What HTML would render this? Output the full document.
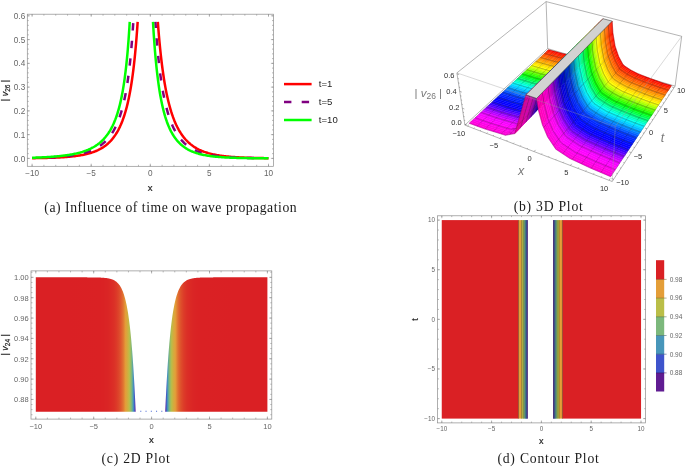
<!DOCTYPE html>
<html lang="en"><head><meta charset="utf-8"><title>Figure</title>
<style>html,body{margin:0;padding:0;background:#fff}svg{display:block}text{white-space:pre}.q{fill:currentColor;stroke:currentColor;stroke-width:.4}.m{stroke:#1a1a1a;stroke-opacity:.55;stroke-width:.4;fill:none}.g{stroke:#333;stroke-opacity:.8;stroke-width:.5;fill:none}</style></head>
<body>
<svg width="685" height="467" viewBox="0 0 685 467">
<rect width="685" height="467" fill="#fff"/>
<g fill="none" stroke-width="2.5" stroke-linecap="butt" stroke-linejoin="round">
<path d="M32.10 158.18L33.10 158.17L34.10 158.15L35.09 158.14L36.09 158.12L37.09 158.11L38.09 158.09L39.08 158.08L40.08 158.06L41.08 158.04L42.07 158.02L43.07 158.00L44.07 157.98L45.06 157.95L46.06 157.93L47.06 157.90L48.05 157.87L49.05 157.84L50.04 157.81L51.04 157.78L52.03 157.75L53.03 157.71L54.02 157.67L55.02 157.63L56.01 157.59L57.00 157.54L58.00 157.50L58.99 157.45L59.98 157.39L60.97 157.34L61.96 157.28L62.95 157.22L63.94 157.15L64.93 157.08L65.92 157.01L66.91 156.93L67.90 156.85L68.89 156.77L69.87 156.67L70.86 156.58L71.85 156.48L72.83 156.37L73.81 156.26L74.80 156.14L75.78 156.02L76.76 155.88L77.74 155.74L78.72 155.60L79.70 155.44L80.67 155.28L81.65 155.10L82.62 154.92L83.59 154.73L84.57 154.52L85.54 154.31L86.50 154.08L87.47 153.84L88.43 153.59L89.40 153.32L90.36 153.04L91.32 152.74L92.27 152.43L93.23 152.10L94.18 151.75L95.13 151.38L96.07 150.99L97.02 150.58L97.96 150.15L98.90 149.69L99.83 149.21L100.76 148.70L101.69 148.16L102.61 147.59L103.53 146.99L104.45 146.36L105.36 145.70L106.27 144.99L107.17 144.25L108.07 143.46L108.96 142.63L109.85 141.76L110.73 140.84L111.61 139.86L112.48 138.84L113.34 137.75L114.20 136.61L115.05 135.40L115.89 134.12L116.73 132.78L117.56 131.36L118.38 129.86L119.19 128.27L120.00 126.60L120.80 124.84L121.58 122.98L122.36 121.02L123.13 118.94L123.89 116.76L124.64 114.45L125.38 112.01L126.11 109.44L126.83 106.72L127.53 103.86L128.23 100.83L128.91 97.64L129.58 94.27L130.24 90.72L130.89 86.97L131.53 83.00L132.15 78.82L132.76 74.41L133.36 69.76L133.94 64.84L134.51 59.65L135.07 54.18L135.61 48.40L136.15 42.30L136.66 35.86L137.17 29.07L137.66 21.90" stroke="#ff0000"/>
<path d="M268.50 158.18L267.47 158.17L266.44 158.16L265.41 158.14L264.38 158.13L263.35 158.12L262.32 158.10L261.29 158.08L260.26 158.07L259.23 158.05L258.21 158.03L257.18 158.01L256.15 157.98L255.12 157.96L254.09 157.94L253.06 157.91L252.04 157.88L251.01 157.86L249.98 157.83L248.95 157.79L247.93 157.76L246.90 157.72L245.87 157.69L244.84 157.65L243.82 157.60L242.79 157.56L241.77 157.51L240.74 157.46L239.72 157.41L238.69 157.36L237.67 157.30L236.64 157.24L235.62 157.17L234.60 157.11L233.58 157.03L232.55 156.96L231.53 156.88L230.51 156.79L229.49 156.70L228.47 156.61L227.45 156.51L226.43 156.40L225.42 156.29L224.40 156.17L223.38 156.05L222.37 155.92L221.35 155.78L220.34 155.64L219.33 155.48L218.31 155.32L217.30 155.15L216.29 154.97L215.29 154.78L214.28 154.57L213.27 154.36L212.27 154.14L211.27 153.90L210.26 153.65L209.26 153.38L208.27 153.11L207.27 152.81L206.28 152.50L205.28 152.17L204.29 151.83L203.31 151.46L202.32 151.07L201.34 150.67L200.36 150.23L199.38 149.78L198.40 149.30L197.43 148.79L196.46 148.26L195.49 147.69L194.53 147.10L193.57 146.47L192.62 145.81L191.67 145.11L190.72 144.37L189.78 143.58L188.84 142.76L187.90 141.89L186.97 140.97L186.05 140.00L185.13 138.98L184.22 137.90L183.31 136.75L182.41 135.55L181.52 134.28L180.63 132.93L179.75 131.52L178.87 130.02L178.00 128.44L177.14 126.77L176.29 125.01L175.45 123.16L174.61 121.20L173.79 119.12L172.97 116.94L172.16 114.63L171.36 112.20L170.58 109.62L169.80 106.91L169.03 104.04L168.27 101.02L167.53 97.82L166.79 94.45L166.07 90.89L165.36 87.14L164.66 83.17L163.97 78.98L163.30 74.56L162.64 69.90L161.99 64.97L161.35 59.77L160.73 54.28L160.12 48.49L159.53 42.37L158.94 35.91L158.38 29.10L157.82 21.90" stroke="#ff0000"/>
<path id="pl" d="M41.23 157.73L42.03 157.71L42.82 157.68L43.61 157.65L44.40 157.62L45.19 157.59L45.98 157.56L46.78 157.53L47.57 157.49L48.36 157.46L49.15 157.42L49.94 157.38L50.73 157.34L51.52 157.30L52.31 157.26L53.10 157.22L53.88 157.17L54.67 157.12L55.46 157.07L56.25 157.02L57.03 156.97L57.82 156.91L58.61 156.85L59.39 156.79L60.17 156.73L60.96 156.66L61.74 156.60L62.52 156.53L63.31 156.45L64.09 156.38L64.87 156.30L65.65 156.22L66.43 156.13L67.21 156.04L67.98 155.95L68.76 155.85L69.54 155.76L70.31 155.65L71.09 155.54L71.86 155.43L72.63 155.32L73.40 155.20L74.18 155.07L74.95 154.94L75.71 154.81L76.48 154.67L77.25 154.52L78.01 154.37L78.78 154.21L79.54 154.05L80.30 153.88L81.06 153.70L81.82 153.52L82.58 153.33L83.33 153.13L84.08 152.93L84.84 152.71L85.59 152.49L86.33 152.26L87.08 152.02L87.83 151.77L88.57 151.51L89.31 151.24L90.05 150.96L90.78 150.67L91.52 150.37L92.25 150.06L92.98 149.73L93.71 149.40L94.43 149.04L95.16 148.68L95.87 148.30L96.59 147.90L97.30 147.50L98.01 147.07L98.72 146.63L99.43 146.17L100.13 145.69L100.83 145.19L101.52 144.68L102.21 144.14L102.90 143.59L103.58 143.01L104.27 142.41L104.94 141.78L105.61 141.13L106.28 140.46L106.94 139.76L107.60 139.03L108.26 138.28L108.91 137.49L109.56 136.68L110.20 135.83L110.83 134.95L111.47 134.03L112.09 133.08L112.71 132.09L113.33 131.07L113.94 130.00L114.55 128.89L115.14 127.74L115.74 126.54L116.33 125.30L116.91 124.01L117.49 122.66L118.06 121.27L118.62 119.82L119.18 118.31L119.73 116.75L120.27 115.12L120.81 113.43L121.35 111.68L121.87 109.85L122.38 107.96L122.90 105.99L123.40 103.94L123.90 101.82L124.39 99.61L124.87 97.32L125.35 94.93L125.81 92.45L126.27 89.88L126.73 87.21L127.17 84.43L127.61 81.54L128.05 78.54L128.47 75.42L128.88 72.18L129.29 68.82L129.69 65.32L130.09 61.69L130.47 57.91L130.85 53.99L131.22 49.92L131.59 45.68L131.94 41.28L132.29 36.71L132.63 31.96L132.97 27.03L133.30 21.90" stroke="#800080" stroke-dasharray="7.3 10.3" stroke-dashoffset="9.66"/>
<path id="pr" d="M155.40 21.90L155.83 28.08L156.26 33.99L156.70 39.63L157.15 45.01L157.61 50.15L158.07 55.05L158.55 59.73L159.04 64.20L159.54 68.47L160.04 72.55L160.56 76.44L161.08 80.15L161.62 83.70L162.16 87.08L162.71 90.31L163.27 93.40L163.84 96.34L164.42 99.15L165.01 101.84L165.60 104.40L166.20 106.85L166.82 109.18L167.43 111.41L168.06 113.54L168.70 115.58L169.34 117.52L169.98 119.37L170.64 121.14L171.30 122.83L171.97 124.44L172.64 125.98L173.32 127.45L174.01 128.85L174.70 130.19L175.40 131.47L176.11 132.69L176.82 133.85L177.53 134.96L178.25 136.03L178.98 137.04L179.71 138.01L180.44 138.93L181.18 139.81L181.92 140.66L182.67 141.46L183.42 142.23L184.17 142.96L184.93 143.66L185.70 144.33L186.46 144.96L187.23 145.57L188.01 146.15L188.78 146.71L189.56 147.24L190.34 147.74L191.12 148.23L191.91 148.69L192.70 149.13L193.49 149.55L194.29 149.95L195.08 150.33L195.88 150.70L196.68 151.05L197.49 151.38L198.29 151.70L199.10 152.00L199.90 152.29L200.71 152.57L201.52 152.83L202.34 153.09L203.15 153.33L203.97 153.56L204.79 153.78L205.60 153.98L206.42 154.18L207.24 154.38L208.07 154.56L208.89 154.73L209.72 154.90L210.54 155.06L211.37 155.21L212.19 155.35L213.02 155.49L213.85 155.62L214.68 155.75L215.51 155.87L216.34 155.98L217.18 156.09L218.01 156.20L218.84 156.30L219.67 156.39L220.51 156.48L221.35 156.57L222.18 156.65L223.02 156.73L223.85 156.81L224.69 156.88L225.52 156.95L226.37 157.01L227.21 157.08L228.04 157.14L228.88 157.19L229.72 157.25L230.56 157.30L231.40 157.35L232.24 157.40L233.09 157.44L233.93 157.49L234.77 157.53L235.61 157.57L236.45 157.61L237.29 157.64L238.13 157.68L238.98 157.71L239.82 157.74L240.66 157.77L241.50 157.80L242.35 157.83L243.19 157.85L244.04 157.88L244.88 157.90L245.72 157.92L246.57 157.94L247.41 157.97L248.25 157.99L249.10 158.00L249.95 158.02L250.79 158.04L251.64 158.06L252.48 158.07L253.33 158.09L254.17 158.10L255.01 158.11L255.86 158.13L256.71 158.14L257.56 158.15L258.40 158.16L259.24 158.17L260.09 158.18" stroke="#800080" stroke-dasharray="7.3 10.3" stroke-dashoffset="1.18"/>
<path d="M32.10 157.73L33.11 157.70L34.12 157.67L35.13 157.64L36.13 157.60L37.14 157.57L38.15 157.53L39.16 157.49L40.16 157.45L41.17 157.40L42.17 157.36L43.18 157.31L44.18 157.26L45.18 157.21L46.19 157.15L47.19 157.10L48.19 157.04L49.19 156.97L50.19 156.91L51.18 156.84L52.18 156.77L53.18 156.70L54.17 156.62L55.17 156.54L56.16 156.45L57.15 156.36L58.14 156.27L59.13 156.17L60.12 156.07L61.11 155.96L62.09 155.85L63.08 155.73L64.06 155.61L65.04 155.48L66.02 155.35L67.00 155.21L67.97 155.07L68.95 154.91L69.92 154.75L70.89 154.59L71.86 154.41L72.82 154.23L73.79 154.04L74.75 153.84L75.71 153.63L76.66 153.41L77.61 153.19L78.56 152.95L79.51 152.70L80.46 152.44L81.40 152.16L82.34 151.88L83.27 151.58L84.20 151.27L85.13 150.94L86.05 150.60L86.97 150.24L87.89 149.87L88.80 149.48L89.71 149.07L90.61 148.65L91.51 148.20L92.40 147.73L93.29 147.25L94.17 146.74L95.05 146.20L95.92 145.65L96.78 145.06L97.64 144.45L98.50 143.81L99.35 143.15L100.19 142.45L101.02 141.72L101.85 140.96L102.67 140.16L103.49 139.32L104.29 138.45L105.09 137.54L105.88 136.58L106.66 135.59L107.44 134.54L108.21 133.45L108.96 132.31L109.71 131.12L110.45 129.87L111.18 128.56L111.90 127.20L112.62 125.77L113.32 124.28L114.01 122.72L114.69 121.09L115.37 119.38L116.03 117.60L116.68 115.73L117.32 113.78L117.95 111.74L118.57 109.60L119.18 107.37L119.78 105.04L120.36 102.60L120.94 100.04L121.50 97.38L122.06 94.58L122.60 91.67L123.13 88.61L123.65 85.42L124.15 82.08L124.65 78.59L125.13 74.94L125.61 71.12L126.07 67.13L126.52 62.96L126.96 58.59L127.39 54.03L127.81 49.25L128.21 44.26L128.61 39.04L128.99 33.58L129.37 27.87L129.73 21.90" stroke="#00ff00"/>
<path d="M268.50 158.32L267.41 158.31L266.32 158.31L265.23 158.30L264.15 158.29L263.06 158.29L261.97 158.28L260.88 158.27L259.79 158.26L258.70 158.26L257.62 158.25L256.53 158.24L255.44 158.23L254.35 158.21L253.27 158.20L252.18 158.19L251.09 158.18L250.00 158.16L248.92 158.15L247.83 158.13L246.74 158.11L245.66 158.09L244.57 158.07L243.48 158.05L242.40 158.03L241.31 158.01L240.23 157.98L239.14 157.96L238.06 157.93L236.97 157.90L235.89 157.86L234.80 157.83L233.72 157.79L232.64 157.75L231.55 157.71L230.47 157.67L229.39 157.62L228.31 157.57L227.23 157.52L226.15 157.46L225.07 157.40L223.99 157.34L222.91 157.27L221.83 157.20L220.75 157.12L219.68 157.04L218.60 156.95L217.52 156.86L216.45 156.76L215.38 156.65L214.31 156.54L213.24 156.42L212.17 156.29L211.10 156.16L210.03 156.01L208.97 155.86L207.90 155.70L206.84 155.52L205.78 155.34L204.72 155.14L203.66 154.93L202.61 154.71L201.55 154.47L200.50 154.22L199.45 153.95L198.41 153.67L197.37 153.36L196.33 153.04L195.29 152.69L194.25 152.33L193.22 151.94L192.20 151.52L191.17 151.08L190.15 150.61L189.14 150.11L188.13 149.58L187.12 149.01L186.12 148.41L185.13 147.77L184.13 147.08L183.15 146.36L182.17 145.58L181.20 144.76L180.23 143.88L179.28 142.95L178.32 141.96L177.38 140.90L176.44 139.78L175.52 138.58L174.60 137.31L173.69 135.96L172.79 134.51L171.90 132.98L171.02 131.35L170.15 129.61L169.30 127.76L168.45 125.79L167.62 123.70L166.79 121.47L165.99 119.10L165.19 116.57L164.41 113.89L163.64 111.03L162.89 107.99L162.15 104.75L161.42 101.30L160.72 97.63L160.02 93.73L159.34 89.58L158.68 85.16L158.04 80.45L157.41 75.44L156.80 70.12L156.20 64.45L155.62 58.41L155.06 51.99L154.52 45.15L153.99 37.88L153.48 30.14L152.99 21.90" stroke="#00ff00"/>
</g>
<path d="M32.10 166.30v-1.50M32.10 14.20v1.50M43.92 166.30v-1.50M43.92 14.20v1.50M55.74 166.30v-1.50M55.74 14.20v1.50M67.56 166.30v-1.50M67.56 14.20v1.50M79.38 166.30v-1.50M79.38 14.20v1.50M91.20 166.30v-1.50M91.20 14.20v1.50M103.02 166.30v-1.50M103.02 14.20v1.50M114.84 166.30v-1.50M114.84 14.20v1.50M126.66 166.30v-1.50M126.66 14.20v1.50M138.48 166.30v-1.50M138.48 14.20v1.50M150.30 166.30v-1.50M150.30 14.20v1.50M162.12 166.30v-1.50M162.12 14.20v1.50M173.94 166.30v-1.50M173.94 14.20v1.50M185.76 166.30v-1.50M185.76 14.20v1.50M197.58 166.30v-1.50M197.58 14.20v1.50M209.40 166.30v-1.50M209.40 14.20v1.50M221.22 166.30v-1.50M221.22 14.20v1.50M233.04 166.30v-1.50M233.04 14.20v1.50M244.86 166.30v-1.50M244.86 14.20v1.50M256.68 166.30v-1.50M256.68 14.20v1.50M268.50 166.30v-1.50M268.50 14.20v1.50M32.10 166.30v-2.60M32.10 14.20v2.60M91.20 166.30v-2.60M91.20 14.20v2.60M150.30 166.30v-2.60M150.30 14.20v2.60M209.40 166.30v-2.60M209.40 14.20v2.60M268.50 166.30v-2.60M268.50 14.20v2.60M27.30 158.40h1.50M273.50 158.40h-1.50M27.30 153.65h1.50M273.50 153.65h-1.50M27.30 148.90h1.50M273.50 148.90h-1.50M27.30 144.14h1.50M273.50 144.14h-1.50M27.30 139.39h1.50M273.50 139.39h-1.50M27.30 134.64h1.50M273.50 134.64h-1.50M27.30 129.89h1.50M273.50 129.89h-1.50M27.30 125.14h1.50M273.50 125.14h-1.50M27.30 120.38h1.50M273.50 120.38h-1.50M27.30 115.63h1.50M273.50 115.63h-1.50M27.30 110.88h1.50M273.50 110.88h-1.50M27.30 106.13h1.50M273.50 106.13h-1.50M27.30 101.38h1.50M273.50 101.38h-1.50M27.30 96.62h1.50M273.50 96.62h-1.50M27.30 91.87h1.50M273.50 91.87h-1.50M27.30 87.12h1.50M273.50 87.12h-1.50M27.30 82.37h1.50M273.50 82.37h-1.50M27.30 77.62h1.50M273.50 77.62h-1.50M27.30 72.86h1.50M273.50 72.86h-1.50M27.30 68.11h1.50M273.50 68.11h-1.50M27.30 63.36h1.50M273.50 63.36h-1.50M27.30 58.61h1.50M273.50 58.61h-1.50M27.30 53.86h1.50M273.50 53.86h-1.50M27.30 49.10h1.50M273.50 49.10h-1.50M27.30 44.35h1.50M273.50 44.35h-1.50M27.30 39.60h1.50M273.50 39.60h-1.50M27.30 34.85h1.50M273.50 34.85h-1.50M27.30 30.10h1.50M273.50 30.10h-1.50M27.30 25.34h1.50M273.50 25.34h-1.50M27.30 20.59h1.50M273.50 20.59h-1.50M27.30 15.84h1.50M273.50 15.84h-1.50M27.30 158.40h2.60M273.50 158.40h-2.60M27.30 134.64h2.60M273.50 134.64h-2.60M27.30 110.88h2.60M273.50 110.88h-2.60M27.30 87.12h2.60M273.50 87.12h-2.60M27.30 63.36h2.60M273.50 63.36h-2.60M27.30 39.60h2.60M273.50 39.60h-2.60M27.30 15.84h2.60M273.50 15.84h-2.60" stroke="#8a8a8a" stroke-width="0.6" fill="none"/>
<rect x="27.30" y="14.20" width="246.20" height="152.10" fill="none" stroke="#8c8c8c" stroke-width="0.70"/>
<g font-family='"Liberation Sans", Arial, sans-serif' font-size="8.20" fill="#666">
<text x="32.10" y="175.70" text-anchor="middle">−10</text>
<text x="91.20" y="175.70" text-anchor="middle">−5</text>
<text x="150.30" y="175.70" text-anchor="middle">0</text>
<text x="209.40" y="175.70" text-anchor="middle">5</text>
<text x="268.50" y="175.70" text-anchor="middle">10</text>
<text x="25.20" y="161.52" text-anchor="end">0.0</text>
<text x="25.20" y="137.76" text-anchor="end">0.1</text>
<text x="25.20" y="114.00" text-anchor="end">0.2</text>
<text x="25.20" y="90.24" text-anchor="end">0.3</text>
<text x="25.20" y="66.48" text-anchor="end">0.4</text>
<text x="25.20" y="42.72" text-anchor="end">0.5</text>
<text x="25.20" y="18.96" text-anchor="end">0.6</text>
</g>
<text x="150.2" y="190.6" text-anchor="middle" font-family='"Liberation Sans", Arial, sans-serif' font-size="9.5" fill="#222" stroke="#222" stroke-width="0.2">x</text>
<text transform="translate(8.3,90.5) rotate(-90)" text-anchor="middle" font-family='"Liberation Sans", Arial, sans-serif' font-size="9" fill="#222" stroke="#222" stroke-width="0.2">| <tspan font-style="italic">v</tspan><tspan font-size="6.5" dy="1.8">26</tspan><tspan dy="-1.8"> |</tspan></text>
<g stroke-width="2.5" fill="none"><path d="M284 84.1H311.6" stroke="#ff0000"/><path d="M284 102H311.6" stroke="#800080" stroke-dasharray="7.4 10.3"/><path d="M284 120H311.6" stroke="#00ff00"/></g>
<g font-family='"Liberation Sans", Arial, sans-serif' font-size="9.6" fill="#222"><text x="318.8" y="87.0">t=1</text><text x="318.8" y="104.9">t=5</text><text x="318.8" y="122.9">t=10</text></g>
<defs>
<linearGradient id="gcl" gradientUnits="userSpaceOnUse" x1="35.80" x2="135.69" y1="0" y2="0">
<stop offset="0.0000" stop-color="#da2024"/>
<stop offset="0.3188" stop-color="#da2024"/>
<stop offset="0.6376" stop-color="#da2124"/>
<stop offset="0.6492" stop-color="#da2124"/>
<stop offset="0.6564" stop-color="#da2224"/>
<stop offset="0.6635" stop-color="#da2224"/>
<stop offset="0.6707" stop-color="#da2224"/>
<stop offset="0.6778" stop-color="#da2224"/>
<stop offset="0.6850" stop-color="#da2324"/>
<stop offset="0.6922" stop-color="#da2325"/>
<stop offset="0.6993" stop-color="#da2425"/>
<stop offset="0.7065" stop-color="#da2425"/>
<stop offset="0.7136" stop-color="#da2525"/>
<stop offset="0.7208" stop-color="#da2525"/>
<stop offset="0.7279" stop-color="#da2625"/>
<stop offset="0.7351" stop-color="#db2725"/>
<stop offset="0.7423" stop-color="#db2825"/>
<stop offset="0.7494" stop-color="#db2925"/>
<stop offset="0.7566" stop-color="#db2a26"/>
<stop offset="0.7637" stop-color="#db2c26"/>
<stop offset="0.7709" stop-color="#db2d26"/>
<stop offset="0.7781" stop-color="#db2f26"/>
<stop offset="0.7852" stop-color="#db3127"/>
<stop offset="0.7924" stop-color="#dc3327"/>
<stop offset="0.7995" stop-color="#dc3628"/>
<stop offset="0.8067" stop-color="#dc3928"/>
<stop offset="0.8139" stop-color="#dc3d29"/>
<stop offset="0.8210" stop-color="#dd4129"/>
<stop offset="0.8282" stop-color="#dd452a"/>
<stop offset="0.8353" stop-color="#dd4a2b"/>
<stop offset="0.8425" stop-color="#de502c"/>
<stop offset="0.8497" stop-color="#de562d"/>
<stop offset="0.8568" stop-color="#df5e2e"/>
<stop offset="0.8640" stop-color="#e0662f"/>
<stop offset="0.8711" stop-color="#e07031"/>
<stop offset="0.8783" stop-color="#e17a32"/>
<stop offset="0.8855" stop-color="#e28734"/>
<stop offset="0.8926" stop-color="#e39537"/>
<stop offset="0.8998" stop-color="#e2a039"/>
<stop offset="0.9069" stop-color="#dca43b"/>
<stop offset="0.9141" stop-color="#d5a93e"/>
<stop offset="0.9212" stop-color="#cdaf41"/>
<stop offset="0.9284" stop-color="#c5b644"/>
<stop offset="0.9356" stop-color="#bbbd48"/>
<stop offset="0.9427" stop-color="#abbd55"/>
<stop offset="0.9499" stop-color="#98bb64"/>
<stop offset="0.9570" stop-color="#84b976"/>
<stop offset="0.9642" stop-color="#6faf8c"/>
<stop offset="0.9714" stop-color="#58a1a7"/>
<stop offset="0.9785" stop-color="#468bbd"/>
<stop offset="0.9857" stop-color="#4167c7"/>
<stop offset="0.9928" stop-color="#4942b9"/>
<stop offset="1.0000" stop-color="#601c92"/>
</linearGradient>
<linearGradient id="gcr" gradientUnits="userSpaceOnUse" x1="165.19" x2="267.40" y1="0" y2="0">
<stop offset="0.0000" stop-color="#601c92"/>
<stop offset="0.0075" stop-color="#4745bc"/>
<stop offset="0.0149" stop-color="#426cc5"/>
<stop offset="0.0224" stop-color="#4791bb"/>
<stop offset="0.0298" stop-color="#5ea59f"/>
<stop offset="0.0373" stop-color="#75b484"/>
<stop offset="0.0448" stop-color="#8cba6e"/>
<stop offset="0.0522" stop-color="#a1bc5d"/>
<stop offset="0.0597" stop-color="#b4bd4d"/>
<stop offset="0.0671" stop-color="#c1b945"/>
<stop offset="0.0746" stop-color="#cbb142"/>
<stop offset="0.0821" stop-color="#d3ab3e"/>
<stop offset="0.0895" stop-color="#dba53c"/>
<stop offset="0.0970" stop-color="#e1a039"/>
<stop offset="0.1044" stop-color="#e39637"/>
<stop offset="0.1119" stop-color="#e28734"/>
<stop offset="0.1194" stop-color="#e17a32"/>
<stop offset="0.1268" stop-color="#e06e30"/>
<stop offset="0.1343" stop-color="#df642f"/>
<stop offset="0.1417" stop-color="#df5c2d"/>
<stop offset="0.1492" stop-color="#de542c"/>
<stop offset="0.1566" stop-color="#de4d2b"/>
<stop offset="0.1641" stop-color="#dd482a"/>
<stop offset="0.1716" stop-color="#dd4329"/>
<stop offset="0.1790" stop-color="#dc3e29"/>
<stop offset="0.1865" stop-color="#dc3a28"/>
<stop offset="0.1939" stop-color="#dc3728"/>
<stop offset="0.2014" stop-color="#dc3427"/>
<stop offset="0.2089" stop-color="#db3127"/>
<stop offset="0.2163" stop-color="#db2f26"/>
<stop offset="0.2238" stop-color="#db2d26"/>
<stop offset="0.2312" stop-color="#db2c26"/>
<stop offset="0.2387" stop-color="#db2a26"/>
<stop offset="0.2462" stop-color="#db2925"/>
<stop offset="0.2536" stop-color="#db2825"/>
<stop offset="0.2611" stop-color="#db2725"/>
<stop offset="0.2685" stop-color="#da2625"/>
<stop offset="0.2760" stop-color="#da2525"/>
<stop offset="0.2835" stop-color="#da2425"/>
<stop offset="0.2909" stop-color="#da2425"/>
<stop offset="0.2984" stop-color="#da2325"/>
<stop offset="0.3058" stop-color="#da2324"/>
<stop offset="0.3133" stop-color="#da2324"/>
<stop offset="0.3208" stop-color="#da2224"/>
<stop offset="0.3282" stop-color="#da2224"/>
<stop offset="0.3357" stop-color="#da2224"/>
<stop offset="0.3431" stop-color="#da2124"/>
<stop offset="0.3506" stop-color="#da2124"/>
<stop offset="0.3581" stop-color="#da2124"/>
<stop offset="0.3655" stop-color="#da2124"/>
<stop offset="0.3768" stop-color="#da2124"/>
<stop offset="0.6884" stop-color="#da2024"/>
<stop offset="1.0000" stop-color="#da2024"/>
</linearGradient>
</defs>
<path d="M35.80 411.66L35.80 277.35L36.30 277.35L36.80 277.35L37.31 277.35L37.81 277.35L38.31 277.35L38.81 277.35L39.31 277.35L39.82 277.35L40.32 277.35L40.82 277.35L41.32 277.35L41.82 277.35L42.33 277.35L42.83 277.35L43.33 277.35L43.83 277.35L44.33 277.35L44.84 277.35L45.34 277.35L45.84 277.35L46.34 277.35L46.84 277.35L47.35 277.35L47.85 277.35L48.35 277.35L48.85 277.35L49.35 277.35L49.85 277.35L50.36 277.35L50.86 277.35L51.36 277.35L51.86 277.35L52.36 277.35L52.87 277.35L53.37 277.35L53.87 277.35L54.37 277.35L54.87 277.35L55.38 277.35L55.88 277.35L56.38 277.35L56.88 277.35L57.38 277.35L57.89 277.35L58.39 277.35L58.89 277.35L59.39 277.35L59.89 277.35L60.40 277.35L60.90 277.35L61.40 277.35L61.90 277.35L62.40 277.35L62.91 277.35L63.41 277.35L63.91 277.35L64.41 277.35L64.91 277.35L65.42 277.35L65.92 277.35L66.42 277.35L66.92 277.35L67.42 277.35L67.93 277.35L68.43 277.35L68.93 277.35L69.43 277.35L69.93 277.35L70.44 277.35L70.94 277.35L71.44 277.35L71.94 277.35L72.44 277.35L72.94 277.35L73.45 277.35L73.95 277.35L74.45 277.35L74.95 277.35L75.45 277.35L75.96 277.35L76.46 277.35L76.96 277.35L77.46 277.35L77.96 277.35L78.47 277.35L78.97 277.36L79.47 277.36L79.97 277.36L80.47 277.36L80.98 277.36L81.48 277.36L81.98 277.36L82.48 277.36L82.98 277.36L83.49 277.36L83.99 277.36L84.49 277.36L84.99 277.37L85.49 277.37L86.00 277.37L86.50 277.37L87.00 277.37L87.50 277.38L88.00 277.38L88.51 277.38L89.01 277.38L89.51 277.39L90.01 277.39L90.51 277.39L91.02 277.40L91.52 277.40L92.02 277.41L92.52 277.41L93.02 277.42L93.53 277.42L94.03 277.43L94.53 277.44L95.03 277.45L95.53 277.46L96.03 277.47L96.54 277.48L97.04 277.49L97.54 277.50L98.04 277.52L98.54 277.53L99.05 277.55L99.55 277.57L100.05 277.59L100.55 277.61L101.05 277.64L101.56 277.66L102.06 277.69L102.56 277.72L103.06 277.76L103.56 277.80L104.07 277.84L104.57 277.89L105.07 277.94L105.57 277.99L106.07 278.05L106.58 278.12L107.08 278.19L107.58 278.27L108.08 278.36L108.58 278.45L109.09 278.56L109.59 278.67L110.09 278.80L110.59 278.93L111.09 279.08L111.60 279.25L112.10 279.42L112.60 279.62L113.10 279.83L113.60 280.07L114.11 280.32L114.61 280.60L115.11 280.91L115.61 281.25L116.11 281.61L116.62 282.01L117.12 282.45L117.62 282.93L118.12 283.46L118.62 284.03L119.13 284.66L119.63 285.35L120.13 286.10L120.63 286.92L121.13 287.82L121.63 288.80L122.14 289.88L122.64 291.05L123.14 292.33L123.64 293.74L124.14 295.27L124.65 296.94L125.15 298.77L125.65 300.77L126.15 302.95L126.65 305.34L127.16 307.94L127.66 310.77L128.16 313.87L128.66 317.25L129.16 320.93L129.67 324.95L130.17 329.33L130.67 334.09L131.17 339.28L131.67 344.93L132.18 351.08L132.68 357.76L133.18 365.02L133.68 372.90L134.18 381.46L134.69 390.73L135.19 400.78L135.69 411.66L135.69 411.66Z" fill="url(#gcl)"/>
<path d="M165.19 411.66L165.19 411.66L165.71 400.54L166.22 390.29L166.74 380.84L167.25 372.15L167.76 364.15L168.28 356.80L168.79 350.05L169.30 343.85L169.82 338.16L170.33 332.95L170.84 328.17L171.36 323.80L171.87 319.79L172.38 316.12L172.90 312.76L173.41 309.69L173.93 306.88L174.44 304.32L174.95 301.97L175.47 299.82L175.98 297.86L176.49 296.07L177.01 294.43L177.52 292.94L178.03 291.58L178.55 290.33L179.06 289.19L179.58 288.16L180.09 287.21L180.60 286.34L181.12 285.55L181.63 284.83L182.14 284.18L182.66 283.58L183.17 283.03L183.68 282.53L184.20 282.07L184.71 281.66L185.22 281.28L185.74 280.93L186.25 280.62L186.77 280.33L187.28 280.07L187.79 279.83L188.31 279.61L188.82 279.41L189.33 279.23L189.85 279.07L190.36 278.91L190.87 278.78L191.39 278.65L191.90 278.54L192.41 278.43L192.93 278.34L193.44 278.25L193.96 278.17L194.47 278.10L194.98 278.03L195.50 277.97L196.01 277.92L196.52 277.87L197.04 277.82L197.55 277.78L198.06 277.74L198.58 277.71L199.09 277.68L199.61 277.65L200.12 277.62L200.63 277.60L201.15 277.58L201.66 277.56L202.17 277.54L202.69 277.52L203.20 277.51L203.71 277.49L204.23 277.48L204.74 277.47L205.25 277.46L205.77 277.45L206.28 277.44L206.80 277.43L207.31 277.42L207.82 277.42L208.34 277.41L208.85 277.41L209.36 277.40L209.88 277.40L210.39 277.39L210.90 277.39L211.42 277.39L211.93 277.38L212.45 277.38L212.96 277.38L213.47 277.37L213.99 277.37L214.50 277.37L215.01 277.37L215.53 277.37L216.04 277.37L216.55 277.36L217.07 277.36L217.58 277.36L218.09 277.36L218.61 277.36L219.12 277.36L219.64 277.36L220.15 277.36L220.66 277.36L221.18 277.36L221.69 277.36L222.20 277.36L222.72 277.35L223.23 277.35L223.74 277.35L224.26 277.35L224.77 277.35L225.29 277.35L225.80 277.35L226.31 277.35L226.83 277.35L227.34 277.35L227.85 277.35L228.37 277.35L228.88 277.35L229.39 277.35L229.91 277.35L230.42 277.35L230.93 277.35L231.45 277.35L231.96 277.35L232.48 277.35L232.99 277.35L233.50 277.35L234.02 277.35L234.53 277.35L235.04 277.35L235.56 277.35L236.07 277.35L236.58 277.35L237.10 277.35L237.61 277.35L238.13 277.35L238.64 277.35L239.15 277.35L239.67 277.35L240.18 277.35L240.69 277.35L241.21 277.35L241.72 277.35L242.23 277.35L242.75 277.35L243.26 277.35L243.77 277.35L244.29 277.35L244.80 277.35L245.32 277.35L245.83 277.35L246.34 277.35L246.86 277.35L247.37 277.35L247.88 277.35L248.40 277.35L248.91 277.35L249.42 277.35L249.94 277.35L250.45 277.35L250.96 277.35L251.48 277.35L251.99 277.35L252.51 277.35L253.02 277.35L253.53 277.35L254.05 277.35L254.56 277.35L255.07 277.35L255.59 277.35L256.10 277.35L256.61 277.35L257.13 277.35L257.64 277.35L258.16 277.35L258.67 277.35L259.18 277.35L259.70 277.35L260.21 277.35L260.72 277.35L261.24 277.35L261.75 277.35L262.26 277.35L262.78 277.35L263.29 277.35L263.80 277.35L264.32 277.35L264.83 277.35L265.35 277.35L265.86 277.35L266.37 277.35L266.89 277.35L267.40 277.35L267.40 411.66Z" fill="url(#gcr)"/>
<path d="M140.30 411.26H165.00" stroke="#3f5fd0" stroke-width="1" stroke-dasharray="1 4.26" fill="none"/>
<path d="M35.80 419.10v-1.50M35.80 270.90v1.50M47.38 419.10v-1.50M47.38 270.90v1.50M58.96 419.10v-1.50M58.96 270.90v1.50M70.54 419.10v-1.50M70.54 270.90v1.50M82.12 419.10v-1.50M82.12 270.90v1.50M93.70 419.10v-1.50M93.70 270.90v1.50M105.28 419.10v-1.50M105.28 270.90v1.50M116.86 419.10v-1.50M116.86 270.90v1.50M128.44 419.10v-1.50M128.44 270.90v1.50M140.02 419.10v-1.50M140.02 270.90v1.50M151.60 419.10v-1.50M151.60 270.90v1.50M163.18 419.10v-1.50M163.18 270.90v1.50M174.76 419.10v-1.50M174.76 270.90v1.50M186.34 419.10v-1.50M186.34 270.90v1.50M197.92 419.10v-1.50M197.92 270.90v1.50M209.50 419.10v-1.50M209.50 270.90v1.50M221.08 419.10v-1.50M221.08 270.90v1.50M232.66 419.10v-1.50M232.66 270.90v1.50M244.24 419.10v-1.50M244.24 270.90v1.50M255.82 419.10v-1.50M255.82 270.90v1.50M267.40 419.10v-1.50M267.40 270.90v1.50M35.80 419.10v-2.60M35.80 270.90v2.60M93.70 419.10v-2.60M93.70 270.90v2.60M151.60 419.10v-2.60M151.60 270.90v2.60M209.50 419.10v-2.60M209.50 270.90v2.60M267.40 419.10v-2.60M267.40 270.90v2.60M31.00 414.71h1.50M271.80 414.71h-1.50M31.00 409.62h1.50M271.80 409.62h-1.50M31.00 404.54h1.50M271.80 404.54h-1.50M31.00 399.45h1.50M271.80 399.45h-1.50M31.00 394.36h1.50M271.80 394.36h-1.50M31.00 389.27h1.50M271.80 389.27h-1.50M31.00 384.19h1.50M271.80 384.19h-1.50M31.00 379.10h1.50M271.80 379.10h-1.50M31.00 374.01h1.50M271.80 374.01h-1.50M31.00 368.93h1.50M271.80 368.93h-1.50M31.00 363.84h1.50M271.80 363.84h-1.50M31.00 358.75h1.50M271.80 358.75h-1.50M31.00 353.66h1.50M271.80 353.66h-1.50M31.00 348.57h1.50M271.80 348.57h-1.50M31.00 343.49h1.50M271.80 343.49h-1.50M31.00 338.40h1.50M271.80 338.40h-1.50M31.00 333.31h1.50M271.80 333.31h-1.50M31.00 328.22h1.50M271.80 328.22h-1.50M31.00 323.14h1.50M271.80 323.14h-1.50M31.00 318.05h1.50M271.80 318.05h-1.50M31.00 312.96h1.50M271.80 312.96h-1.50M31.00 307.87h1.50M271.80 307.87h-1.50M31.00 302.79h1.50M271.80 302.79h-1.50M31.00 297.70h1.50M271.80 297.70h-1.50M31.00 292.61h1.50M271.80 292.61h-1.50M31.00 287.52h1.50M271.80 287.52h-1.50M31.00 282.44h1.50M271.80 282.44h-1.50M31.00 277.35h1.50M271.80 277.35h-1.50M31.00 272.26h1.50M271.80 272.26h-1.50M31.00 277.35h2.60M271.80 277.35h-2.60M31.00 297.70h2.60M271.80 297.70h-2.60M31.00 318.05h2.60M271.80 318.05h-2.60M31.00 338.40h2.60M271.80 338.40h-2.60M31.00 358.75h2.60M271.80 358.75h-2.60M31.00 379.10h2.60M271.80 379.10h-2.60M31.00 399.45h2.60M271.80 399.45h-2.60" stroke="#8a8a8a" stroke-width="0.6" fill="none"/>
<rect x="31.00" y="270.90" width="240.80" height="148.20" fill="none" stroke="#8c8c8c" stroke-width="0.70"/>
<g font-family='"Liberation Sans", Arial, sans-serif' font-size="7.50" fill="#666">
<text x="35.80" y="428.80" text-anchor="middle">−10</text>
<text x="93.70" y="428.80" text-anchor="middle">−5</text>
<text x="151.60" y="428.80" text-anchor="middle">0</text>
<text x="209.50" y="428.80" text-anchor="middle">5</text>
<text x="267.40" y="428.80" text-anchor="middle">10</text>
<text x="28.60" y="280.20" text-anchor="end">1.00</text>
<text x="28.60" y="300.55" text-anchor="end">0.98</text>
<text x="28.60" y="320.90" text-anchor="end">0.96</text>
<text x="28.60" y="341.25" text-anchor="end">0.94</text>
<text x="28.60" y="361.60" text-anchor="end">0.92</text>
<text x="28.60" y="381.95" text-anchor="end">0.90</text>
<text x="28.60" y="402.30" text-anchor="end">0.88</text>
</g>
<text x="151.4" y="443.3" text-anchor="middle" font-family='"Liberation Sans", Arial, sans-serif' font-size="9.5" fill="#222" stroke="#222" stroke-width="0.2">x</text>
<text transform="translate(8.3,344.8) rotate(-90)" text-anchor="middle" font-family='"Liberation Sans", Arial, sans-serif' font-size="9" fill="#222" stroke="#222" stroke-width="0.2">| <tspan font-style="italic">v</tspan><tspan font-size="6.5" dy="1.8">24</tspan><tspan dy="-1.8"> |</tspan></text>
<rect x="527.18" y="220.10" width="0.59" height="198.50" fill="#601c92"/>
<rect x="526.25" y="220.10" width="1.02" height="198.50" fill="#3e54cc"/>
<rect x="525.14" y="220.10" width="1.22" height="198.50" fill="#4896ba"/>
<rect x="523.71" y="220.10" width="1.53" height="198.50" fill="#7cb87c"/>
<rect x="521.72" y="220.10" width="2.09" height="198.50" fill="#babe48"/>
<rect x="518.35" y="220.10" width="3.47" height="198.50" fill="#e49e38"/>
<rect x="441.75" y="220.10" width="76.70" height="198.50" fill="#da2024"/>
<path d="M527.23 220.10V418.60" stroke="#2b0d42" stroke-width="0.6" fill="none"/>
<path d="M526.30 220.10V418.60" stroke="#1c265c" stroke-width="0.6" fill="none"/>
<path d="M525.19 220.10V418.60" stroke="#204454" stroke-width="0.6" fill="none"/>
<path d="M523.76 220.10V418.60" stroke="#385338" stroke-width="0.6" fill="none"/>
<path d="M521.77 220.10V418.60" stroke="#545620" stroke-width="0.6" fill="none"/>
<path d="M518.40 220.10V418.60" stroke="#674719" stroke-width="0.6" fill="none"/>
<rect x="553.04" y="220.10" width="0.59" height="198.50" fill="#601c92"/>
<rect x="553.53" y="220.10" width="1.02" height="198.50" fill="#3e54cc"/>
<rect x="554.45" y="220.10" width="1.22" height="198.50" fill="#4896ba"/>
<rect x="555.57" y="220.10" width="1.53" height="198.50" fill="#7cb87c"/>
<rect x="557.00" y="220.10" width="2.09" height="198.50" fill="#babe48"/>
<rect x="558.99" y="220.10" width="3.47" height="198.50" fill="#e49e38"/>
<rect x="562.36" y="220.10" width="78.69" height="198.50" fill="#da2024"/>
<path d="M553.58 220.10V418.60" stroke="#2b0d42" stroke-width="0.6" fill="none"/>
<path d="M554.50 220.10V418.60" stroke="#1c265c" stroke-width="0.6" fill="none"/>
<path d="M555.62 220.10V418.60" stroke="#204454" stroke-width="0.6" fill="none"/>
<path d="M557.05 220.10V418.60" stroke="#385338" stroke-width="0.6" fill="none"/>
<path d="M559.04 220.10V418.60" stroke="#545620" stroke-width="0.6" fill="none"/>
<path d="M562.41 220.10V418.60" stroke="#674719" stroke-width="0.6" fill="none"/>
<path d="M441.80 422.90v-1.30M441.80 215.80v1.30M451.76 422.90v-1.30M451.76 215.80v1.30M461.72 422.90v-1.30M461.72 215.80v1.30M471.68 422.90v-1.30M471.68 215.80v1.30M481.64 422.90v-1.30M481.64 215.80v1.30M491.60 422.90v-1.30M491.60 215.80v1.30M501.56 422.90v-1.30M501.56 215.80v1.30M511.52 422.90v-1.30M511.52 215.80v1.30M521.48 422.90v-1.30M521.48 215.80v1.30M531.44 422.90v-1.30M531.44 215.80v1.30M541.40 422.90v-1.30M541.40 215.80v1.30M551.36 422.90v-1.30M551.36 215.80v1.30M561.32 422.90v-1.30M561.32 215.80v1.30M571.28 422.90v-1.30M571.28 215.80v1.30M581.24 422.90v-1.30M581.24 215.80v1.30M591.20 422.90v-1.30M591.20 215.80v1.30M601.16 422.90v-1.30M601.16 215.80v1.30M611.12 422.90v-1.30M611.12 215.80v1.30M621.08 422.90v-1.30M621.08 215.80v1.30M631.04 422.90v-1.30M631.04 215.80v1.30M641.00 422.90v-1.30M641.00 215.80v1.30M441.80 422.90v-2.40M441.80 215.80v2.40M491.60 422.90v-2.40M491.60 215.80v2.40M541.40 422.90v-2.40M541.40 215.80v2.40M591.20 422.90v-2.40M591.20 215.80v2.40M641.00 422.90v-2.40M641.00 215.80v2.40M437.60 418.60h1.30M645.50 418.60h-1.30M437.60 408.68h1.30M645.50 408.68h-1.30M437.60 398.75h1.30M645.50 398.75h-1.30M437.60 388.83h1.30M645.50 388.83h-1.30M437.60 378.90h1.30M645.50 378.90h-1.30M437.60 368.98h1.30M645.50 368.98h-1.30M437.60 359.05h1.30M645.50 359.05h-1.30M437.60 349.12h1.30M645.50 349.12h-1.30M437.60 339.20h1.30M645.50 339.20h-1.30M437.60 329.28h1.30M645.50 329.28h-1.30M437.60 319.35h1.30M645.50 319.35h-1.30M437.60 309.43h1.30M645.50 309.43h-1.30M437.60 299.50h1.30M645.50 299.50h-1.30M437.60 289.58h1.30M645.50 289.58h-1.30M437.60 279.65h1.30M645.50 279.65h-1.30M437.60 269.73h1.30M645.50 269.73h-1.30M437.60 259.80h1.30M645.50 259.80h-1.30M437.60 249.88h1.30M645.50 249.88h-1.30M437.60 239.95h1.30M645.50 239.95h-1.30M437.60 230.03h1.30M645.50 230.03h-1.30M437.60 220.10h1.30M645.50 220.10h-1.30M437.60 418.60h2.40M645.50 418.60h-2.40M437.60 368.98h2.40M645.50 368.98h-2.40M437.60 319.35h2.40M645.50 319.35h-2.40M437.60 269.73h2.40M645.50 269.73h-2.40M437.60 220.10h2.40M645.50 220.10h-2.40" stroke="#8a8a8a" stroke-width="0.6" fill="none"/>
<rect x="437.60" y="215.80" width="207.90" height="207.10" fill="none" stroke="#8c8c8c" stroke-width="0.70"/>
<g font-family='"Liberation Sans", Arial, sans-serif' font-size="6.30" fill="#666">
<text x="441.80" y="431.00" text-anchor="middle">−10</text>
<text x="491.60" y="431.00" text-anchor="middle">−5</text>
<text x="541.40" y="431.00" text-anchor="middle">0</text>
<text x="591.20" y="431.00" text-anchor="middle">5</text>
<text x="641.00" y="431.00" text-anchor="middle">10</text>
<text x="434.90" y="420.99" text-anchor="end">−10</text>
<text x="434.90" y="371.37" text-anchor="end">−5</text>
<text x="434.90" y="321.74" text-anchor="end">0</text>
<text x="434.90" y="272.12" text-anchor="end">5</text>
<text x="434.90" y="222.49" text-anchor="end">10</text>
</g>
<text x="541.3" y="443.6" text-anchor="middle" font-family='"Liberation Sans", Arial, sans-serif' font-size="9" fill="#222" stroke="#222" stroke-width="0.2">x</text>
<text transform="translate(418.4,319.4) rotate(-90)" text-anchor="middle" font-family='"Liberation Sans", Arial, sans-serif' font-size="9" fill="#222" stroke="#222" stroke-width="0.2">t</text>
<rect x="656.00" y="372.90" width="8.20" height="18.60" fill="#601c92"/>
<rect x="656.00" y="354.20" width="8.20" height="18.80" fill="#3e54cc"/>
<rect x="656.00" y="335.50" width="8.20" height="18.80" fill="#4896ba"/>
<rect x="656.00" y="316.80" width="8.20" height="18.80" fill="#7cb87c"/>
<rect x="656.00" y="298.10" width="8.20" height="18.80" fill="#babe48"/>
<rect x="656.00" y="279.40" width="8.20" height="18.80" fill="#e49e38"/>
<rect x="656.00" y="260.20" width="8.20" height="19.30" fill="#da2024"/>
<path d="M656.00 372.90H666.60" stroke="#350f50" stroke-width="0.5"/>
<path d="M656.00 354.20H666.60" stroke="#222e70" stroke-width="0.5"/>
<path d="M656.00 335.50H666.60" stroke="#285266" stroke-width="0.5"/>
<path d="M656.00 316.80H666.60" stroke="#446544" stroke-width="0.5"/>
<path d="M656.00 298.10H666.60" stroke="#666928" stroke-width="0.5"/>
<path d="M656.00 279.40H666.60" stroke="#7d571f" stroke-width="0.5"/>
<g font-family='"Liberation Sans", Arial, sans-serif' font-size="6.5" fill="#666">
<text x="669.7" y="375.20">0.88</text>
<text x="669.7" y="356.50">0.90</text>
<text x="669.7" y="337.80">0.92</text>
<text x="669.7" y="319.10">0.94</text>
<text x="669.7" y="300.40">0.96</text>
<text x="669.7" y="281.70">0.98</text>
</g>
<text class="cap" x="44.30" y="211.60" font-family='"Liberation Serif", "DejaVu Serif", serif' font-size="13.70" fill="#1a1a1a" textLength="252.30" lengthAdjust="spacing">(a) Influence of time on wave propagation</text>
<text class="cap" x="513.70" y="210.60" font-family='"Liberation Serif", "DejaVu Serif", serif' font-size="13.70" fill="#1a1a1a" textLength="69.10" lengthAdjust="spacing">(b) 3D Plot</text>
<text class="cap" x="101.50" y="462.80" font-family='"Liberation Serif", "DejaVu Serif", serif' font-size="13.70" fill="#1a1a1a" textLength="68.40" lengthAdjust="spacing">(c) 2D Plot</text>
<text class="cap" x="497.40" y="462.80" font-family='"Liberation Serif", "DejaVu Serif", serif' font-size="13.70" fill="#1a1a1a" textLength="101.50" lengthAdjust="spacing">(d) Contour Plot</text>
<path d="M547.7 48.6L546.1 1.6" stroke="#6a6a6a" stroke-width="0.50" fill="none"/>
<path d="M547.7 48.6L464.9 125.1" stroke="#6a6a6a" stroke-width="0.50" fill="none"/>
<path d="M547.7 48.6L675.1 86.1" stroke="#6a6a6a" stroke-width="0.50" fill="none"/>
<path d="M546.1 1.6L681.7 36.3" stroke="#6a6a6a" stroke-width="0.50" fill="none"/>
<path d="M546.1 1.6L456.9 72.9" stroke="#6a6a6a" stroke-width="0.50" fill="none"/>
<path d="M464.9 125.1L456.9 72.9" stroke="#6a6a6a" stroke-width="0.50" fill="none"/>
<path d="M464.9 125.1L612.2 181.5" stroke="#6a6a6a" stroke-width="0.50" fill="none"/>
<path d="M612.2 181.5L675.1 86.1" stroke="#6a6a6a" stroke-width="0.50" fill="none"/>
<path d="M675.1 86.1L681.7 36.3" stroke="#6a6a6a" stroke-width="0.50" fill="none"/>
<g class="s3">
<path class="q" color="#ff0800" d="M547.5 50.6l7.1 1.9l7.1 2l7.2 1.6l7.3 1.5l3.6 0.8l0.9 -1l-3.6 -0.8l-7.2 -1.5l-7.2 -1.6l-7.1 -1.9l-7 -1.9z"/>
<path class="m" d="M547.5 50.6l1.1 -0.9M554.6 52.5l1 -0.9M561.7 54.5l1 -1M568.9 56.1l1 -1M576.2 57.6l0.9 -1M548.6 49.7l7 1.9l7.1 1.9l7.2 1.6l7.2 1.5l3.6 0.8"/>
<path class="q" color="#ef0700" d="M579.8 58.4l3.8 -1l4.9 -1.4l1 -1l-5 1.3l-3.8 1.1z"/>
<path class="m" d="M583.6 57.4l0.9 -1.1M580.7 57.4l3.8 -1.1l5 -1.3"/>
<path class="q" color="#de0f00" d="M588.5 56l2.8 -7.4l8.4 -22.8l2.3 -6.1l1 -1l-2.3 6.1l-8.4 22.8l-2.8 7.4z"/>
<path class="m" d="M591.3 48.6l1 -1M599.7 25.8l1 -1M589.5 55l2.8 -7.4l8.4 -22.8l2.3 -6.1"/>
<path class="q" color="#ff0800" d="M611.3 22.1l0.6 11.6l2.3 13.2l0.7 2.6l2.9 8l4.3 8.1l2.1 1.6l5.7 3.9l6 3.1l1.9 0.8l8.1 3.2l8 3l0.2 0l8.2 3l8.5 2.5l0.7 -1.1l-8.4 -2.5l-8.2 -3l-0.2 -0.1l-8 -2.9l-8 -3.2l-1.9 -0.8l-6 -3.1l-5.7 -3.8l-2.1 -1.7l-4.3 -8l-2.8 -8.1l-0.8 -2.5l-2.2 -13.2l-0.7 -11.6z"/>
<path class="m" d="M614.9 49.5l1 -1.1M622.1 65.6l0.9 -1.1M629.9 71.1l0.9 -1.1M637.8 75l0.9 -1.1M645.9 78.2l0.8 -1.1M654.1 81.2l0.8 -1.1M662.3 84.2l0.8 -1.1M670.8 86.7l0.7 -1.1M612.2 21.1l0.7 11.6l2.2 13.2l0.8 2.5l2.8 8.1l4.3 8l2.1 1.7l5.7 3.8l6 3.1l1.9 0.8l8 3.2l8 2.9l0.2 0.1l8.2 3l8.4 2.5"/>
<path class="q" color="#ff1700" d="M546.5 51.6l7 1.9l7.2 2l7.2 1.5l7.3 1.6l3.6 0.8l1 -1l-3.6 -0.8l-7.3 -1.5l-7.2 -1.6l-7.1 -2l-7.1 -1.9z"/>
<path class="m" d="M546.5 51.6l1 -1M553.5 53.5l1.1 -1M560.7 55.5l1 -1M567.9 57l1 -0.9M575.2 58.6l1 -1"/>
<path class="q" color="#ef1600" d="M578.8 59.4l3.8 -1l5 -1.4l0.9 -1l-4.9 1.4l-3.8 1z"/>
<path class="m" d="M582.6 58.4l1 -1"/>
<path class="q" color="#de1e00" d="M587.6 57l2.7 -7.4l8.5 -22.8l2.2 -6.1l1 -1l-2.3 6.1l-8.4 22.8l-2.8 7.4z"/>
<path class="m" d="M590.3 49.6l1 -1M598.8 26.8l0.9 -1"/>
<path class="q" color="#ff1700" d="M610.3 23.1l0.7 11.6l2.2 13.2l0.8 2.6l2.9 8.1l4.3 8l2.1 1.7l5.7 3.8l6 3.2l2 0.8l8.1 3.2l7.9 3l0.2 0.1l8.3 3l8.5 2.5l0.8 -1.2l-8.5 -2.5l-8.2 -3l-0.2 0l-8 -3l-8.1 -3.2l-1.9 -0.8l-6 -3.1l-5.7 -3.9l-2.1 -1.6l-4.3 -8.1l-2.9 -8l-0.7 -2.6l-2.3 -13.2l-0.6 -11.6z"/>
<path class="m" d="M614 50.5l0.9 -1M621.2 66.6l0.9 -1M629 72.1l0.9 -1M637 76.1l0.8 -1.1M645.1 79.3l0.8 -1.1M653.2 82.4l0.9 -1.2M661.5 85.4l0.8 -1.2M670 87.9l0.8 -1.2"/>
<path class="q" color="#ff2600" d="M545.5 52.5l7 2l7.1 2l7.3 1.6l7.3 1.5l3.6 0.8l1 -1l-3.6 -0.8l-7.3 -1.6l-7.2 -1.5l-7.2 -2l-7 -1.9z"/>
<path class="m" d="M545.5 52.5l1 -0.9M552.5 54.5l1 -1M559.6 56.5l1.1 -1M566.9 58.1l1 -1.1M574.2 59.6l1 -1"/>
<path class="q" color="#ef2400" d="M577.8 60.4l3.8 -1l5 -1.3l1 -1.1l-5 1.4l-3.8 1z"/>
<path class="m" d="M581.6 59.4l1 -1"/>
<path class="q" color="#de2c00" d="M586.6 58.1l2.7 -7.5l8.5 -22.8l2.2 -6.2l1 -0.9l-2.2 6.1l-8.5 22.8l-2.7 7.4z"/>
<path class="m" d="M589.3 50.6l1 -1M597.8 27.8l1 -1"/>
<path class="q" color="#ff2600" d="M609.3 24.1l0.7 11.6l2.3 13.3l0.8 2.5l2.9 8.1l4.3 8.1l2.1 1.7l5.7 3.8l6.1 3.2l1.9 0.8l8.1 3.2l8 3l0.2 0.1l8.3 3l8.5 2.6l0.8 -1.2l-8.5 -2.5l-8.3 -3l-0.2 -0.1l-7.9 -3l-8.1 -3.2l-2 -0.8l-6 -3.2l-5.7 -3.8l-2.1 -1.7l-4.3 -8l-2.9 -8.1l-0.8 -2.6l-2.2 -13.2l-0.7 -11.6z"/>
<path class="m" d="M613.1 51.5l0.9 -1M620.3 67.7l0.9 -1.1M628.1 73.2l0.9 -1.1M636.1 77.2l0.9 -1.1M644.2 80.4l0.9 -1.1M652.4 83.5l0.8 -1.1M660.7 86.5l0.8 -1.1M669.2 89.1l0.8 -1.2"/>
<path class="q" color="#ff3600" d="M544.4 53.5l7.1 2l7.1 2l7.3 1.6l7.3 1.6l3.6 0.7l1 -1l-3.6 -0.8l-7.3 -1.5l-7.3 -1.6l-7.1 -2l-7 -2z"/>
<path class="m" d="M544.4 53.5l1.1 -1M551.5 55.5l1 -1M558.6 57.5l1 -1M565.9 59.1l1 -1M573.2 60.7l1 -1.1M544.4 53.5l7.1 2l7.1 2l7.3 1.6l7.3 1.6l3.6 0.7"/>
<path class="q" color="#ef3200" d="M576.8 61.4l3.8 -1l5 -1.3l1 -1l-5 1.3l-3.8 1z"/>
<path class="m" d="M580.6 60.4l1 -1M576.8 61.4l3.8 -1l5 -1.3"/>
<path class="q" color="#de3a00" d="M585.6 59.1l2.8 -7.5l8.4 -22.8l2.2 -6.2l1 -1l-2.2 6.2l-8.5 22.8l-2.7 7.5z"/>
<path class="m" d="M588.4 51.6l0.9 -1M596.8 28.8l1 -1M585.6 59.1l2.8 -7.5l8.4 -22.8l2.2 -6.2"/>
<path class="q" color="#ff3600" d="M608.3 25.1l0.7 11.6l2.3 13.3l0.8 2.5l3 8.2l4.3 8l2.1 1.8l5.8 3.8l6 3.2l1.9 0.8l8.2 3.3l8 3l0.2 0.1l8.3 3l8.5 2.6l0.8 -1.2l-8.5 -2.6l-8.3 -3l-0.2 -0.1l-8 -3l-8.1 -3.2l-1.9 -0.8l-6.1 -3.2l-5.7 -3.8l-2.1 -1.7l-4.3 -8.1l-2.9 -8.1l-0.8 -2.5l-2.3 -13.3l-0.7 -11.6z"/>
<path class="m" d="M612.1 52.5l1 -1M619.4 68.7l0.9 -1M627.3 74.3l0.8 -1.1M635.2 78.3l0.9 -1.1M643.4 81.6l0.8 -1.2M651.6 84.7l0.8 -1.2M659.9 87.7l0.8 -1.2M668.4 90.3l0.8 -1.2M608.3 25.1l0.7 11.6l2.3 13.3l0.8 2.5l3 8.2l4.3 8l2.1 1.8l5.8 3.8l6 3.2l1.9 0.8l8.2 3.3l8 3l0.2 0.1l8.3 3l8.5 2.6"/>
<path class="q" color="#ff4500" d="M543.4 54.5l7 2l7.2 2l7.2 1.6l7.4 1.6l3.6 0.8l1 -1.1l-3.6 -0.7l-7.3 -1.6l-7.3 -1.6l-7.1 -2l-7.1 -2z"/>
<path class="m" d="M543.4 54.5l1 -1M550.4 56.5l1.1 -1M557.6 58.5l1 -1M564.8 60.1l1.1 -1M572.2 61.7l1 -1M544.4 53.5l7.1 2l7.1 2l7.3 1.6l7.3 1.6l3.6 0.7"/>
<path class="q" color="#ef4100" d="M575.8 62.5l3.8 -1.1l5 -1.3l1 -1l-5 1.3l-3.8 1z"/>
<path class="m" d="M579.6 61.4l1 -1M576.8 61.4l3.8 -1l5 -1.3"/>
<path class="q" color="#de4900" d="M584.6 60.1l2.8 -7.5l8.4 -22.8l2.2 -6.2l1 -1l-2.2 6.2l-8.4 22.8l-2.8 7.5z"/>
<path class="m" d="M587.4 52.6l1 -1M595.8 29.8l1 -1M585.6 59.1l2.8 -7.5l8.4 -22.8l2.2 -6.2"/>
<path class="q" color="#ff4500" d="M607.4 26.1l0.7 11.6l2.3 13.3l0.8 2.6l2.9 8.1l4.4 8.1l2.1 1.8l5.8 3.8l6 3.2l2 0.8l8.1 3.3l8.1 3l0.2 0.1l8.3 3l8.5 2.6l0.8 -1.1l-8.5 -2.6l-8.3 -3l-0.2 -0.1l-8 -3l-8.2 -3.3l-1.9 -0.8l-6 -3.2l-5.8 -3.8l-2.1 -1.8l-4.3 -8l-3 -8.2l-0.8 -2.5l-2.3 -13.3l-0.7 -11.6z"/>
<path class="m" d="M611.2 53.6l0.9 -1.1M618.5 69.8l0.9 -1.1M626.4 75.4l0.9 -1.1M634.4 79.4l0.8 -1.1M642.5 82.7l0.9 -1.1M650.8 85.8l0.8 -1.1M659.1 88.8l0.8 -1.1M667.6 91.4l0.8 -1.1M608.3 25.1l0.7 11.6l2.3 13.3l0.8 2.5l3 8.2l4.3 8l2.1 1.8l5.8 3.8l6 3.2l1.9 0.8l8.2 3.3l8 3l0.2 0.1l8.3 3l8.5 2.6"/>
<path class="q" color="#ff5400" d="M542.3 55.5l7.1 2l7.2 2l7.2 1.6l7.4 1.6l3.6 0.8l1 -1l-3.6 -0.8l-7.4 -1.6l-7.2 -1.6l-7.2 -2l-7 -2z"/>
<path class="m" d="M542.3 55.5l1.1 -1M549.4 57.5l1 -1M556.6 59.5l1 -1M563.8 61.1l1 -1M571.2 62.7l1 -1"/>
<path class="q" color="#ef4f00" d="M574.8 63.5l3.8 -1l5 -1.3l1 -1.1l-5 1.3l-3.8 1.1z"/>
<path class="m" d="M578.6 62.5l1 -1.1"/>
<path class="q" color="#de5700" d="M583.6 61.2l2.8 -7.5l8.4 -22.9l2.2 -6.2l1 -1l-2.2 6.2l-8.4 22.8l-2.8 7.5z"/>
<path class="m" d="M586.4 53.7l1 -1.1M594.8 30.8l1 -1"/>
<path class="q" color="#ff5400" d="M606.4 27.1l0.7 11.6l2.3 13.4l0.8 2.5l3 8.2l4.4 8l2.1 1.9l5.8 3.8l6.1 3.3l1.9 0.7l8.2 3.3l8 3.1l0.2 0.1l8.4 3l8.5 2.6l0.8 -1.2l-8.5 -2.6l-8.3 -3l-0.2 -0.1l-8.1 -3l-8.1 -3.3l-2 -0.8l-6 -3.2l-5.8 -3.8l-2.1 -1.8l-4.4 -8.1l-2.9 -8.1l-0.8 -2.6l-2.3 -13.3l-0.7 -11.6z"/>
<path class="m" d="M610.2 54.6l1 -1M617.6 70.8l0.9 -1M625.5 76.5l0.9 -1.1M633.5 80.5l0.9 -1.1M641.7 83.8l0.8 -1.1M649.9 87l0.9 -1.2M658.3 90l0.8 -1.2M666.8 92.6l0.8 -1.2"/>
<path class="q" color="#ff6300" d="M541.2 56.5l7.1 2l7.2 2l7.3 1.6l7.4 1.6l3.6 0.8l1 -1l-3.6 -0.8l-7.4 -1.6l-7.2 -1.6l-7.2 -2l-7.1 -2z"/>
<path class="m" d="M541.2 56.5l1.1 -1M548.3 58.5l1.1 -1M555.5 60.5l1.1 -1M562.8 62.1l1 -1M570.2 63.7l1 -1"/>
<path class="q" color="#ef5d00" d="M573.8 64.5l3.8 -1l5 -1.3l1 -1l-5 1.3l-3.8 1z"/>
<path class="m" d="M577.6 63.5l1 -1"/>
<path class="q" color="#de6500" d="M582.6 62.2l2.8 -7.5l8.3 -22.9l2.3 -6.2l1 -1l-2.2 6.2l-8.4 22.9l-2.8 7.5z"/>
<path class="m" d="M585.4 54.7l1 -1M593.7 31.8l1.1 -1"/>
<path class="q" color="#ff6300" d="M605.4 28.1l0.7 11.7l2.4 13.3l0.8 2.5l3 8.2l4.4 8.1l2 1.9l5.9 3.8l6.1 3.3l1.9 0.8l8.2 3.3l8.1 3.1l0.2 0l8.4 3.1l8.5 2.6l0.8 -1.2l-8.5 -2.6l-8.4 -3l-0.2 -0.1l-8 -3.1l-8.2 -3.3l-1.9 -0.7l-6.1 -3.3l-5.8 -3.8l-2.1 -1.9l-4.4 -8l-3 -8.2l-0.8 -2.5l-2.3 -13.4l-0.7 -11.6z"/>
<path class="m" d="M609.3 55.6l0.9 -1M616.7 71.9l0.9 -1.1M624.6 77.6l0.9 -1.1M632.6 81.7l0.9 -1.2M640.8 85l0.9 -1.2M649.1 88.1l0.8 -1.1M657.5 91.2l0.8 -1.2M666 93.8l0.8 -1.2"/>
<path class="q" color="#ff7300" d="M540.2 57.5l7.1 2l7.2 2l7.3 1.6l7.3 1.7l3.7 0.8l1 -1.1l-3.6 -0.8l-7.4 -1.6l-7.3 -1.6l-7.2 -2l-7.1 -2z"/>
<path class="m" d="M540.2 57.5l1 -1M547.3 59.5l1 -1M554.5 61.5l1 -1M561.8 63.1l1 -1M569.1 64.8l1.1 -1.1M540.2 57.5l7.1 2l7.2 2l7.3 1.6l7.3 1.7l3.7 0.8"/>
<path class="q" color="#ef6c00" d="M572.8 65.6l3.8 -1l5 -1.3l1 -1.1l-5 1.3l-3.8 1z"/>
<path class="m" d="M576.6 64.6l1 -1.1M572.8 65.6l3.8 -1l5 -1.3"/>
<path class="q" color="#de7400" d="M581.6 63.3l2.8 -7.5l8.3 -23l2.3 -6.2l1 -1l-2.3 6.2l-8.3 22.9l-2.8 7.5z"/>
<path class="m" d="M584.4 55.8l1 -1.1M592.7 32.8l1 -1M581.6 63.3l2.8 -7.5l8.3 -23l2.3 -6.2"/>
<path class="q" color="#ff7300" d="M604.4 29.1l0.7 11.7l2.4 13.3l0.8 2.6l3 8.2l4.5 8.1l2 1.9l5.9 3.8l6.1 3.3l1.9 0.8l8.2 3.4l8.1 3l0.2 0.1l8.4 3.1l8.6 2.7l0.8 -1.3l-8.5 -2.6l-8.4 -3.1l-0.2 0l-8.1 -3.1l-8.2 -3.3l-1.9 -0.8l-6.1 -3.3l-5.9 -3.8l-2 -1.9l-4.4 -8.1l-3 -8.2l-0.8 -2.5l-2.4 -13.3l-0.7 -11.7z"/>
<path class="m" d="M608.3 56.7l1 -1.1M615.8 73l0.9 -1.1M623.7 78.7l0.9 -1.1M631.7 82.8l0.9 -1.1M639.9 86.2l0.9 -1.2M648.2 89.3l0.9 -1.2M656.6 92.4l0.9 -1.2M665.2 95.1l0.8 -1.3M604.4 29.1l0.7 11.7l2.4 13.3l0.8 2.6l3 8.2l4.5 8.1l2 1.9l5.9 3.8l6.1 3.3l1.9 0.8l8.2 3.4l8.1 3l0.2 0.1l8.4 3.1l8.6 2.7"/>
<path class="q" color="#ff8300" d="M539.1 58.5l7.1 2l7.2 2l7.3 1.7l7.4 1.6l3.7 0.8l1 -1l-3.7 -0.8l-7.3 -1.7l-7.3 -1.6l-7.2 -2l-7.1 -2z"/>
<path class="m" d="M539.1 58.5l1.1 -1M546.2 60.5l1.1 -1M553.4 62.5l1.1 -1M560.7 64.2l1.1 -1.1M568.1 65.8l1 -1M540.2 57.5l7.1 2l7.2 2l7.3 1.6l7.3 1.7l3.7 0.8"/>
<path class="q" color="#ef7b00" d="M571.8 66.6l3.8 -1l5 -1.3l1 -1l-5 1.3l-3.8 1z"/>
<path class="m" d="M575.6 65.6l1 -1M572.8 65.6l3.8 -1l5 -1.3"/>
<path class="q" color="#de8300" d="M580.6 64.3l2.8 -7.5l8.3 -23l2.2 -6.2l1.1 -1l-2.3 6.2l-8.3 23l-2.8 7.5z"/>
<path class="m" d="M583.4 56.8l1 -1M591.7 33.8l1 -1M581.6 63.3l2.8 -7.5l8.3 -23l2.3 -6.2"/>
<path class="q" color="#ff8300" d="M603.4 30.2l0.7 11.6l2.4 13.4l0.9 2.6l3 8.2l4.4 8.1l2.1 1.9l5.9 3.9l6.1 3.3l1.9 0.8l8.3 3.3l8.1 3.1l0.2 0.1l8.4 3.1l8.6 2.7l0.8 -1.2l-8.6 -2.7l-8.4 -3.1l-0.2 -0.1l-8.1 -3l-8.2 -3.4l-1.9 -0.8l-6.1 -3.3l-5.9 -3.8l-2 -1.9l-4.5 -8.1l-3 -8.2l-0.8 -2.6l-2.4 -13.3l-0.7 -11.7z"/>
<path class="m" d="M607.4 57.8l0.9 -1.1M614.8 74.1l1 -1.1M622.8 79.9l0.9 -1.2M630.8 84l0.9 -1.2M639.1 87.3l0.8 -1.1M647.4 90.5l0.8 -1.2M655.8 93.6l0.8 -1.2M664.4 96.3l0.8 -1.2M604.4 29.1l0.7 11.7l2.4 13.3l0.8 2.6l3 8.2l4.5 8.1l2 1.9l5.9 3.8l6.1 3.3l1.9 0.8l8.2 3.4l8.1 3l0.2 0.1l8.4 3.1l8.6 2.7"/>
<path class="q" color="#ff9400" d="M538 59.5l7.1 2l7.3 2.1l7.3 1.6l7.4 1.7l3.6 0.8l1.1 -1.1l-3.7 -0.8l-7.4 -1.6l-7.3 -1.7l-7.2 -2l-7.1 -2z"/>
<path class="m" d="M538 59.5l1.1 -1M545.1 61.5l1.1 -1M552.4 63.6l1 -1.1M559.7 65.2l1 -1M567.1 66.9l1 -1.1"/>
<path class="q" color="#ef8b00" d="M570.7 67.7l3.9 -1l5 -1.3l1 -1.1l-5 1.3l-3.8 1z"/>
<path class="m" d="M574.6 66.7l1 -1.1"/>
<path class="q" color="#de9300" d="M579.6 65.4l2.7 -7.5l8.4 -23l2.2 -6.2l1 -1.1l-2.2 6.2l-8.3 23l-2.8 7.5z"/>
<path class="m" d="M582.3 57.9l1.1 -1.1M590.7 34.9l1 -1.1"/>
<path class="q" color="#ff9400" d="M602.3 31.2l0.8 11.7l2.5 13.4l0.8 2.5l3 8.3l4.5 8l2.1 2l5.8 3.9l6.2 3.3l1.9 0.8l8.3 3.4l8.1 3.1l0.2 0.1l8.5 3.1l8.6 2.7l0.8 -1.2l-8.6 -2.7l-8.4 -3.1l-0.2 -0.1l-8.1 -3.1l-8.3 -3.3l-1.9 -0.8l-6.1 -3.3l-5.9 -3.9l-2.1 -1.9l-4.4 -8.1l-3 -8.2l-0.9 -2.6l-2.4 -13.4l-0.7 -11.6z"/>
<path class="m" d="M606.4 58.8l1 -1M613.9 75.1l0.9 -1M621.8 81l1 -1.1M629.9 85.1l0.9 -1.1M638.2 88.5l0.9 -1.2M646.5 91.7l0.9 -1.2M655 94.8l0.8 -1.2M663.6 97.5l0.8 -1.2"/>
<path class="q" color="#ffa500" d="M536.9 60.5l7.2 2l7.2 2.1l7.3 1.7l7.5 1.6l3.6 0.9l1 -1.1l-3.6 -0.8l-7.4 -1.7l-7.3 -1.6l-7.3 -2.1l-7.1 -2z"/>
<path class="m" d="M536.9 60.5l1.1 -1M544.1 62.5l1 -1M551.3 64.6l1.1 -1M558.6 66.3l1.1 -1.1M566.1 67.9l1 -1"/>
<path class="q" color="#ef9b00" d="M569.7 68.8l3.9 -1l5 -1.3l1 -1.1l-5 1.3l-3.9 1z"/>
<path class="m" d="M573.6 67.8l1 -1.1"/>
<path class="q" color="#dea300" d="M578.6 66.5l2.7 -7.6l8.3 -23l2.3 -6.2l1 -1l-2.2 6.2l-8.4 23l-2.7 7.5z"/>
<path class="m" d="M581.3 58.9l1 -1M589.6 35.9l1.1 -1"/>
<path class="q" color="#ffa500" d="M601.3 32.2l0.8 11.7l2.5 13.4l0.8 2.6l3 8.3l4.5 8l2.1 2l5.9 3.9l6.2 3.4l1.9 0.8l8.3 3.4l8.2 3.1l0.2 0.1l8.4 3.1l8.6 2.7l0.9 -1.2l-8.6 -2.7l-8.5 -3.1l-0.2 -0.1l-8.1 -3.1l-8.3 -3.4l-1.9 -0.8l-6.2 -3.3l-5.8 -3.9l-2.1 -2l-4.5 -8l-3 -8.3l-0.8 -2.5l-2.5 -13.4l-0.8 -11.7z"/>
<path class="m" d="M605.4 59.9l1 -1.1M612.9 76.2l1 -1.1M620.9 82.1l0.9 -1.1M629 86.3l0.9 -1.2M637.3 89.7l0.9 -1.2M645.7 92.9l0.8 -1.2M654.1 96l0.9 -1.2M662.7 98.7l0.9 -1.2"/>
<path class="q" color="#ffb700" d="M535.8 61.5l7.2 2.1l7.2 2l7.4 1.7l7.4 1.7l3.7 0.8l1 -1l-3.6 -0.9l-7.5 -1.6l-7.3 -1.7l-7.2 -2.1l-7.2 -2z"/>
<path class="m" d="M535.8 61.5l1.1 -1M543 63.6l1.1 -1.1M550.2 65.6l1.1 -1M557.6 67.3l1 -1M565 69l1.1 -1.1M535.8 61.5l7.2 2.1l7.2 2l7.4 1.7l7.4 1.7l3.7 0.8"/>
<path class="q" color="#efab00" d="M568.7 69.8l3.9 -1l5 -1.3l1 -1l-5 1.3l-3.9 1z"/>
<path class="m" d="M572.6 68.8l1 -1M568.7 69.8l3.9 -1l5 -1.3"/>
<path class="q" color="#deb300" d="M577.6 67.5l2.7 -7.5l8.3 -23.1l2.2 -6.2l1.1 -1l-2.3 6.2l-8.3 23l-2.7 7.6z"/>
<path class="m" d="M580.3 60l1 -1.1M588.6 36.9l1 -1M577.6 67.5l2.7 -7.5l8.3 -23.1l2.2 -6.2"/>
<path class="q" color="#ffb700" d="M600.3 33.3l0.8 11.7l2.5 13.4l0.8 2.6l3.1 8.3l4.5 8l2.1 2.1l5.9 3.9l6.2 3.3l1.9 0.9l8.3 3.3l8.2 3.2l0.2 0.1l8.5 3.1l8.6 2.8l0.8 -1.3l-8.6 -2.7l-8.4 -3.1l-0.2 -0.1l-8.2 -3.1l-8.3 -3.4l-1.9 -0.8l-6.2 -3.4l-5.9 -3.9l-2.1 -2l-4.5 -8l-3 -8.3l-0.8 -2.6l-2.5 -13.4l-0.8 -11.7z"/>
<path class="m" d="M604.4 61l1 -1.1M612 77.3l0.9 -1.1M620 83.3l0.9 -1.2M628.1 87.5l0.9 -1.2M636.4 90.8l0.9 -1.1M644.8 94.1l0.9 -1.2M653.3 97.2l0.8 -1.2M661.9 100l0.8 -1.3M600.3 33.3l0.8 11.7l2.5 13.4l0.8 2.6l3.1 8.3l4.5 8l2.1 2.1l5.9 3.9l6.2 3.3l1.9 0.9l8.3 3.3l8.2 3.2l0.2 0.1l8.5 3.1l8.6 2.8"/>
<path class="q" color="#ffc800" d="M534.7 62.5l7.2 2.1l7.3 2.1l7.3 1.7l7.5 1.7l3.6 0.8l1.1 -1.1l-3.7 -0.8l-7.4 -1.7l-7.4 -1.7l-7.2 -2l-7.2 -2.1z"/>
<path class="m" d="M534.7 62.5l1.1 -1M541.9 64.6l1.1 -1M549.2 66.7l1 -1.1M556.5 68.4l1.1 -1.1M564 70.1l1 -1.1M535.8 61.5l7.2 2.1l7.2 2l7.4 1.7l7.4 1.7l3.7 0.8"/>
<path class="q" color="#efbb00" d="M567.6 70.9l3.9 -1l5 -1.3l1.1 -1.1l-5 1.3l-3.9 1z"/>
<path class="m" d="M571.5 69.9l1.1 -1.1M568.7 69.8l3.9 -1l5 -1.3"/>
<path class="q" color="#dec300" d="M576.5 68.6l2.8 -7.5l8.2 -23.1l2.3 -6.2l1 -1.1l-2.2 6.2l-8.3 23.1l-2.7 7.5z"/>
<path class="m" d="M579.3 61.1l1 -1.1M587.5 38l1.1 -1.1M577.6 67.5l2.7 -7.5l8.3 -23.1l2.2 -6.2"/>
<path class="q" color="#ffc800" d="M599.3 34.3l0.8 11.8l2.5 13.4l0.8 2.5l3.1 8.4l4.5 8.1l2.1 2l5.9 3.9l6.2 3.4l2 0.8l8.3 3.4l8.2 3.2l0.2 0.1l8.5 3.1l8.7 2.8l0.8 -1.2l-8.6 -2.8l-8.5 -3.1l-0.2 -0.1l-8.2 -3.2l-8.3 -3.3l-1.9 -0.9l-6.2 -3.3l-5.9 -3.9l-2.1 -2.1l-4.5 -8l-3.1 -8.3l-0.8 -2.6l-2.5 -13.4l-0.8 -11.7z"/>
<path class="m" d="M603.4 62l1 -1M611 78.5l1 -1.2M619 84.4l1 -1.1M627.2 88.6l0.9 -1.1M635.5 92l0.9 -1.2M643.9 95.3l0.9 -1.2M652.4 98.4l0.9 -1.2M661.1 101.2l0.8 -1.2M600.3 33.3l0.8 11.7l2.5 13.4l0.8 2.6l3.1 8.3l4.5 8l2.1 2.1l5.9 3.9l6.2 3.3l1.9 0.9l8.3 3.3l8.2 3.2l0.2 0.1l8.5 3.1l8.6 2.8"/>
<path class="q" color="#ffd900" d="M533.6 63.5l7.2 2.1l7.3 2.1l7.3 1.7l7.5 1.7l3.7 0.9l1 -1.1l-3.6 -0.8l-7.5 -1.7l-7.3 -1.7l-7.3 -2.1l-7.2 -2.1z"/>
<path class="m" d="M533.6 63.5l1.1 -1M540.8 65.6l1.1 -1M548.1 67.7l1.1 -1M555.4 69.4l1.1 -1M562.9 71.1l1.1 -1"/>
<path class="q" color="#efcc00" d="M566.6 72l3.9 -1l5 -1.3l1 -1.1l-5 1.3l-3.9 1z"/>
<path class="m" d="M570.5 71l1 -1.1"/>
<path class="q" color="#ded400" d="M575.5 69.7l2.7 -7.5l8.3 -23.2l2.2 -6.2l1.1 -1l-2.3 6.2l-8.2 23.1l-2.8 7.5z"/>
<path class="m" d="M578.2 62.2l1.1 -1.1M586.5 39l1 -1"/>
<path class="q" color="#ffd900" d="M598.2 35.4l0.9 11.7l2.5 13.5l0.8 2.5l3.1 8.4l4.6 8.1l2.1 2l5.9 4l6.2 3.4l2 0.8l8.3 3.4l8.2 3.2l0.2 0.1l8.6 3.2l8.6 2.8l0.9 -1.3l-8.7 -2.8l-8.5 -3.1l-0.2 -0.1l-8.2 -3.2l-8.3 -3.4l-2 -0.8l-6.2 -3.4l-5.9 -3.9l-2.1 -2l-4.5 -8.1l-3.1 -8.4l-0.8 -2.5l-2.5 -13.4l-0.8 -11.8z"/>
<path class="m" d="M602.4 63.1l1 -1.1M610.1 79.6l0.9 -1.1M618.1 85.6l0.9 -1.2M626.3 89.8l0.9 -1.2M634.6 93.2l0.9 -1.2M643 96.5l0.9 -1.2M651.6 99.7l0.8 -1.3M660.2 102.5l0.9 -1.3"/>
<path class="q" color="#ffea00" d="M532.5 64.6l7.2 2.1l7.3 2.1l7.4 1.7l7.5 1.7l3.6 0.9l1.1 -1.1l-3.7 -0.9l-7.5 -1.7l-7.3 -1.7l-7.3 -2.1l-7.2 -2.1z"/>
<path class="m" d="M532.5 64.6l1.1 -1.1M539.7 66.7l1.1 -1.1M547 68.8l1.1 -1.1M554.4 70.5l1 -1.1M561.9 72.2l1 -1.1"/>
<path class="q" color="#efdc00" d="M565.5 73.1l3.9 -1l5.1 -1.3l1 -1.1l-5 1.3l-3.9 1z"/>
<path class="m" d="M569.4 72.1l1.1 -1.1"/>
<path class="q" color="#dee400" d="M574.5 70.8l2.7 -7.6l8.2 -23.1l2.2 -6.2l1.1 -1.1l-2.2 6.2l-8.3 23.2l-2.7 7.5z"/>
<path class="m" d="M577.2 63.2l1 -1M585.4 40.1l1.1 -1.1"/>
<path class="q" color="#ffea00" d="M597.2 36.5l0.9 11.7l2.5 13.5l0.8 2.5l3.1 8.4l4.6 8.1l2.1 2.1l6 3.9l6.2 3.5l2 0.8l8.3 3.4l8.2 3.2l0.2 0.1l8.6 3.2l8.7 2.8l0.8 -1.2l-8.6 -2.8l-8.6 -3.2l-0.2 -0.1l-8.2 -3.2l-8.3 -3.4l-2 -0.8l-6.2 -3.4l-5.9 -4l-2.1 -2l-4.6 -8.1l-3.1 -8.4l-0.8 -2.5l-2.5 -13.5l-0.9 -11.7z"/>
<path class="m" d="M601.4 64.2l1 -1.1M609.1 80.7l1 -1.1M617.2 86.7l0.9 -1.1M625.4 91l0.9 -1.2M633.7 94.4l0.9 -1.2M642.1 97.7l0.9 -1.2M650.7 100.9l0.9 -1.2M659.4 103.7l0.8 -1.2"/>
<path class="q" color="#fffb00" d="M531.4 65.6l7.2 2.1l7.3 2.2l7.4 1.7l7.5 1.7l3.7 0.9l1 -1.1l-3.6 -0.9l-7.5 -1.7l-7.4 -1.7l-7.3 -2.1l-7.2 -2.1z"/>
<path class="m" d="M531.4 65.6l1.1 -1M538.6 67.7l1.1 -1M545.9 69.9l1.1 -1.1M553.3 71.6l1.1 -1.1M560.8 73.3l1.1 -1.1M531.4 65.6l7.2 2.1l7.3 2.2l7.4 1.7l7.5 1.7l3.7 0.9"/>
<path class="q" color="#efec00" d="M564.5 74.2l3.9 -1l5 -1.3l1.1 -1.1l-5.1 1.3l-3.9 1z"/>
<path class="m" d="M568.4 73.2l1 -1.1M564.5 74.2l3.9 -1l5 -1.3"/>
<path class="q" color="#def400" d="M573.4 71.9l2.7 -7.6l8.3 -23.1l2.2 -6.3l1 -1l-2.2 6.2l-8.2 23.1l-2.7 7.6z"/>
<path class="m" d="M576.1 64.3l1.1 -1.1M584.4 41.2l1 -1.1M573.4 71.9l2.7 -7.6l8.3 -23.1l2.2 -6.3"/>
<path class="q" color="#fffb00" d="M596.1 37.5l0.9 11.8l2.6 13.5l0.8 2.5l3.1 8.4l4.6 8.1l2.1 2.2l6 3.9l6.2 3.5l2 0.8l8.4 3.4l8.3 3.3l0.2 0l8.5 3.2l8.8 2.9l0.8 -1.3l-8.7 -2.8l-8.6 -3.2l-0.2 -0.1l-8.2 -3.2l-8.3 -3.4l-2 -0.8l-6.2 -3.5l-6 -3.9l-2.1 -2.1l-4.6 -8.1l-3.1 -8.4l-0.8 -2.5l-2.5 -13.5l-0.9 -11.7z"/>
<path class="m" d="M600.4 65.3l1 -1.1M608.1 81.8l1 -1.1M616.2 87.9l1 -1.2M624.4 92.2l1 -1.2M632.8 95.6l0.9 -1.2M641.3 98.9l0.8 -1.2M649.8 102.1l0.9 -1.2M658.6 105l0.8 -1.3M596.1 37.5l0.9 11.8l2.6 13.5l0.8 2.5l3.1 8.4l4.6 8.1l2.1 2.2l6 3.9l6.2 3.5l2 0.8l8.4 3.4l8.3 3.3l0.2 0l8.5 3.2l8.8 2.9"/>
<path class="q" color="#ebff00" d="M530.2 66.7l7.3 2.1l7.3 2.1l7.4 1.8l7.5 1.7l3.7 0.9l1.1 -1.1l-3.7 -0.9l-7.5 -1.7l-7.4 -1.7l-7.3 -2.2l-7.2 -2.1z"/>
<path class="m" d="M530.2 66.7l1.2 -1.1M537.5 68.8l1.1 -1.1M544.8 70.9l1.1 -1M552.2 72.7l1.1 -1.1M559.7 74.4l1.1 -1.1M531.4 65.6l7.2 2.1l7.3 2.2l7.4 1.7l7.5 1.7l3.7 0.9"/>
<path class="q" color="#dcef00" d="M563.4 75.3l3.9 -1l5.1 -1.3l1 -1.1l-5 1.3l-3.9 1z"/>
<path class="m" d="M567.3 74.3l1.1 -1.1M564.5 74.2l3.9 -1l5 -1.3"/>
<path class="q" color="#cdf700" d="M572.4 73l2.7 -7.6l8.2 -23.2l2.2 -6.2l1.1 -1.1l-2.2 6.3l-8.3 23.1l-2.7 7.6z"/>
<path class="m" d="M575.1 65.4l1 -1.1M583.3 42.2l1.1 -1M573.4 71.9l2.7 -7.6l8.3 -23.1l2.2 -6.3"/>
<path class="q" color="#ebff00" d="M595.1 38.6l0.9 11.8l2.6 13.5l0.8 2.6l3.1 8.3l4.7 8.2l2.1 2.1l6 4l6.2 3.5l2 0.8l8.4 3.5l8.3 3.2l0.2 0.1l8.6 3.2l8.7 2.9l0.9 -1.3l-8.8 -2.9l-8.5 -3.2l-0.2 0l-8.3 -3.3l-8.4 -3.4l-2 -0.8l-6.2 -3.5l-6 -3.9l-2.1 -2.2l-4.6 -8.1l-3.1 -8.4l-0.8 -2.5l-2.6 -13.5l-0.9 -11.8z"/>
<path class="m" d="M599.4 66.5l1 -1.2M607.2 83l0.9 -1.2M615.3 89.1l0.9 -1.2M623.5 93.4l0.9 -1.2M631.9 96.9l0.9 -1.3M640.4 100.2l0.9 -1.3M649 103.4l0.8 -1.3M657.7 106.3l0.9 -1.3M596.1 37.5l0.9 11.8l2.6 13.5l0.8 2.5l3.1 8.4l4.6 8.1l2.1 2.2l6 3.9l6.2 3.5l2 0.8l8.4 3.4l8.3 3.3l0.2 0l8.5 3.2l8.8 2.9"/>
<path class="q" color="#ccff00" d="M529.1 67.7l7.3 2.1l7.3 2.2l7.4 1.8l7.5 1.7l3.7 0.9l1.1 -1.1l-3.7 -0.9l-7.5 -1.7l-7.4 -1.8l-7.3 -2.1l-7.3 -2.1z"/>
<path class="m" d="M529.1 67.7l1.1 -1M536.4 69.8l1.1 -1M543.7 72l1.1 -1.1M551.1 73.8l1.1 -1.1M558.6 75.5l1.1 -1.1"/>
<path class="q" color="#bfef00" d="M562.3 76.4l3.9 -1l5.1 -1.3l1.1 -1.1l-5.1 1.3l-3.9 1z"/>
<path class="m" d="M566.2 75.4l1.1 -1.1"/>
<path class="q" color="#b2f700" d="M571.3 74.1l2.7 -7.5l8.2 -23.3l2.2 -6.2l1.1 -1.1l-2.2 6.2l-8.2 23.2l-2.7 7.6z"/>
<path class="m" d="M574 66.6l1.1 -1.2M582.2 43.3l1.1 -1.1"/>
<path class="q" color="#ccff00" d="M594 39.7l0.9 11.8l2.6 13.5l0.9 2.6l3.1 8.4l4.7 8.1l2.1 2.2l6 4l6.3 3.5l2 0.8l8.4 3.5l8.3 3.3l0.2 0l8.6 3.3l8.7 2.9l0.9 -1.3l-8.7 -2.9l-8.6 -3.2l-0.2 -0.1l-8.3 -3.2l-8.4 -3.5l-2 -0.8l-6.2 -3.5l-6 -4l-2.1 -2.1l-4.7 -8.2l-3.1 -8.3l-0.8 -2.6l-2.6 -13.5l-0.9 -11.8z"/>
<path class="m" d="M598.4 67.6l1 -1.1M606.2 84.1l1 -1.1M614.3 90.3l1 -1.2M622.6 94.6l0.9 -1.2M631 98.1l0.9 -1.2M639.5 101.4l0.9 -1.2M648.1 104.7l0.9 -1.3M656.8 107.6l0.9 -1.3"/>
<path class="q" color="#adff00" d="M528 68.8l7.2 2.1l7.4 2.2l7.4 1.7l7.6 1.8l3.7 0.9l1 -1.1l-3.7 -0.9l-7.5 -1.7l-7.4 -1.8l-7.3 -2.2l-7.3 -2.1z"/>
<path class="m" d="M528 68.8l1.1 -1.1M535.2 70.9l1.2 -1.1M542.6 73.1l1.1 -1.1M550 74.8l1.1 -1M557.6 76.6l1 -1.1"/>
<path class="q" color="#a3ef00" d="M561.3 77.5l3.9 -1l5 -1.2l1.1 -1.2l-5.1 1.3l-3.9 1z"/>
<path class="m" d="M565.2 76.5l1 -1.1"/>
<path class="q" color="#97f700" d="M570.2 75.3l2.7 -7.6l8.2 -23.3l2.2 -6.3l1.1 -1l-2.2 6.2l-8.2 23.3l-2.7 7.5z"/>
<path class="m" d="M572.9 67.7l1.1 -1.1M581.1 44.4l1.1 -1.1"/>
<path class="q" color="#adff00" d="M592.9 40.8l1 11.8l2.6 13.5l0.9 2.6l3.1 8.4l4.7 8.2l2.1 2.2l6 4l6.3 3.5l2 0.8l8.4 3.5l8.3 3.3l0.3 0.1l8.6 3.2l8.8 3l0.8 -1.3l-8.7 -2.9l-8.6 -3.3l-0.2 0l-8.3 -3.3l-8.4 -3.5l-2 -0.8l-6.3 -3.5l-6 -4l-2.1 -2.2l-4.7 -8.1l-3.1 -8.4l-0.9 -2.6l-2.6 -13.5l-0.9 -11.8z"/>
<path class="m" d="M597.4 68.7l1 -1.1M605.2 85.3l1 -1.2M613.3 91.5l1 -1.2M621.6 95.8l1 -1.2M630 99.3l1 -1.2M638.6 102.7l0.9 -1.3M647.2 105.9l0.9 -1.2M656 108.9l0.8 -1.3"/>
<path class="q" color="#8fff00" d="M526.8 69.8l7.3 2.2l7.4 2.2l7.4 1.7l7.6 1.8l3.7 0.9l1.1 -1.1l-3.7 -0.9l-7.6 -1.8l-7.4 -1.7l-7.4 -2.2l-7.2 -2.1z"/>
<path class="m" d="M526.8 69.8l1.2 -1M534.1 72l1.1 -1.1M541.5 74.2l1.1 -1.1M548.9 75.9l1.1 -1.1M556.5 77.7l1.1 -1.1M526.8 69.8l7.3 2.2l7.4 2.2l7.4 1.7l7.6 1.8l3.7 0.9"/>
<path class="q" color="#86ef00" d="M560.2 78.6l3.9 -0.9l5.1 -1.3l1 -1.1l-5 1.2l-3.9 1z"/>
<path class="m" d="M564.1 77.7l1.1 -1.2M560.2 78.6l3.9 -0.9l5.1 -1.3"/>
<path class="q" color="#7df700" d="M569.2 76.4l2.6 -7.6l8.2 -23.3l2.2 -6.3l1.1 -1.1l-2.2 6.3l-8.2 23.3l-2.7 7.6z"/>
<path class="m" d="M571.8 68.8l1.1 -1.1M580 45.5l1.1 -1.1M569.2 76.4l2.6 -7.6l8.2 -23.3l2.2 -6.3"/>
<path class="q" color="#8fff00" d="M591.8 41.9l1 11.8l2.7 13.6l0.8 2.5l3.2 8.5l4.7 8.1l2.1 2.3l6 4l6.3 3.5l2.1 0.9l8.4 3.5l8.3 3.3l0.2 0l8.7 3.3l8.8 3l0.9 -1.3l-8.8 -3l-8.6 -3.2l-0.3 -0.1l-8.3 -3.3l-8.4 -3.5l-2 -0.8l-6.3 -3.5l-6 -4l-2.1 -2.2l-4.7 -8.2l-3.1 -8.4l-0.9 -2.6l-2.6 -13.5l-1 -11.8z"/>
<path class="m" d="M596.3 69.8l1.1 -1.1M604.2 86.4l1 -1.1M612.3 92.7l1 -1.2M620.7 97.1l0.9 -1.3M629.1 100.6l0.9 -1.3M637.6 103.9l1 -1.2M646.3 107.2l0.9 -1.3M655.1 110.2l0.9 -1.3M591.8 41.9l1 11.8l2.7 13.6l0.8 2.5l3.2 8.5l4.7 8.1l2.1 2.3l6 4l6.3 3.5l2.1 0.9l8.4 3.5l8.3 3.3l0.2 0l8.7 3.3l8.8 3"/>
<path class="q" color="#70ff00" d="M525.7 70.9l7.3 2.2l7.3 2.2l7.5 1.8l7.6 1.8l3.7 0.8l1.1 -1.1l-3.7 -0.9l-7.6 -1.8l-7.4 -1.7l-7.4 -2.2l-7.3 -2.2z"/>
<path class="m" d="M525.7 70.9l1.1 -1.1M533 73.1l1.1 -1.1M540.3 75.3l1.2 -1.1M547.8 77.1l1.1 -1.2M555.4 78.9l1.1 -1.2M526.8 69.8l7.3 2.2l7.4 2.2l7.4 1.7l7.6 1.8l3.7 0.9"/>
<path class="q" color="#69ef00" d="M559.1 79.7l3.9 -0.9l5.1 -1.3l1.1 -1.1l-5.1 1.3l-3.9 0.9z"/>
<path class="m" d="M563 78.8l1.1 -1.1M560.2 78.6l3.9 -0.9l5.1 -1.3"/>
<path class="q" color="#62f700" d="M568.1 77.5l2.7 -7.6l8.1 -23.3l2.2 -6.3l1.1 -1.1l-2.2 6.3l-8.2 23.3l-2.6 7.6z"/>
<path class="m" d="M570.8 69.9l1 -1.1M578.9 46.6l1.1 -1.1M569.2 76.4l2.6 -7.6l8.2 -23.3l2.2 -6.3"/>
<path class="q" color="#70ff00" d="M590.8 43l1 11.8l2.6 13.6l0.9 2.6l3.2 8.4l4.7 8.2l2.1 2.3l6.1 4l6.3 3.5l2 0.9l8.5 3.5l8.3 3.3l0.2 0.1l8.7 3.3l8.8 3l0.9 -1.3l-8.8 -3l-8.7 -3.3l-0.2 0l-8.3 -3.3l-8.4 -3.5l-2.1 -0.9l-6.3 -3.5l-6 -4l-2.1 -2.3l-4.7 -8.1l-3.2 -8.5l-0.8 -2.5l-2.7 -13.6l-1 -11.8z"/>
<path class="m" d="M595.3 71l1 -1.2M603.2 87.6l1 -1.2M611.4 93.9l0.9 -1.2M619.7 98.3l1 -1.2M628.2 101.8l0.9 -1.2M636.7 105.2l0.9 -1.3M645.4 108.5l0.9 -1.3M654.2 111.5l0.9 -1.3M591.8 41.9l1 11.8l2.7 13.6l0.8 2.5l3.2 8.5l4.7 8.1l2.1 2.3l6 4l6.3 3.5l2.1 0.9l8.4 3.5l8.3 3.3l0.2 0l8.7 3.3l8.8 3"/>
<path class="q" color="#52ff00" d="M524.5 72l7.3 2.2l7.4 2.2l7.5 1.8l7.6 1.8l3.7 0.9l1.1 -1.2l-3.7 -0.8l-7.6 -1.8l-7.5 -1.8l-7.3 -2.2l-7.3 -2.2z"/>
<path class="m" d="M524.5 72l1.2 -1.1M531.8 74.2l1.2 -1.1M539.2 76.4l1.1 -1.1M546.7 78.2l1.1 -1.1M554.3 80l1.1 -1.1"/>
<path class="q" color="#4cef00" d="M558 80.9l3.9 -1l5.1 -1.2l1.1 -1.2l-5.1 1.3l-3.9 0.9z"/>
<path class="m" d="M561.9 79.9l1.1 -1.1"/>
<path class="q" color="#47f700" d="M567 78.7l2.7 -7.6l8.1 -23.4l2.2 -6.3l1.1 -1.1l-2.2 6.3l-8.1 23.3l-2.7 7.6z"/>
<path class="m" d="M569.7 71.1l1.1 -1.2M577.8 47.7l1.1 -1.1"/>
<path class="q" color="#52ff00" d="M589.7 44.1l1 11.9l2.7 13.6l0.9 2.5l3.2 8.5l4.7 8.1l2.1 2.4l6.1 4l6.3 3.6l2 0.8l8.5 3.6l8.4 3.3l0.2 0.1l8.7 3.3l8.9 3l0.8 -1.3l-8.8 -3l-8.7 -3.3l-0.2 -0.1l-8.3 -3.3l-8.5 -3.5l-2 -0.9l-6.3 -3.5l-6.1 -4l-2.1 -2.3l-4.7 -8.2l-3.2 -8.4l-0.9 -2.6l-2.6 -13.6l-1 -11.8z"/>
<path class="m" d="M594.3 72.1l1 -1.1M602.2 88.7l1 -1.1M610.4 95.1l1 -1.2M618.7 99.5l1 -1.2M627.2 103.1l1 -1.3M635.8 106.5l0.9 -1.3M644.5 109.8l0.9 -1.3M653.4 112.8l0.8 -1.3"/>
<path class="q" color="#33ff00" d="M523.3 73.1l7.4 2.2l7.4 2.2l7.5 1.8l7.6 1.8l3.7 0.9l1.1 -1.1l-3.7 -0.9l-7.6 -1.8l-7.5 -1.8l-7.4 -2.2l-7.3 -2.2z"/>
<path class="m" d="M523.3 73.1l1.2 -1.1M530.7 75.3l1.1 -1.1M538.1 77.5l1.1 -1.1M545.6 79.3l1.1 -1.1M553.2 81.1l1.1 -1.1"/>
<path class="q" color="#30ef00" d="M556.9 82l3.9 -0.9l5.1 -1.3l1.1 -1.1l-5.1 1.2l-3.9 1z"/>
<path class="m" d="M560.8 81.1l1.1 -1.2"/>
<path class="q" color="#2cf700" d="M565.9 79.8l2.7 -7.6l8.1 -23.4l2.2 -6.3l1.1 -1.1l-2.2 6.3l-8.1 23.4l-2.7 7.6z"/>
<path class="m" d="M568.6 72.2l1.1 -1.1M576.7 48.8l1.1 -1.1"/>
<path class="q" color="#33ff00" d="M588.6 45.3l1 11.8l2.7 13.6l0.9 2.6l3.2 8.5l4.8 8.1l2.1 2.4l6.1 4l6.3 3.6l2.1 0.9l8.5 3.5l8.4 3.4l0.2 0.1l8.7 3.3l8.9 3l0.9 -1.3l-8.9 -3l-8.7 -3.3l-0.2 -0.1l-8.4 -3.3l-8.5 -3.6l-2 -0.8l-6.3 -3.6l-6.1 -4l-2.1 -2.4l-4.7 -8.1l-3.2 -8.5l-0.9 -2.5l-2.7 -13.6l-1 -11.9z"/>
<path class="m" d="M593.2 73.3l1.1 -1.2M601.2 89.9l1 -1.2M609.4 96.3l1 -1.2M617.8 100.8l0.9 -1.3M626.3 104.3l0.9 -1.2M634.9 107.8l0.9 -1.3M643.6 111.1l0.9 -1.3M652.5 114.1l0.9 -1.3"/>
<path class="q" color="#14ff00" d="M522.2 74.1l7.3 2.3l7.4 2.2l7.5 1.8l7.6 1.9l3.8 0.9l1.1 -1.2l-3.7 -0.9l-7.6 -1.8l-7.5 -1.8l-7.4 -2.2l-7.4 -2.2z"/>
<path class="m" d="M522.2 74.1l1.1 -1M529.5 76.4l1.2 -1.1M536.9 78.6l1.2 -1.1M544.4 80.4l1.2 -1.1M552 82.3l1.2 -1.2M522.2 74.1l7.3 2.3l7.4 2.2l7.5 1.8l7.6 1.9l3.8 0.9"/>
<path class="q" color="#13ef00" d="M555.8 83.2l3.9 -1l5.1 -1.2l1.1 -1.2l-5.1 1.3l-3.9 0.9z"/>
<path class="m" d="M559.7 82.2l1.1 -1.1M555.8 83.2l3.9 -1l5.1 -1.2"/>
<path class="q" color="#12f700" d="M564.8 81l2.7 -7.7l8.1 -23.4l2.1 -6.3l1.2 -1.1l-2.2 6.3l-8.1 23.4l-2.7 7.6z"/>
<path class="m" d="M567.5 73.3l1.1 -1.1M575.6 49.9l1.1 -1.1M564.8 81l2.7 -7.7l8.1 -23.4l2.1 -6.3"/>
<path class="q" color="#14ff00" d="M587.5 46.4l1 11.8l2.7 13.7l0.9 2.5l3.3 8.5l4.7 8.2l2.2 2.4l6.1 4l6.3 3.7l2.1 0.8l8.5 3.6l8.4 3.4l0.2 0.1l8.8 3.3l8.9 3.1l0.9 -1.4l-8.9 -3l-8.7 -3.3l-0.2 -0.1l-8.4 -3.4l-8.5 -3.5l-2.1 -0.9l-6.3 -3.6l-6.1 -4l-2.1 -2.4l-4.8 -8.1l-3.2 -8.5l-0.9 -2.6l-2.7 -13.6l-1 -11.8z"/>
<path class="m" d="M592.1 74.4l1.1 -1.1M600.1 91.1l1.1 -1.2M608.4 97.5l1 -1.2M616.8 102l1 -1.2M625.3 105.6l1 -1.3M633.9 109.1l1 -1.3M642.7 112.4l0.9 -1.3M651.6 115.5l0.9 -1.4M587.5 46.4l1 11.8l2.7 13.7l0.9 2.5l3.3 8.5l4.7 8.2l2.2 2.4l6.1 4l6.3 3.7l2.1 0.8l8.5 3.6l8.4 3.4l0.2 0.1l8.8 3.3l8.9 3.1"/>
<path class="q" color="#00ff0b" d="M521 75.2l7.3 2.3l7.5 2.2l7.5 1.8l7.6 1.9l3.8 0.9l1.1 -1.1l-3.8 -0.9l-7.6 -1.9l-7.5 -1.8l-7.4 -2.2l-7.3 -2.3z"/>
<path class="m" d="M521 75.2l1.2 -1.1M528.3 77.5l1.2 -1.1M535.8 79.7l1.1 -1.1M543.3 81.5l1.1 -1.1M550.9 83.4l1.1 -1.1M522.2 74.1l7.3 2.3l7.4 2.2l7.5 1.8l7.6 1.9l3.8 0.9"/>
<path class="q" color="#00ef0a" d="M554.7 84.3l3.9 -0.9l5.1 -1.3l1.1 -1.1l-5.1 1.2l-3.9 1z"/>
<path class="m" d="M558.6 83.4l1.1 -1.2M555.8 83.2l3.9 -1l5.1 -1.2"/>
<path class="q" color="#00f707" d="M563.7 82.1l2.6 -7.6l8.1 -23.4l2.2 -6.3l1.1 -1.2l-2.1 6.3l-8.1 23.4l-2.7 7.7z"/>
<path class="m" d="M566.3 74.5l1.2 -1.2M574.4 51.1l1.2 -1.2M564.8 81l2.7 -7.7l8.1 -23.4l2.1 -6.3"/>
<path class="q" color="#00ff09" d="M586.3 47.5l1.1 11.9l2.8 13.6l1 -1.1l-2.7 -13.7l-1 -11.8z"/>
<path class="m" d="M587.5 46.4l1 11.8l2.7 13.7"/>
<path class="q" color="#00ff0a" d="M590.2 73l0.9 2.6l3.2 8.5l1.1 -1.2l-3.3 -8.5l-0.9 -2.5z"/>
<path class="m" d="M591.1 75.6l1 -1.2M591.2 71.9l0.9 2.5l3.3 8.5"/>
<path class="q" color="#00ff0b" d="M594.3 84.1l4.8 8.2l2.2 2.4l6.1 4.1l6.4 3.6l2 0.9l8.5 3.6l8.5 3.4l0.2 0.1l8.8 3.3l8.9 3.1l0.9 -1.3l-8.9 -3.1l-8.8 -3.3l-0.2 -0.1l-8.4 -3.4l-8.5 -3.6l-2.1 -0.8l-6.3 -3.7l-6.1 -4l-2.2 -2.4l-4.7 -8.2z"/>
<path class="m" d="M599.1 92.3l1 -1.2M607.4 98.8l1 -1.3M615.8 103.3l1 -1.3M624.3 106.9l1 -1.3M633 110.4l0.9 -1.3M641.8 113.7l0.9 -1.3M650.7 116.8l0.9 -1.3M595.4 82.9l4.7 8.2l2.2 2.4l6.1 4l6.3 3.7l2.1 0.8l8.5 3.6l8.4 3.4l0.2 0.1l8.8 3.3l8.9 3.1"/>
<path class="q" color="#00ff2c" d="M519.8 76.3l7.4 2.3l7.4 2.2l7.6 1.9l7.6 1.9l3.8 0.9l1.1 -1.2l-3.8 -0.9l-7.6 -1.9l-7.5 -1.8l-7.5 -2.2l-7.3 -2.3z"/>
<path class="m" d="M519.8 76.3l1.2 -1.1M527.2 78.6l1.1 -1.1M534.6 80.8l1.2 -1.1M542.2 82.7l1.1 -1.2M549.8 84.6l1.1 -1.2"/>
<path class="q" color="#00ef29" d="M553.6 85.5l3.9 -1l5.1 -1.2l1.1 -1.2l-5.1 1.3l-3.9 0.9z"/>
<path class="m" d="M557.5 84.5l1.1 -1.1"/>
<path class="q" color="#00f71d" d="M562.6 83.3l2.6 -7.6l8.1 -23.5l2.1 -6.3l1.2 -1.1l-2.2 6.3l-8.1 23.4l-2.6 7.6z"/>
<path class="m" d="M565.2 75.7l1.1 -1.2M573.3 52.2l1.1 -1.1"/>
<path class="q" color="#00ff22" d="M585.2 48.7l1.1 11.9l1.1 -1.2l-1.1 -11.9z"/>
<path class="q" color="#00ff25" d="M586.3 60.6l2.8 13.6l1.1 -1.2l-2.8 -13.6z"/>
<path class="q" color="#00ff28" d="M589.1 74.2l0.9 2.6l1.1 -1.2l-0.9 -2.6z"/>
<path class="m" d="M590 76.8l1.1 -1.2"/>
<path class="q" color="#00ff29" d="M590 76.8l3.3 8.5l1 -1.2l-3.2 -8.5z"/>
<path class="m" d="M590 76.8l1.1 -1.2"/>
<path class="q" color="#00ff2b" d="M593.3 85.3l4.8 8.2l1 -1.2l-4.8 -8.2z"/>
<path class="m" d="M598.1 93.5l1 -1.2"/>
<path class="q" color="#00ff2c" d="M598.1 93.5l2.1 2.4l6.2 4.1l6.4 3.7l2 0.9l8.6 3.6l8.4 3.4l0.2 0.1l8.8 3.3l9 3.1l0.9 -1.3l-8.9 -3.1l-8.8 -3.3l-0.2 -0.1l-8.5 -3.4l-8.5 -3.6l-2 -0.9l-6.4 -3.6l-6.1 -4.1l-2.2 -2.4z"/>
<path class="m" d="M598.1 93.5l1 -1.2M606.4 100l1 -1.2M614.8 104.6l1 -1.3M623.4 108.2l0.9 -1.3M632 111.7l1 -1.3M640.8 115l1 -1.3M649.8 118.1l0.9 -1.3"/>
<path class="q" color="#00ff4c" d="M518.6 77.4l7.4 2.3l7.5 2.3l7.5 1.8l7.7 1.9l3.7 0.9l1.2 -1.1l-3.8 -0.9l-7.6 -1.9l-7.6 -1.9l-7.4 -2.2l-7.4 -2.3z"/>
<path class="m" d="M518.6 77.4l1.2 -1.1M526 79.7l1.2 -1.1M533.5 82l1.1 -1.2M541 83.8l1.2 -1.1M548.7 85.7l1.1 -1.1"/>
<path class="q" color="#00ef47" d="M552.4 86.6l4 -0.9l5.1 -1.2l1.1 -1.2l-5.1 1.2l-3.9 1z"/>
<path class="m" d="M556.4 85.7l1.1 -1.2"/>
<path class="q" color="#00f732" d="M561.5 84.5l2.6 -7.7l8 -23.4l2.2 -6.4l1.1 -1.1l-2.1 6.3l-8.1 23.5l-2.6 7.6z"/>
<path class="m" d="M564.1 76.8l1.1 -1.1M572.1 53.4l1.2 -1.2"/>
<path class="q" color="#00ff3b" d="M584.1 49.8l1.1 11.9l1.1 -1.1l-1.1 -11.9z"/>
<path class="q" color="#00ff40" d="M585.2 61.7l2.8 13.7l1.1 -1.2l-2.8 -13.6z"/>
<path class="q" color="#00ff47" d="M588 75.4l0.9 2.5l3.3 8.6l1.1 -1.2l-3.3 -8.5l-0.9 -2.6z"/>
<path class="m" d="M588.9 77.9l1.1 -1.1"/>
<path class="q" color="#00ff4a" d="M592.2 86.5l4.8 8.2l1.1 -1.2l-4.8 -8.2z"/>
<path class="m" d="M597 94.7l1.1 -1.2"/>
<path class="q" color="#00ff4c" d="M597 94.7l2.2 2.5l6.2 4.1l6.4 3.7l2 0.8l8.6 3.7l8.5 3.4l0.2 0.1l8.8 3.4l9 3.1l0.9 -1.4l-9 -3.1l-8.8 -3.3l-0.2 -0.1l-8.4 -3.4l-8.6 -3.6l-2 -0.9l-6.4 -3.7l-6.2 -4.1l-2.1 -2.4z"/>
<path class="m" d="M597 94.7l1.1 -1.2M605.4 101.3l1 -1.3M613.8 105.8l1 -1.2M622.4 109.5l1 -1.3M631.1 113l0.9 -1.3M639.9 116.4l0.9 -1.4M648.9 119.5l0.9 -1.4"/>
<path class="q" color="#00ff6d" d="M517.4 78.6l7.4 2.2l7.5 2.3l7.5 1.9l7.7 1.9l3.8 0.9l1.1 -1.2l-3.7 -0.9l-7.7 -1.9l-7.5 -1.8l-7.5 -2.3l-7.4 -2.3z"/>
<path class="m" d="M517.4 78.6l1.2 -1.2M524.8 80.8l1.2 -1.1M532.3 83.1l1.2 -1.1M539.8 85l1.2 -1.2M547.5 86.9l1.2 -1.2M517.4 78.6l7.4 2.2l7.5 2.3l7.5 1.9l7.7 1.9l3.8 0.9"/>
<path class="q" color="#00ef66" d="M551.3 87.8l3.9 -0.9l5.2 -1.2l1.1 -1.2l-5.1 1.2l-4 0.9z"/>
<path class="m" d="M555.2 86.9l1.2 -1.2M551.3 87.8l3.9 -0.9l5.2 -1.2"/>
<path class="q" color="#00f747" d="M560.4 85.7l2.6 -7.7l8 -23.5l2.1 -6.3l1.2 -1.2l-2.2 6.4l-8 23.4l-2.6 7.7z"/>
<path class="m" d="M563 78l1.1 -1.2M571 54.5l1.1 -1.1M560.4 85.7l2.6 -7.7l8 -23.5l2.1 -6.3"/>
<path class="q" color="#00ff55" d="M583 51l1.1 11.9l1.1 -1.2l-1.1 -11.9z"/>
<path class="m" d="M583 51l1.1 11.9"/>
<path class="q" color="#00ff5b" d="M584.1 62.9l2.8 13.7l1.1 -1.2l-2.8 -13.7z"/>
<path class="m" d="M584.1 62.9l2.8 13.7"/>
<path class="q" color="#00ff65" d="M586.9 76.6l0.9 2.5l1.1 -1.2l-0.9 -2.5z"/>
<path class="m" d="M587.8 79.1l1.1 -1.2M586.9 76.6l0.9 2.5"/>
<path class="q" color="#00ff66" d="M587.8 79.1l3.3 8.6l1.1 -1.2l-3.3 -8.6z"/>
<path class="m" d="M587.8 79.1l1.1 -1.2M587.8 79.1l3.3 8.6"/>
<path class="q" color="#00ff6a" d="M591.1 87.7l4.9 8.2l1 -1.2l-4.8 -8.2z"/>
<path class="m" d="M596 95.9l1 -1.2M591.1 87.7l4.9 8.2"/>
<path class="q" color="#00ff6d" d="M596 95.9l2.2 2.5l6.1 4.1l6.5 3.8l2 0.8l8.6 3.7l8.5 3.4l0.2 0.1l8.9 3.4l9 3.2l0.9 -1.4l-9 -3.1l-8.8 -3.4l-0.2 -0.1l-8.5 -3.4l-8.6 -3.7l-2 -0.8l-6.4 -3.7l-6.2 -4.1l-2.2 -2.5z"/>
<path class="m" d="M596 95.9l1 -1.2M604.3 102.5l1.1 -1.2M612.8 107.1l1 -1.3M621.4 110.8l1 -1.3M630.1 114.3l1 -1.3M639 117.7l0.9 -1.3M648 120.9l0.9 -1.4M596 95.9l2.2 2.5l6.1 4.1l6.5 3.8l2 0.8l8.6 3.7l8.5 3.4l0.2 0.1l8.9 3.4l9 3.2"/>
<path class="q" color="#00ff8d" d="M516.2 79.7l7.4 2.3l7.5 2.3l7.6 1.8l7.7 2l3.7 0.9l1.2 -1.2l-3.8 -0.9l-7.7 -1.9l-7.5 -1.9l-7.5 -2.3l-7.4 -2.2z"/>
<path class="m" d="M516.2 79.7l1.2 -1.1M523.6 82l1.2 -1.2M531.1 84.3l1.2 -1.2M538.7 86.1l1.1 -1.1M546.4 88.1l1.1 -1.2M517.4 78.6l7.4 2.2l7.5 2.3l7.5 1.9l7.7 1.9l3.8 0.9"/>
<path class="q" color="#00ef84" d="M550.1 89l4 -0.9l5.1 -1.2l1.2 -1.2l-5.2 1.2l-3.9 0.9z"/>
<path class="m" d="M554.1 88.1l1.1 -1.2M551.3 87.8l3.9 -0.9l5.2 -1.2"/>
<path class="q" color="#00f75d" d="M559.2 86.9l2.6 -7.7l8 -23.5l2.2 -6.4l1.1 -1.1l-2.1 6.3l-8 23.5l-2.6 7.7z"/>
<path class="m" d="M561.8 79.2l1.2 -1.2M569.8 55.7l1.2 -1.2M560.4 85.7l2.6 -7.7l8 -23.5l2.1 -6.3"/>
<path class="q" color="#00ff6e" d="M581.8 52.2l1.2 11.9l1.1 -1.2l-1.1 -11.9z"/>
<path class="m" d="M583 51l1.1 11.9"/>
<path class="q" color="#00ff76" d="M583 64.1l2.8 13.7l1.1 -1.2l-2.8 -13.7z"/>
<path class="m" d="M584.1 62.9l2.8 13.7"/>
<path class="q" color="#00ff83" d="M585.8 77.8l0.9 2.5l1.1 -1.2l-0.9 -2.5z"/>
<path class="m" d="M586.7 80.3l1.1 -1.2M586.9 76.6l0.9 2.5"/>
<path class="q" color="#00ff84" d="M586.7 80.3l3.4 8.7l1 -1.3l-3.3 -8.6z"/>
<path class="m" d="M586.7 80.3l1.1 -1.2M587.8 79.1l3.3 8.6"/>
<path class="q" color="#00ff8a" d="M590.1 89l4.8 8.2l1.1 -1.3l-4.9 -8.2z"/>
<path class="m" d="M594.9 97.2l1.1 -1.3M591.1 87.7l4.9 8.2"/>
<path class="q" color="#00ff8d" d="M594.9 97.2l2.2 2.5l6.2 4.1l6.4 3.8l2.1 0.8l8.6 3.7l8.6 3.5l0.2 0.1l8.8 3.4l9 3.2l1 -1.4l-9 -3.2l-8.9 -3.4l-0.2 -0.1l-8.5 -3.4l-8.6 -3.7l-2 -0.8l-6.5 -3.8l-6.1 -4.1l-2.2 -2.5z"/>
<path class="m" d="M594.9 97.2l1.1 -1.3M603.3 103.8l1 -1.3M611.8 108.4l1 -1.3M620.4 112.1l1 -1.3M629.2 115.7l0.9 -1.4M638 119.1l1 -1.4M647 122.3l1 -1.4M596 95.9l2.2 2.5l6.1 4.1l6.5 3.8l2 0.8l8.6 3.7l8.5 3.4l0.2 0.1l8.9 3.4l9 3.2"/>
<path class="q" color="#00ffae" d="M515 80.8l7.4 2.3l7.5 2.3l7.6 1.9l7.7 1.9l3.8 1l1.1 -1.2l-3.7 -0.9l-7.7 -2l-7.6 -1.8l-7.5 -2.3l-7.4 -2.3z"/>
<path class="m" d="M515 80.8l1.2 -1.1M522.4 83.1l1.2 -1.1M529.9 85.4l1.2 -1.1M537.5 87.3l1.2 -1.2M545.2 89.2l1.2 -1.1"/>
<path class="q" color="#00efa3" d="M549 90.2l4 -0.9l5.1 -1.2l1.1 -1.2l-5.1 1.2l-4 0.9z"/>
<path class="m" d="M553 89.3l1.1 -1.2"/>
<path class="q" color="#00f772" d="M558.1 88.1l2.6 -7.7l8 -23.6l2.1 -6.3l1.2 -1.2l-2.2 6.4l-8 23.5l-2.6 7.7z"/>
<path class="m" d="M560.7 80.4l1.1 -1.2M568.7 56.8l1.1 -1.1"/>
<path class="q" color="#00ff88" d="M580.7 53.3l1.1 12l1.2 -1.2l-1.2 -11.9z"/>
<path class="q" color="#00ff92" d="M581.8 65.3l2.9 13.7l1.1 -1.2l-2.8 -13.7z"/>
<path class="q" color="#00ffa1" d="M584.7 79l0.9 2.5l1.1 -1.2l-0.9 -2.5z"/>
<path class="m" d="M585.6 81.5l1.1 -1.2"/>
<path class="q" color="#00ffa3" d="M585.6 81.5l3.4 8.7l1.1 -1.2l-3.4 -8.7z"/>
<path class="m" d="M585.6 81.5l1.1 -1.2"/>
<path class="q" color="#00ffaa" d="M589 90.2l4.9 8.2l1 -1.2l-4.8 -8.2z"/>
<path class="m" d="M593.9 98.4l1 -1.2"/>
<path class="q" color="#00ffae" d="M593.9 98.4l2.2 2.6l6.2 4.1l6.4 3.8l2.1 0.8l8.6 3.7l8.6 3.5l0.2 0.1l8.9 3.4l9 3.2l0.9 -1.3l-9 -3.2l-8.8 -3.4l-0.2 -0.1l-8.6 -3.5l-8.6 -3.7l-2.1 -0.8l-6.4 -3.8l-6.2 -4.1l-2.2 -2.5z"/>
<path class="m" d="M593.9 98.4l1 -1.2M602.3 105.1l1 -1.3M610.8 109.7l1 -1.3M619.4 113.4l1 -1.3M628.2 117l1 -1.3M637.1 120.4l0.9 -1.3M646.1 123.6l0.9 -1.3"/>
<path class="q" color="#00ffce" d="M513.8 81.9l7.4 2.3l7.5 2.4l7.6 1.9l7.7 1.9l3.8 1l1.2 -1.2l-3.8 -1l-7.7 -1.9l-7.6 -1.9l-7.5 -2.3l-7.4 -2.3z"/>
<path class="m" d="M513.8 81.9l1.2 -1.1M521.2 84.2l1.2 -1.1M528.7 86.6l1.2 -1.2M536.3 88.5l1.2 -1.2M544 90.4l1.2 -1.2"/>
<path class="q" color="#00efc1" d="M547.8 91.4l4 -0.9l5.1 -1.2l1.2 -1.2l-5.1 1.2l-4 0.9z"/>
<path class="m" d="M551.8 90.5l1.2 -1.2"/>
<path class="q" color="#00f787" d="M556.9 89.3l2.6 -7.7l8 -23.6l2.1 -6.4l1.2 -1.1l-2.1 6.3l-8 23.6l-2.6 7.7z"/>
<path class="m" d="M559.5 81.6l1.2 -1.2M567.5 58l1.2 -1.2"/>
<path class="q" color="#00ffa1" d="M579.5 54.5l1.2 11.9l1.1 -1.1l-1.1 -12z"/>
<path class="q" color="#00ffad" d="M580.7 66.4l2.9 13.8l1.1 -1.2l-2.9 -13.7z"/>
<path class="q" color="#00ffbf" d="M583.6 80.2l0.9 2.6l1.1 -1.3l-0.9 -2.5z"/>
<path class="m" d="M584.5 82.8l1.1 -1.3"/>
<path class="q" color="#00ffc1" d="M584.5 82.8l3.4 8.6l1.1 -1.2l-3.4 -8.7z"/>
<path class="m" d="M584.5 82.8l1.1 -1.3"/>
<path class="q" color="#00ffca" d="M587.9 91.4l4.9 8.2l1.1 -1.2l-4.9 -8.2z"/>
<path class="m" d="M592.8 99.6l1.1 -1.2"/>
<path class="q" color="#00ffce" d="M592.8 99.6l2.2 2.6l6.2 4.1l6.5 3.9l2.1 0.8l8.6 3.7l8.6 3.6l0.2 0.1l8.9 3.4l9.1 3.2l0.9 -1.4l-9 -3.2l-8.9 -3.4l-0.2 -0.1l-8.6 -3.5l-8.6 -3.7l-2.1 -0.8l-6.4 -3.8l-6.2 -4.1l-2.2 -2.6z"/>
<path class="m" d="M592.8 99.6l1.1 -1.2M601.2 106.3l1.1 -1.2M609.8 111l1 -1.3M618.4 114.7l1 -1.3M627.2 118.4l1 -1.4M636.1 121.8l1 -1.4M645.2 125l0.9 -1.4"/>
<path class="q" color="#00ffef" d="M512.6 83.1l7.4 2.3l7.5 2.3l7.6 2l7.8 1.9l3.8 1l1.1 -1.2l-3.8 -1l-7.7 -1.9l-7.6 -1.9l-7.5 -2.4l-7.4 -2.3z"/>
<path class="m" d="M512.6 83.1l1.2 -1.2M520 85.4l1.2 -1.2M527.5 87.7l1.2 -1.1M535.1 89.7l1.2 -1.2M542.9 91.6l1.1 -1.2M512.6 83.1l7.4 2.3l7.5 2.3l7.6 2l7.8 1.9l3.8 1"/>
<path class="q" color="#00efe0" d="M546.7 92.6l3.9 -0.9l5.2 -1.2l1.1 -1.2l-5.1 1.2l-4 0.9z"/>
<path class="m" d="M550.6 91.7l1.2 -1.2M546.7 92.6l3.9 -0.9l5.2 -1.2"/>
<path class="q" color="#00f79d" d="M555.8 90.5l2.6 -7.7l7.9 -23.6l2.1 -6.4l1.2 -1.2l-2.1 6.4l-8 23.6l-2.6 7.7z"/>
<path class="m" d="M558.4 82.8l1.1 -1.2M566.3 59.2l1.2 -1.2M555.8 90.5l2.6 -7.7l7.9 -23.6l2.1 -6.4"/>
<path class="q" color="#00ffba" d="M578.3 55.7l1.2 11.9l1.2 -1.2l-1.2 -11.9z"/>
<path class="m" d="M578.3 55.7l1.2 11.9"/>
<path class="q" color="#00ffc8" d="M579.5 67.6l3 13.8l1.1 -1.2l-2.9 -13.8z"/>
<path class="m" d="M579.5 67.6l3 13.8"/>
<path class="q" color="#00ffde" d="M582.5 81.4l0.9 2.6l1.1 -1.2l-0.9 -2.6z"/>
<path class="m" d="M583.4 84l1.1 -1.2M582.5 81.4l0.9 2.6"/>
<path class="q" color="#00ffe0" d="M583.4 84l3.4 8.7l1.1 -1.3l-3.4 -8.6z"/>
<path class="m" d="M583.4 84l1.1 -1.2M583.4 84l3.4 8.7"/>
<path class="q" color="#00ffea" d="M586.8 92.7l4.9 8.2l1.1 -1.3l-4.9 -8.2z"/>
<path class="m" d="M591.7 100.9l1.1 -1.3M586.8 92.7l4.9 8.2"/>
<path class="q" color="#00ffef" d="M591.7 100.9l2.2 2.6l6.3 4.1l6.5 3.9l2 0.9l8.7 3.7l8.6 3.5l0.2 0.1l9 3.5l9 3.2l1 -1.4l-9.1 -3.2l-8.9 -3.4l-0.2 -0.1l-8.6 -3.6l-8.6 -3.7l-2.1 -0.8l-6.5 -3.9l-6.2 -4.1l-2.2 -2.6z"/>
<path class="m" d="M591.7 100.9l1.1 -1.3M600.2 107.6l1 -1.3M608.7 112.4l1.1 -1.4M617.4 116.1l1 -1.4M626.2 119.7l1 -1.3M635.2 123.2l0.9 -1.4M644.2 126.4l1 -1.4M591.7 100.9l2.2 2.6l6.3 4.1l6.5 3.9l2 0.9l8.7 3.7l8.6 3.5l0.2 0.1l9 3.5l9 3.2"/>
<path class="q" color="#00f3ff" d="M511.3 84.2l7.5 2.3l7.5 2.4l7.7 2l7.7 1.9l3.8 1l1.2 -1.2l-3.8 -1l-7.8 -1.9l-7.6 -2l-7.5 -2.3l-7.4 -2.3z"/>
<path class="m" d="M511.3 84.2l1.3 -1.1M518.8 86.5l1.2 -1.1M526.3 88.9l1.2 -1.2M534 90.9l1.1 -1.2M541.7 92.8l1.2 -1.2M512.6 83.1l7.4 2.3l7.5 2.3l7.6 2l7.8 1.9l3.8 1"/>
<path class="q" color="#00e3ef" d="M545.5 93.8l4 -0.9l5.1 -1.2l1.2 -1.2l-5.2 1.2l-3.9 0.9z"/>
<path class="m" d="M549.5 92.9l1.1 -1.2M546.7 92.6l3.9 -0.9l5.2 -1.2"/>
<path class="q" color="#00eba7" d="M554.6 91.7l2.6 -7.7l7.9 -23.6l2.1 -6.4l1.2 -1.2l-2.1 6.4l-7.9 23.6l-2.6 7.7z"/>
<path class="m" d="M557.2 84l1.2 -1.2M565.1 60.4l1.2 -1.2M555.8 90.5l2.6 -7.7l7.9 -23.6l2.1 -6.4"/>
<path class="q" color="#00f3c7" d="M577.2 56.9l1.2 12l1.1 -1.3l-1.2 -11.9z"/>
<path class="m" d="M578.3 55.7l1.2 11.9"/>
<path class="q" color="#00f3d6" d="M578.4 68.9l3 13.7l1.1 -1.2l-3 -13.8z"/>
<path class="m" d="M579.5 67.6l3 13.8"/>
<path class="q" color="#00f3ed" d="M581.4 82.6l0.9 2.6l1.1 -1.2l-0.9 -2.6z"/>
<path class="m" d="M582.3 85.2l1.1 -1.2M582.5 81.4l0.9 2.6"/>
<path class="q" color="#00f3ef" d="M582.3 85.2l3.4 8.7l1.1 -1.2l-3.4 -8.7z"/>
<path class="m" d="M582.3 85.2l1.1 -1.2M583.4 84l3.4 8.7"/>
<path class="q" color="#00f3f9" d="M585.7 93.9l4.9 8.2l1.1 -1.2l-4.9 -8.2z"/>
<path class="m" d="M590.6 102.1l1.1 -1.2M586.8 92.7l4.9 8.2"/>
<path class="q" color="#00f3ff" d="M590.6 102.1l2.3 2.7l6.2 4.1l6.5 3.9l2.1 0.9l8.7 3.7l8.6 3.6l0.3 0.1l8.9 3.5l9.1 3.3l0.9 -1.5l-9 -3.2l-9 -3.5l-0.2 -0.1l-8.6 -3.5l-8.7 -3.7l-2 -0.9l-6.5 -3.9l-6.3 -4.1l-2.2 -2.6z"/>
<path class="m" d="M590.6 102.1l1.1 -1.2M599.1 108.9l1.1 -1.3M607.7 113.7l1 -1.3M616.4 117.4l1 -1.3M625.3 121.1l0.9 -1.4M634.2 124.6l1 -1.4M643.3 127.9l0.9 -1.5M591.7 100.9l2.2 2.6l6.3 4.1l6.5 3.9l2 0.9l8.7 3.7l8.6 3.5l0.2 0.1l9 3.5l9 3.2"/>
<path class="q" color="#00daff" d="M510.1 85.4l7.5 2.3l7.5 2.4l7.7 1.9l7.7 2l3.8 1l1.2 -1.2l-3.8 -1l-7.7 -1.9l-7.7 -2l-7.5 -2.4l-7.5 -2.3z"/>
<path class="m" d="M510.1 85.4l1.2 -1.2M517.6 87.7l1.2 -1.2M525.1 90.1l1.2 -1.2M532.8 92l1.2 -1.1M540.5 94l1.2 -1.2"/>
<path class="q" color="#00ccef" d="M544.3 95l4 -0.9l5.2 -1.2l1.1 -1.2l-5.1 1.2l-4 0.9z"/>
<path class="m" d="M548.3 94.1l1.2 -1.2"/>
<path class="q" color="#00d4a7" d="M553.5 92.9l2.5 -7.7l7.9 -23.6l2.1 -6.4l1.2 -1.2l-2.1 6.4l-7.9 23.6l-2.6 7.7z"/>
<path class="m" d="M556 85.2l1.2 -1.2M563.9 61.6l1.2 -1.2"/>
<path class="q" color="#00dac7" d="M576 58.1l1.2 12l1.2 -1.2l-1.2 -12z"/>
<path class="q" color="#00dad6" d="M577.2 70.1l3 13.8l1.2 -1.3l-3 -13.7z"/>
<path class="q" color="#00daed" d="M580.2 83.9l1 2.5l1.1 -1.2l-0.9 -2.6z"/>
<path class="m" d="M581.2 86.4l1.1 -1.2"/>
<path class="q" color="#00daef" d="M581.2 86.4l3.4 8.8l1.1 -1.3l-3.4 -8.7z"/>
<path class="m" d="M581.2 86.4l1.1 -1.2"/>
<path class="q" color="#00dafa" d="M584.6 95.2l5 8.2l1 -1.3l-4.9 -8.2z"/>
<path class="m" d="M589.6 103.4l1 -1.3"/>
<path class="q" color="#00daff" d="M589.6 103.4l2.2 2.7l6.3 4.1l6.5 3.9l2.1 0.9l8.7 3.8l8.6 3.6l0.3 0.1l8.9 3.5l9.1 3.3l1 -1.4l-9.1 -3.3l-8.9 -3.5l-0.3 -0.1l-8.6 -3.6l-8.7 -3.7l-2.1 -0.9l-6.5 -3.9l-6.2 -4.1l-2.3 -2.7z"/>
<path class="m" d="M589.6 103.4l1 -1.3M598.1 110.2l1 -1.3M606.7 115l1 -1.3M615.4 118.8l1 -1.4M624.3 122.5l1 -1.4M633.2 126l1 -1.4M642.3 129.3l1 -1.4"/>
<path class="q" color="#00c1ff" d="M508.8 86.5l7.5 2.4l7.6 2.4l7.7 2l7.7 2l3.8 0.9l1.2 -1.2l-3.8 -1l-7.7 -2l-7.7 -1.9l-7.5 -2.4l-7.5 -2.3z"/>
<path class="m" d="M508.8 86.5l1.3 -1.1M516.3 88.9l1.3 -1.2M523.9 91.3l1.2 -1.2M531.6 93.3l1.2 -1.3M539.3 95.3l1.2 -1.3"/>
<path class="q" color="#00b5ef" d="M543.1 96.2l4 -0.9l5.2 -1.1l1.2 -1.3l-5.2 1.2l-4 0.9z"/>
<path class="m" d="M547.1 95.3l1.2 -1.2"/>
<path class="q" color="#00bda7" d="M552.3 94.2l2.6 -7.7l7.8 -23.7l2.1 -6.4l1.2 -1.2l-2.1 6.4l-7.9 23.6l-2.5 7.7z"/>
<path class="m" d="M554.9 86.5l1.1 -1.3M562.7 62.8l1.2 -1.2"/>
<path class="q" color="#00c1c7" d="M574.8 59.3l1.3 12l1.1 -1.2l-1.2 -12z"/>
<path class="q" color="#00c1d6" d="M576.1 71.3l3 13.8l1.1 -1.2l-3 -13.8z"/>
<path class="q" color="#00c1ed" d="M579.1 85.1l0.9 2.6l1.2 -1.3l-1 -2.5z"/>
<path class="m" d="M580 87.7l1.2 -1.3"/>
<path class="q" color="#00c1ef" d="M580 87.7l3.5 8.7l1.1 -1.2l-3.4 -8.8z"/>
<path class="m" d="M580 87.7l1.2 -1.3"/>
<path class="q" color="#00c1fa" d="M583.5 96.4l5 8.3l1.1 -1.3l-5 -8.2z"/>
<path class="m" d="M588.5 104.7l1.1 -1.3"/>
<path class="q" color="#00c1ff" d="M588.5 104.7l2.2 2.7l6.3 4.2l6.5 3.9l2.1 0.9l8.8 3.8l8.6 3.6l0.3 0l8.9 3.6l9.2 3.3l0.9 -1.4l-9.1 -3.3l-8.9 -3.5l-0.3 -0.1l-8.6 -3.6l-8.7 -3.8l-2.1 -0.9l-6.5 -3.9l-6.3 -4.1l-2.2 -2.7z"/>
<path class="m" d="M588.5 104.7l1.1 -1.3M597 111.6l1.1 -1.4M605.6 116.4l1.1 -1.4M614.4 120.2l1 -1.4M623.3 123.8l1 -1.3M632.2 127.4l1 -1.4M641.4 130.7l0.9 -1.4"/>
<path class="q" color="#00a8ff" d="M507.6 87.7l7.5 2.4l7.6 2.4l7.6 2l7.8 2l3.9 1l1.1 -1.3l-3.8 -0.9l-7.7 -2l-7.7 -2l-7.6 -2.4l-7.5 -2.4z"/>
<path class="m" d="M507.6 87.7l1.2 -1.2M515.1 90.1l1.2 -1.2M522.7 92.5l1.2 -1.2M530.3 94.5l1.3 -1.2M538.1 96.5l1.2 -1.2M507.6 87.7l7.5 2.4l7.6 2.4l7.6 2l7.8 2l3.9 1"/>
<path class="q" color="#009def" d="M542 97.5l3.9 -0.9l5.2 -1.2l1.2 -1.2l-5.2 1.1l-4 0.9z"/>
<path class="m" d="M545.9 96.6l1.2 -1.3M542 97.5l3.9 -0.9l5.2 -1.2"/>
<path class="q" color="#00a5a7" d="M551.1 95.4l2.6 -7.7l7.8 -23.7l2.1 -6.4l1.2 -1.2l-2.1 6.4l-7.8 23.7l-2.6 7.7z"/>
<path class="m" d="M553.7 87.7l1.2 -1.2M561.5 64l1.2 -1.2M551.1 95.4l2.6 -7.7l7.8 -23.7l2.1 -6.4"/>
<path class="q" color="#00a8c7" d="M573.6 60.6l1.3 11.9l1.2 -1.2l-1.3 -12z"/>
<path class="m" d="M573.6 60.6l1.3 11.9"/>
<path class="q" color="#00a8d6" d="M574.9 72.5l3 13.9l1.2 -1.3l-3 -13.8z"/>
<path class="m" d="M574.9 72.5l3 13.9"/>
<path class="q" color="#00a8ed" d="M577.9 86.4l1 2.5l1.1 -1.2l-0.9 -2.6z"/>
<path class="m" d="M578.9 88.9l1.1 -1.2M577.9 86.4l1 2.5"/>
<path class="q" color="#00a8ef" d="M578.9 88.9l3.5 8.8l1.1 -1.3l-3.5 -8.7z"/>
<path class="m" d="M578.9 88.9l1.1 -1.2M578.9 88.9l3.5 8.8"/>
<path class="q" color="#00a8fa" d="M582.4 97.7l5 8.2l1.1 -1.2l-5 -8.3z"/>
<path class="m" d="M587.4 105.9l1.1 -1.2M582.4 97.7l5 8.2"/>
<path class="q" color="#00a8ff" d="M587.4 105.9l2.2 2.8l6.3 4.2l6.6 3.9l2.1 0.9l8.7 3.8l8.7 3.7l0.2 0l9.1 3.6l9.1 3.4l1 -1.5l-9.2 -3.3l-8.9 -3.6l-0.3 0l-8.6 -3.6l-8.8 -3.8l-2.1 -0.9l-6.5 -3.9l-6.3 -4.2l-2.2 -2.7z"/>
<path class="m" d="M587.4 105.9l1.1 -1.2M595.9 112.9l1.1 -1.3M604.6 117.7l1 -1.3M613.3 121.5l1.1 -1.3M622.2 125.2l1.1 -1.4M631.3 128.8l0.9 -1.4M640.4 132.2l1 -1.5M587.4 105.9l2.2 2.8l6.3 4.2l6.6 3.9l2.1 0.9l8.7 3.8l8.7 3.7l0.2 0l9.1 3.6l9.1 3.4"/>
<path class="q" color="#008fff" d="M506.3 88.9l7.5 2.4l7.6 2.4l7.7 2l7.8 2l3.9 1l1.2 -1.2l-3.9 -1l-7.8 -2l-7.6 -2l-7.6 -2.4l-7.5 -2.4z"/>
<path class="m" d="M506.3 88.9l1.3 -1.2M513.8 91.3l1.3 -1.2M521.4 93.7l1.3 -1.2M529.1 95.7l1.2 -1.2M536.9 97.7l1.2 -1.2M507.6 87.7l7.5 2.4l7.6 2.4l7.6 2l7.8 2l3.9 1"/>
<path class="q" color="#0086ef" d="M540.8 98.7l3.9 -0.9l5.2 -1.1l1.2 -1.3l-5.2 1.2l-3.9 0.9z"/>
<path class="m" d="M544.7 97.8l1.2 -1.2M542 97.5l3.9 -0.9l5.2 -1.2"/>
<path class="q" color="#008ea7" d="M549.9 96.7l2.6 -7.8l7.8 -23.7l2.1 -6.4l1.2 -1.2l-2.1 6.4l-7.8 23.7l-2.6 7.7z"/>
<path class="m" d="M552.5 88.9l1.2 -1.2M560.3 65.2l1.2 -1.2M551.1 95.4l2.6 -7.7l7.8 -23.7l2.1 -6.4"/>
<path class="q" color="#008fc7" d="M572.4 61.8l1.3 12l1.2 -1.3l-1.3 -11.9z"/>
<path class="m" d="M573.6 60.6l1.3 11.9"/>
<path class="q" color="#008fd6" d="M573.7 73.8l3.1 13.8l1.1 -1.2l-3 -13.9z"/>
<path class="m" d="M574.9 72.5l3 13.9"/>
<path class="q" color="#008fed" d="M576.8 87.6l0.9 2.6l1.2 -1.3l-1 -2.5z"/>
<path class="m" d="M577.7 90.2l1.2 -1.3M577.9 86.4l1 2.5"/>
<path class="q" color="#008fef" d="M577.7 90.2l3.5 8.8l1.2 -1.3l-3.5 -8.8z"/>
<path class="m" d="M577.7 90.2l1.2 -1.3M578.9 88.9l3.5 8.8"/>
<path class="q" color="#008ffa" d="M581.2 99l5.1 8.2l1.1 -1.3l-5 -8.2z"/>
<path class="m" d="M586.3 107.2l1.1 -1.3M582.4 97.7l5 8.2"/>
<path class="q" color="#008fff" d="M586.3 107.2l2.2 2.8l6.3 4.2l6.6 4l2.1 0.9l8.8 3.8l8.7 3.7l0.2 0l9.1 3.6l9.1 3.4l1 -1.4l-9.1 -3.4l-9.1 -3.6l-0.2 0l-8.7 -3.7l-8.7 -3.8l-2.1 -0.9l-6.6 -3.9l-6.3 -4.2l-2.2 -2.8z"/>
<path class="m" d="M586.3 107.2l1.1 -1.3M594.8 114.2l1.1 -1.3M603.5 119.1l1.1 -1.4M612.3 122.9l1 -1.4M621.2 126.6l1 -1.4M630.3 130.2l1 -1.4M639.4 133.6l1 -1.4M587.4 105.9l2.2 2.8l6.3 4.2l6.6 3.9l2.1 0.9l8.7 3.8l8.7 3.7l0.2 0l9.1 3.6l9.1 3.4"/>
<path class="q" color="#0076ff" d="M505.1 90l7.5 2.4l7.6 2.5l7.7 2l7.8 2l3.9 1.1l1.2 -1.3l-3.9 -1l-7.8 -2l-7.7 -2l-7.6 -2.4l-7.5 -2.4z"/>
<path class="m" d="M505.1 90l1.2 -1.1M512.6 92.4l1.2 -1.1M520.2 94.9l1.2 -1.2M527.9 96.9l1.2 -1.2M535.7 98.9l1.2 -1.2"/>
<path class="q" color="#006fef" d="M539.6 100l3.9 -0.9l5.2 -1.2l1.2 -1.2l-5.2 1.1l-3.9 0.9z"/>
<path class="m" d="M543.5 99.1l1.2 -1.3"/>
<path class="q" color="#0077a7" d="M548.7 97.9l2.6 -7.7l7.7 -23.8l2.1 -6.4l1.3 -1.2l-2.1 6.4l-7.8 23.7l-2.6 7.8z"/>
<path class="m" d="M551.3 90.2l1.2 -1.3M559 66.4l1.3 -1.2"/>
<path class="q" color="#0076c7" d="M571.2 63l1.3 12l1.2 -1.2l-1.3 -12z"/>
<path class="q" color="#0076d6" d="M572.5 75l3.1 13.9l1.2 -1.3l-3.1 -13.8z"/>
<path class="q" color="#0076ed" d="M575.6 88.9l1 2.6l1.1 -1.3l-0.9 -2.6z"/>
<path class="m" d="M576.6 91.5l1.1 -1.3"/>
<path class="q" color="#0076ef" d="M576.6 91.5l3.5 8.8l1.1 -1.3l-3.5 -8.8z"/>
<path class="m" d="M576.6 91.5l1.1 -1.3"/>
<path class="q" color="#0076fa" d="M580.1 100.3l5 8.2l1.2 -1.3l-5.1 -8.2z"/>
<path class="m" d="M585.1 108.5l1.2 -1.3"/>
<path class="q" color="#0076fe" d="M585.1 108.5l2.3 2.9l1.1 -1.4l-2.2 -2.8z"/>
<path class="m" d="M585.1 108.5l1.2 -1.3"/>
<path class="q" color="#0076ff" d="M587.4 111.4l6.3 4.2l6.6 4l2.1 0.9l8.9 3.8l8.7 3.7l0.2 0.1l9.1 3.5l9.2 3.5l0.9 -1.5l-9.1 -3.4l-9.1 -3.6l-0.2 0l-8.7 -3.7l-8.8 -3.8l-2.1 -0.9l-6.6 -4l-6.3 -4.2z"/>
<path class="m" d="M593.7 115.6l1.1 -1.4M602.4 120.5l1.1 -1.4M611.3 124.3l1 -1.4M620.2 128.1l1 -1.5M629.3 131.6l1 -1.4M638.5 135.1l0.9 -1.5"/>
<path class="q" color="#005dff" d="M503.8 91.2l7.5 2.4l7.6 2.5l7.8 2l7.8 2.1l3.8 1l1.3 -1.2l-3.9 -1.1l-7.8 -2l-7.7 -2l-7.6 -2.5l-7.5 -2.4z"/>
<path class="m" d="M503.8 91.2l1.3 -1.2M511.3 93.6l1.3 -1.2M518.9 96.1l1.3 -1.2M526.7 98.1l1.2 -1.2M534.5 100.2l1.2 -1.3"/>
<path class="q" color="#0058ef" d="M538.3 101.2l4 -0.9l5.2 -1.1l1.2 -1.3l-5.2 1.2l-3.9 0.9z"/>
<path class="m" d="M542.3 100.3l1.2 -1.2"/>
<path class="q" color="#0060a7" d="M547.5 99.2l2.6 -7.8l7.7 -23.7l2.1 -6.5l1.2 -1.2l-2.1 6.4l-7.7 23.8l-2.6 7.7z"/>
<path class="m" d="M550.1 91.4l1.2 -1.2M557.8 67.7l1.2 -1.3"/>
<path class="q" color="#005dc7" d="M570 64.3l1.3 12l1.2 -1.3l-1.3 -12z"/>
<path class="q" color="#005dd6" d="M571.3 76.3l3.1 13.9l1.2 -1.3l-3.1 -13.9z"/>
<path class="q" color="#005ded" d="M574.4 90.2l1 2.5l1.2 -1.2l-1 -2.6z"/>
<path class="m" d="M575.4 92.7l1.2 -1.2"/>
<path class="q" color="#005def" d="M575.4 92.7l3.5 8.9l1.2 -1.3l-3.5 -8.8z"/>
<path class="m" d="M575.4 92.7l1.2 -1.2"/>
<path class="q" color="#005dfa" d="M578.9 101.6l5.1 8.2l1.1 -1.3l-5 -8.2z"/>
<path class="m" d="M584 109.8l1.1 -1.3"/>
<path class="q" color="#005dfe" d="M584 109.8l2.3 2.9l1.1 -1.3l-2.3 -2.9z"/>
<path class="m" d="M584 109.8l1.1 -1.3"/>
<path class="q" color="#005dff" d="M586.3 112.7l6.3 4.2l6.6 4l2.2 1l8.8 3.8l8.8 3.7l0.2 0.1l9.1 3.6l9.2 3.4l1 -1.4l-9.2 -3.5l-9.1 -3.5l-0.2 -0.1l-8.7 -3.7l-8.9 -3.8l-2.1 -0.9l-6.6 -4l-6.3 -4.2z"/>
<path class="m" d="M592.6 116.9l1.1 -1.3M601.4 121.9l1 -1.4M610.2 125.7l1.1 -1.4M619.2 129.5l1 -1.4M628.3 133.1l1 -1.5M637.5 136.5l1 -1.4"/>
<path class="q" color="#0045ff" d="M502.5 92.4l7.5 2.5l7.7 2.4l7.7 2.1l7.9 2l3.8 1.1l1.2 -1.3l-3.8 -1l-7.8 -2.1l-7.8 -2l-7.6 -2.5l-7.5 -2.4z"/>
<path class="m" d="M502.5 92.4l1.3 -1.2M510 94.9l1.3 -1.3M517.7 97.3l1.2 -1.2M525.4 99.4l1.3 -1.3M533.3 101.4l1.2 -1.2M502.5 92.4l7.5 2.5l7.7 2.4l7.7 2.1l7.9 2l3.8 1.1"/>
<path class="q" color="#0040ef" d="M537.1 102.5l4 -0.9l5.2 -1.1l1.2 -1.3l-5.2 1.1l-4 0.9z"/>
<path class="m" d="M541.1 101.6l1.2 -1.3M537.1 102.5l4 -0.9l5.2 -1.1"/>
<path class="q" color="#0048a7" d="M546.3 100.5l2.5 -7.8l7.8 -23.8l2 -6.4l1.3 -1.3l-2.1 6.5l-7.7 23.7l-2.6 7.8z"/>
<path class="m" d="M548.8 92.7l1.3 -1.3M556.6 68.9l1.2 -1.2M546.3 100.5l2.5 -7.8l7.8 -23.8l2 -6.4"/>
<path class="q" color="#0045c7" d="M568.7 65.5l1.4 12.1l1.2 -1.3l-1.3 -12z"/>
<path class="m" d="M568.7 65.5l1.4 12.1"/>
<path class="q" color="#0045d6" d="M570.1 77.6l3.2 13.9l1.1 -1.3l-3.1 -13.9z"/>
<path class="m" d="M570.1 77.6l3.2 13.9"/>
<path class="q" color="#0045ed" d="M573.3 91.5l0.9 2.5l1.2 -1.3l-1 -2.5z"/>
<path class="m" d="M574.2 94l1.2 -1.3M573.3 91.5l0.9 2.5"/>
<path class="q" color="#0045ef" d="M574.2 94l3.6 8.9l1.1 -1.3l-3.5 -8.9z"/>
<path class="m" d="M574.2 94l1.2 -1.3M574.2 94l3.6 8.9"/>
<path class="q" color="#0045fa" d="M577.8 102.9l5.1 8.2l1.1 -1.3l-5.1 -8.2z"/>
<path class="m" d="M582.9 111.1l1.1 -1.3M577.8 102.9l5.1 8.2"/>
<path class="q" color="#0045fe" d="M582.9 111.1l2.2 2.9l1.2 -1.3l-2.3 -2.9z"/>
<path class="m" d="M582.9 111.1l1.1 -1.3M582.9 111.1l2.2 2.9"/>
<path class="q" color="#0045ff" d="M585.1 114l6.4 4.3l6.7 4l2.1 0.9l8.9 3.9l8.7 3.7l0.2 0.1l9.2 3.6l9.2 3.5l1 -1.5l-9.2 -3.4l-9.1 -3.6l-0.2 -0.1l-8.8 -3.7l-8.8 -3.8l-2.2 -1l-6.6 -4l-6.3 -4.2z"/>
<path class="m" d="M591.5 118.3l1.1 -1.4M600.3 123.2l1.1 -1.3M609.2 127.1l1 -1.4M618.1 130.9l1.1 -1.4M627.3 134.5l1 -1.4M636.5 138l1 -1.5M585.1 114l6.4 4.3l6.7 4l2.1 0.9l8.9 3.9l8.7 3.7l0.2 0.1l9.2 3.6l9.2 3.5"/>
<path class="q" color="#0033ff" d="M501.2 93.6l7.6 2.5l7.6 2.5l7.8 2l7.8 2.1l3.9 1l1.2 -1.2l-3.8 -1.1l-7.9 -2l-7.7 -2.1l-7.7 -2.4l-7.5 -2.5z"/>
<path class="m" d="M501.2 93.6l1.3 -1.2M508.8 96.1l1.2 -1.2M516.4 98.6l1.3 -1.3M524.2 100.6l1.2 -1.2M532 102.7l1.3 -1.3M502.5 92.4l7.5 2.5l7.7 2.4l7.7 2.1l7.9 2l3.8 1.1"/>
<path class="q" color="#0030ef" d="M535.9 103.7l4 -0.8l5.2 -1.2l1.2 -1.2l-5.2 1.1l-4 0.9z"/>
<path class="m" d="M539.9 102.9l1.2 -1.3M537.1 102.5l4 -0.9l5.2 -1.1"/>
<path class="q" color="#0038a7" d="M545.1 101.7l2.5 -7.7l7.7 -23.8l2.1 -6.5l1.2 -1.2l-2 6.4l-7.8 23.8l-2.5 7.8z"/>
<path class="m" d="M547.6 94l1.2 -1.3M555.3 70.2l1.3 -1.3M546.3 100.5l2.5 -7.8l7.8 -23.8l2 -6.4"/>
<path class="q" color="#0033c7" d="M567.5 66.8l1.4 12l1.2 -1.2l-1.4 -12.1z"/>
<path class="m" d="M568.7 65.5l1.4 12.1"/>
<path class="q" color="#0033d6" d="M568.9 78.8l3.2 13.9l1.2 -1.2l-3.2 -13.9z"/>
<path class="m" d="M570.1 77.6l3.2 13.9"/>
<path class="q" color="#0033ed" d="M572.1 92.7l1 2.6l1.1 -1.3l-0.9 -2.5z"/>
<path class="m" d="M573.1 95.3l1.1 -1.3M573.3 91.5l0.9 2.5"/>
<path class="q" color="#0033ef" d="M573.1 95.3l3.5 8.9l1.2 -1.3l-3.6 -8.9z"/>
<path class="m" d="M573.1 95.3l1.1 -1.3M574.2 94l3.6 8.9"/>
<path class="q" color="#0033fa" d="M576.6 104.2l5.1 8.3l1.2 -1.4l-5.1 -8.2z"/>
<path class="m" d="M581.7 112.5l1.2 -1.4M577.8 102.9l5.1 8.2"/>
<path class="q" color="#0033fe" d="M581.7 112.5l2.3 2.9l1.1 -1.4l-2.2 -2.9z"/>
<path class="m" d="M581.7 112.5l1.2 -1.4M582.9 111.1l2.2 2.9"/>
<path class="q" color="#0033ff" d="M584 115.4l6.4 4.2l6.7 4.1l2.1 0.9l8.9 3.9l8.8 3.8l0.2 0.1l9.1 3.6l9.3 3.5l1 -1.5l-9.2 -3.5l-9.2 -3.6l-0.2 -0.1l-8.7 -3.7l-8.9 -3.9l-2.1 -0.9l-6.7 -4l-6.4 -4.3z"/>
<path class="m" d="M590.4 119.6l1.1 -1.3M599.2 124.6l1.1 -1.4M608.1 128.5l1.1 -1.4M617.1 132.4l1 -1.5M626.2 136l1.1 -1.5M635.5 139.5l1 -1.5M585.1 114l6.4 4.3l6.7 4l2.1 0.9l8.9 3.9l8.7 3.7l0.2 0.1l9.2 3.6l9.2 3.5"/>
<path class="q" color="#002aff" d="M499.9 94.8l7.6 2.5l7.7 2.5l7.7 2.1l7.9 2.1l3.9 1l1.2 -1.3l-3.9 -1l-7.8 -2.1l-7.8 -2l-7.6 -2.5l-7.6 -2.5z"/>
<path class="m" d="M499.9 94.8l1.3 -1.2M507.5 97.3l1.3 -1.2M515.2 99.8l1.2 -1.2M522.9 101.9l1.3 -1.3M530.8 104l1.2 -1.3"/>
<path class="q" color="#0027ef" d="M534.7 105l4 -0.8l5.2 -1.2l1.2 -1.3l-5.2 1.2l-4 0.8z"/>
<path class="m" d="M538.7 104.2l1.2 -1.3"/>
<path class="q" color="#002fa7" d="M543.9 103l2.5 -7.7l7.6 -23.9l2.1 -6.4l1.3 -1.3l-2.1 6.5l-7.7 23.8l-2.5 7.7z"/>
<path class="m" d="M546.4 95.3l1.2 -1.3M554 71.4l1.3 -1.2"/>
<path class="q" color="#002ac7" d="M566.3 68.1l1.4 12l1.2 -1.3l-1.4 -12z"/>
<path class="q" color="#002ad6" d="M567.7 80.1l3.2 13.9l1.2 -1.3l-3.2 -13.9z"/>
<path class="q" color="#002aed" d="M570.9 94l1 2.6l1.2 -1.3l-1 -2.6z"/>
<path class="m" d="M571.9 96.6l1.2 -1.3"/>
<path class="q" color="#002aef" d="M571.9 96.6l3.6 8.9l1.1 -1.3l-3.5 -8.9z"/>
<path class="m" d="M571.9 96.6l1.2 -1.3"/>
<path class="q" color="#002afa" d="M575.5 105.5l5.1 8.3l1.1 -1.3l-5.1 -8.3z"/>
<path class="m" d="M580.6 113.8l1.1 -1.3"/>
<path class="q" color="#002afe" d="M580.6 113.8l2.3 3l1.1 -1.4l-2.3 -2.9z"/>
<path class="m" d="M580.6 113.8l1.1 -1.3"/>
<path class="q" color="#002aff" d="M582.9 116.8l6.4 4.2l6.7 4.1l2.1 1l8.9 3.9l8.8 3.7l0.2 0.1l9.2 3.7l9.3 3.5l1 -1.5l-9.3 -3.5l-9.1 -3.6l-0.2 -0.1l-8.8 -3.8l-8.9 -3.9l-2.1 -0.9l-6.7 -4.1l-6.4 -4.2z"/>
<path class="m" d="M589.3 121l1.1 -1.4M598.1 126.1l1.1 -1.5M607 130l1.1 -1.5M616 133.8l1.1 -1.4M625.2 137.5l1 -1.5M634.5 141l1 -1.5"/>
<path class="q" color="#0020ff" d="M498.6 96l7.6 2.5l7.7 2.5l7.7 2.1l7.9 2.2l3.9 1l1.3 -1.3l-3.9 -1l-7.9 -2.1l-7.7 -2.1l-7.7 -2.5l-7.6 -2.5z"/>
<path class="m" d="M498.6 96l1.3 -1.2M506.2 98.5l1.3 -1.2M513.9 101l1.3 -1.2M521.6 103.1l1.3 -1.2M529.5 105.3l1.3 -1.3"/>
<path class="q" color="#001eef" d="M533.4 106.3l4 -0.9l5.2 -1.1l1.3 -1.3l-5.2 1.2l-4 0.8z"/>
<path class="m" d="M537.4 105.4l1.3 -1.2"/>
<path class="q" color="#0026a7" d="M542.6 104.3l2.5 -7.7l7.7 -23.9l2 -6.5l1.3 -1.2l-2.1 6.4l-7.6 23.9l-2.5 7.7z"/>
<path class="m" d="M545.1 96.6l1.3 -1.3M552.8 72.7l1.2 -1.3"/>
<path class="q" color="#0020c7" d="M565 69.4l1.4 12l1.3 -1.3l-1.4 -12z"/>
<path class="q" color="#0020d6" d="M566.4 81.4l3.3 14l1.2 -1.4l-3.2 -13.9z"/>
<path class="q" color="#0020ed" d="M569.7 95.4l1 2.5l1.2 -1.3l-1 -2.6z"/>
<path class="m" d="M570.7 97.9l1.2 -1.3"/>
<path class="q" color="#0020ef" d="M570.7 97.9l3.6 8.9l1.2 -1.3l-3.6 -8.9z"/>
<path class="m" d="M570.7 97.9l1.2 -1.3"/>
<path class="q" color="#0020fa" d="M574.3 106.8l5.1 8.3l1.2 -1.3l-5.1 -8.3z"/>
<path class="m" d="M579.4 115.1l1.2 -1.3"/>
<path class="q" color="#0020fe" d="M579.4 115.1l2.3 3l1.2 -1.3l-2.3 -3z"/>
<path class="m" d="M579.4 115.1l1.2 -1.3"/>
<path class="q" color="#0020ff" d="M581.7 118.1l6.5 4.3l6.7 4.1l2.1 1l8.9 3.9l8.9 3.8l0.2 0.1l9.2 3.7l9.3 3.5l1 -1.5l-9.3 -3.5l-9.2 -3.7l-0.2 -0.1l-8.8 -3.7l-8.9 -3.9l-2.1 -1l-6.7 -4.1l-6.4 -4.2z"/>
<path class="m" d="M588.2 122.4l1.1 -1.4M597 127.5l1.1 -1.4M605.9 131.4l1.1 -1.4M615 135.3l1 -1.5M624.2 139l1 -1.5M633.5 142.5l1 -1.5"/>
<path class="q" color="#0017ff" d="M497.3 97.3l7.6 2.5l7.7 2.5l7.8 2.1l7.9 2.1l3.9 1.1l1.2 -1.3l-3.9 -1l-7.9 -2.2l-7.7 -2.1l-7.7 -2.5l-7.6 -2.5z"/>
<path class="m" d="M497.3 97.3l1.3 -1.3M504.9 99.8l1.3 -1.3M512.6 102.3l1.3 -1.3M520.4 104.4l1.2 -1.3M528.3 106.5l1.2 -1.2M497.3 97.3l7.6 2.5l7.7 2.5l7.8 2.1l7.9 2.1l3.9 1.1"/>
<path class="q" color="#0015ef" d="M532.2 107.6l4 -0.9l5.2 -1.1l1.2 -1.3l-5.2 1.1l-4 0.9z"/>
<path class="m" d="M536.2 106.7l1.2 -1.3M532.2 107.6l4 -0.9l5.2 -1.1"/>
<path class="q" color="#001da7" d="M541.4 105.6l2.5 -7.7l7.6 -23.9l2 -6.5l1.3 -1.3l-2 6.5l-7.7 23.9l-2.5 7.7z"/>
<path class="m" d="M543.9 97.9l1.2 -1.3M551.5 74l1.3 -1.3M541.4 105.6l2.5 -7.7l7.6 -23.9l2 -6.5"/>
<path class="q" color="#0017c7" d="M563.7 70.6l1.5 12.1l1.2 -1.3l-1.4 -12z"/>
<path class="m" d="M563.7 70.6l1.5 12.1"/>
<path class="q" color="#0017d6" d="M565.2 82.7l3.3 14l1.2 -1.3l-3.3 -14z"/>
<path class="m" d="M565.2 82.7l3.3 14"/>
<path class="q" color="#0017ed" d="M568.5 96.7l1 2.6l1.2 -1.4l-1 -2.5z"/>
<path class="m" d="M569.5 99.3l1.2 -1.4M568.5 96.7l1 2.6"/>
<path class="q" color="#0017ef" d="M569.5 99.3l3.6 8.9l1.2 -1.4l-3.6 -8.9z"/>
<path class="m" d="M569.5 99.3l1.2 -1.4M569.5 99.3l3.6 8.9"/>
<path class="q" color="#0017fa" d="M573.1 108.2l5.2 8.3l1.1 -1.4l-5.1 -8.3z"/>
<path class="m" d="M578.3 116.5l1.1 -1.4M573.1 108.2l5.2 8.3"/>
<path class="q" color="#0017fe" d="M578.3 116.5l2.3 3l1.1 -1.4l-2.3 -3z"/>
<path class="m" d="M578.3 116.5l1.1 -1.4M578.3 116.5l2.3 3"/>
<path class="q" color="#0017ff" d="M580.6 119.5l6.4 4.3l6.7 4.2l2.2 0.9l8.9 3.9l8.9 3.8l0.2 0.1l9.2 3.7l9.4 3.6l1 -1.5l-9.3 -3.5l-9.2 -3.7l-0.2 -0.1l-8.9 -3.8l-8.9 -3.9l-2.1 -1l-6.7 -4.1l-6.5 -4.3z"/>
<path class="m" d="M587 123.8l1.2 -1.4M595.9 128.9l1.1 -1.4M604.8 132.8l1.1 -1.4M613.9 136.7l1.1 -1.4M623.1 140.4l1.1 -1.4M632.5 144l1 -1.5M580.6 119.5l6.4 4.3l6.7 4.2l2.2 0.9l8.9 3.9l8.9 3.8l0.2 0.1l9.2 3.7l9.4 3.6"/>
<path class="q" color="#000dff" d="M495.9 98.5l7.7 2.5l7.7 2.6l7.8 2.1l7.9 2.1l3.9 1.1l1.3 -1.3l-3.9 -1.1l-7.9 -2.1l-7.8 -2.1l-7.7 -2.5l-7.6 -2.5z"/>
<path class="m" d="M495.9 98.5l1.4 -1.2M503.6 101l1.3 -1.2M511.3 103.6l1.3 -1.3M519.1 105.7l1.3 -1.3M527 107.8l1.3 -1.3M497.3 97.3l7.6 2.5l7.7 2.5l7.8 2.1l7.9 2.1l3.9 1.1"/>
<path class="q" color="#000cef" d="M530.9 108.9l4 -0.8l5.3 -1.1l1.2 -1.4l-5.2 1.1l-4 0.9z"/>
<path class="m" d="M534.9 108.1l1.3 -1.4M532.2 107.6l4 -0.9l5.2 -1.1"/>
<path class="q" color="#0014a7" d="M540.2 107l2.4 -7.8l7.6 -24l2.1 -6.4l1.2 -1.3l-2 6.5l-7.6 23.9l-2.5 7.7z"/>
<path class="m" d="M542.6 99.2l1.3 -1.3M550.2 75.2l1.3 -1.2M541.4 105.6l2.5 -7.7l7.6 -23.9l2 -6.5"/>
<path class="q" color="#000dc7" d="M562.5 71.9l1.4 12.1l1.3 -1.3l-1.5 -12.1z"/>
<path class="m" d="M563.7 70.6l1.5 12.1"/>
<path class="q" color="#000dd6" d="M563.9 84l3.3 14l1.3 -1.3l-3.3 -14z"/>
<path class="m" d="M565.2 82.7l3.3 14"/>
<path class="q" color="#000ded" d="M567.2 98l1.1 2.6l1.2 -1.3l-1 -2.6z"/>
<path class="m" d="M568.3 100.6l1.2 -1.3M568.5 96.7l1 2.6"/>
<path class="q" color="#000def" d="M568.3 100.6l3.6 8.9l1.2 -1.3l-3.6 -8.9z"/>
<path class="m" d="M568.3 100.6l1.2 -1.3M569.5 99.3l3.6 8.9"/>
<path class="q" color="#000dfa" d="M571.9 109.5l5.2 8.3l1.2 -1.3l-5.2 -8.3z"/>
<path class="m" d="M577.1 117.8l1.2 -1.3M573.1 108.2l5.2 8.3"/>
<path class="q" color="#000dfd" d="M577.1 117.8l2.3 3.1l1.2 -1.4l-2.3 -3z"/>
<path class="m" d="M577.1 117.8l1.2 -1.3M578.3 116.5l2.3 3"/>
<path class="q" color="#000dff" d="M579.4 120.9l6.5 4.3l6.7 4.2l2.2 0.9l9 4l8.8 3.8l0.3 0.1l9.2 3.7l9.4 3.7l1 -1.6l-9.4 -3.6l-9.2 -3.7l-0.2 -0.1l-8.9 -3.8l-8.9 -3.9l-2.2 -0.9l-6.7 -4.2l-6.4 -4.3z"/>
<path class="m" d="M585.9 125.2l1.1 -1.4M594.8 130.3l1.1 -1.4M603.8 134.3l1 -1.5M612.9 138.2l1 -1.5M622.1 141.9l1 -1.5M631.5 145.6l1 -1.6M580.6 119.5l6.4 4.3l6.7 4.2l2.2 0.9l8.9 3.9l8.9 3.8l0.2 0.1l9.2 3.7l9.4 3.6"/>
<path class="q" color="#0004ff" d="M494.6 99.7l7.6 2.6l7.8 2.5l7.8 2.2l7.9 2.1l3.9 1.1l1.3 -1.3l-3.9 -1.1l-7.9 -2.1l-7.8 -2.1l-7.7 -2.6l-7.7 -2.5z"/>
<path class="m" d="M494.6 99.7l1.3 -1.2M502.2 102.3l1.4 -1.3M510 104.8l1.3 -1.2M517.8 107l1.3 -1.3M525.7 109.1l1.3 -1.3"/>
<path class="q" color="#0003ef" d="M529.6 110.2l4.1 -0.8l5.2 -1.1l1.3 -1.3l-5.3 1.1l-4 0.8z"/>
<path class="m" d="M533.7 109.4l1.2 -1.3"/>
<path class="q" color="#000ba7" d="M538.9 108.3l2.5 -7.8l7.5 -24l2 -6.4l1.4 -1.3l-2.1 6.4l-7.6 24l-2.4 7.8z"/>
<path class="m" d="M541.4 100.5l1.2 -1.3M548.9 76.5l1.3 -1.3"/>
<path class="q" color="#0004c7" d="M561.2 73.3l1.5 12l1.2 -1.3l-1.4 -12.1z"/>
<path class="q" color="#0004d6" d="M562.7 85.3l3.3 14l1.2 -1.3l-3.3 -14z"/>
<path class="q" color="#0004ed" d="M566 99.3l1 2.6l1.3 -1.3l-1.1 -2.6z"/>
<path class="m" d="M567 101.9l1.3 -1.3"/>
<path class="q" color="#0004ef" d="M567 101.9l3.7 9l1.2 -1.4l-3.6 -8.9z"/>
<path class="m" d="M567 101.9l1.3 -1.3"/>
<path class="q" color="#0004fa" d="M570.7 110.9l5.2 8.3l1.2 -1.4l-5.2 -8.3z"/>
<path class="m" d="M575.9 119.2l1.2 -1.4"/>
<path class="q" color="#0004fd" d="M575.9 119.2l2.4 3.1l1.1 -1.4l-2.3 -3.1z"/>
<path class="m" d="M575.9 119.2l1.2 -1.4"/>
<path class="q" color="#0004ff" d="M578.3 122.3l6.4 4.3l6.8 4.2l2.1 1l9.1 4l8.9 3.8l0.2 0.1l9.2 3.8l9.4 3.6l1.1 -1.5l-9.4 -3.7l-9.2 -3.7l-0.3 -0.1l-8.8 -3.8l-9 -4l-2.2 -0.9l-6.7 -4.2l-6.5 -4.3z"/>
<path class="m" d="M584.7 126.6l1.2 -1.4M593.6 131.8l1.2 -1.5M602.7 135.8l1.1 -1.5M611.8 139.7l1.1 -1.5M621 143.5l1.1 -1.6M630.4 147.1l1.1 -1.5"/>
<path class="q" color="#0600ff" d="M493.3 101l7.6 2.5l7.8 2.6l7.8 2.2l7.9 2.1l4 1.1l1.2 -1.3l-3.9 -1.1l-7.9 -2.1l-7.8 -2.2l-7.8 -2.5l-7.6 -2.6z"/>
<path class="m" d="M493.3 101l1.3 -1.3M500.9 103.5l1.3 -1.2M508.7 106.1l1.3 -1.3M516.5 108.3l1.3 -1.3M524.4 110.4l1.3 -1.3"/>
<path class="q" color="#0600ef" d="M528.4 111.5l4 -0.8l5.2 -1.1l1.3 -1.3l-5.2 1.1l-4.1 0.8z"/>
<path class="m" d="M532.4 110.7l1.3 -1.3"/>
<path class="q" color="#0508a7" d="M537.6 109.6l2.5 -7.8l7.5 -24l2 -6.4l1.3 -1.3l-2 6.4l-7.5 24l-2.5 7.8z"/>
<path class="m" d="M540.1 101.8l1.3 -1.3M547.6 77.8l1.3 -1.3"/>
<path class="q" color="#0600c7" d="M559.9 74.6l1.5 12.1l1.3 -1.4l-1.5 -12z"/>
<path class="q" color="#0600d7" d="M561.4 86.7l3.4 14l1.2 -1.4l-3.3 -14z"/>
<path class="q" color="#0600ee" d="M564.8 100.7l1 2.6l1.2 -1.4l-1 -2.6z"/>
<path class="m" d="M565.8 103.3l1.2 -1.4"/>
<path class="q" color="#0600ef" d="M565.8 103.3l3.7 9l1.2 -1.4l-3.7 -9z"/>
<path class="m" d="M565.8 103.3l1.2 -1.4"/>
<path class="q" color="#0600fa" d="M569.5 112.3l5.2 8.3l1.2 -1.4l-5.2 -8.3z"/>
<path class="m" d="M574.7 120.6l1.2 -1.4"/>
<path class="q" color="#0600fd" d="M574.7 120.6l2.4 3.1l1.2 -1.4l-2.4 -3.1z"/>
<path class="m" d="M574.7 120.6l1.2 -1.4"/>
<path class="q" color="#0600ff" d="M577.1 123.7l6.5 4.3l6.8 4.3l2.1 0.9l9 4l9 3.9l0.2 0.1l9.3 3.8l9.4 3.7l1 -1.6l-9.4 -3.6l-9.2 -3.8l-0.2 -0.1l-8.9 -3.8l-9.1 -4l-2.1 -1l-6.8 -4.2l-6.4 -4.3z"/>
<path class="m" d="M583.6 128l1.1 -1.4M592.5 133.2l1.1 -1.4M601.5 137.2l1.2 -1.4M610.7 141.2l1.1 -1.5M620 145l1 -1.5M629.4 148.7l1 -1.6"/>
<path class="q" color="#1000ff" d="M491.9 102.2l7.7 2.6l7.8 2.6l7.8 2.2l7.9 2.2l4 1.1l1.3 -1.4l-4 -1.1l-7.9 -2.1l-7.8 -2.2l-7.8 -2.6l-7.6 -2.5z"/>
<path class="m" d="M491.9 102.2l1.4 -1.2M499.6 104.8l1.3 -1.3M507.4 107.4l1.3 -1.3M515.2 109.6l1.3 -1.3M523.1 111.8l1.3 -1.4M491.9 102.2l7.7 2.6l7.8 2.6l7.8 2.2l7.9 2.2l4 1.1"/>
<path class="q" color="#0f00ef" d="M527.1 112.9l4 -0.9l5.3 -1.1l1.2 -1.3l-5.2 1.1l-4 0.8z"/>
<path class="m" d="M531.1 112l1.3 -1.3M527.1 112.9l4 -0.9l5.3 -1.1"/>
<path class="q" color="#0e08a7" d="M536.4 110.9l2.4 -7.7l7.5 -24l2 -6.5l1.3 -1.3l-2 6.4l-7.5 24l-2.5 7.8z"/>
<path class="m" d="M538.8 103.2l1.3 -1.4M546.3 79.2l1.3 -1.4M536.4 110.9l2.4 -7.7l7.5 -24l2 -6.5"/>
<path class="q" color="#1000c7" d="M558.6 75.9l1.6 12.1l1.2 -1.3l-1.5 -12.1z"/>
<path class="m" d="M558.6 75.9l1.6 12.1"/>
<path class="q" color="#1000d7" d="M560.2 88l3.3 14l1.3 -1.3l-3.4 -14z"/>
<path class="m" d="M560.2 88l3.3 14"/>
<path class="q" color="#1000ee" d="M563.5 102l1.1 2.6l1.2 -1.3l-1 -2.6z"/>
<path class="m" d="M564.6 104.6l1.2 -1.3M563.5 102l1.1 2.6"/>
<path class="q" color="#1000ef" d="M564.6 104.6l3.7 9l1.2 -1.3l-3.7 -9z"/>
<path class="m" d="M564.6 104.6l1.2 -1.3M564.6 104.6l3.7 9"/>
<path class="q" color="#1000fa" d="M568.3 113.6l5.3 8.4l1.1 -1.4l-5.2 -8.3z"/>
<path class="m" d="M573.6 122l1.1 -1.4M568.3 113.6l5.3 8.4"/>
<path class="q" color="#1000fd" d="M573.6 122l2.3 3.1l1.2 -1.4l-2.4 -3.1z"/>
<path class="m" d="M573.6 122l1.1 -1.4M573.6 122l2.3 3.1"/>
<path class="q" color="#1000ff" d="M575.9 125.1l6.5 4.4l6.8 4.2l2.2 1l9 4l9 3.9l0.2 0.1l9.3 3.8l9.4 3.7l1.1 -1.5l-9.4 -3.7l-9.3 -3.8l-0.2 -0.1l-9 -3.9l-9 -4l-2.1 -0.9l-6.8 -4.3l-6.5 -4.3z"/>
<path class="m" d="M582.4 129.5l1.2 -1.5M591.4 134.7l1.1 -1.5M600.4 138.7l1.1 -1.5M609.6 142.7l1.1 -1.5M618.9 146.5l1.1 -1.5M628.3 150.2l1.1 -1.5M575.9 125.1l6.5 4.4l6.8 4.2l2.2 1l9 4l9 3.9l0.2 0.1l9.3 3.8l9.4 3.7"/>
<path class="q" color="#2200ff" d="M490.6 103.5l7.6 2.6l7.8 2.6l7.9 2.2l8 2.2l3.9 1.1l1.3 -1.3l-4 -1.1l-7.9 -2.2l-7.8 -2.2l-7.8 -2.6l-7.7 -2.6z"/>
<path class="m" d="M490.6 103.5l1.3 -1.3M498.2 106.1l1.4 -1.3M506 108.7l1.4 -1.3M513.9 110.9l1.3 -1.3M521.9 113.1l1.2 -1.3M491.9 102.2l7.7 2.6l7.8 2.6l7.8 2.2l7.9 2.2l4 1.1"/>
<path class="q" color="#2000ef" d="M525.8 114.2l4 -0.8l5.3 -1.1l1.3 -1.4l-5.3 1.1l-4 0.9z"/>
<path class="m" d="M529.8 113.4l1.3 -1.4M527.1 112.9l4 -0.9l5.3 -1.1"/>
<path class="q" color="#1d08a7" d="M535.1 112.3l2.4 -7.8l7.5 -24l2 -6.5l1.3 -1.3l-2 6.5l-7.5 24l-2.4 7.7z"/>
<path class="m" d="M537.5 104.5l1.3 -1.3M545 80.5l1.3 -1.3M536.4 110.9l2.4 -7.7l7.5 -24l2 -6.5"/>
<path class="q" color="#2200c7" d="M557.3 77.2l1.6 12.1l1.3 -1.3l-1.6 -12.1z"/>
<path class="m" d="M558.6 75.9l1.6 12.1"/>
<path class="q" color="#2200d7" d="M558.9 89.3l3.4 14.1l1.2 -1.4l-3.3 -14z"/>
<path class="m" d="M560.2 88l3.3 14"/>
<path class="q" color="#2200ee" d="M562.3 103.4l1 2.6l1.3 -1.4l-1.1 -2.6z"/>
<path class="m" d="M563.3 106l1.3 -1.4M563.5 102l1.1 2.6"/>
<path class="q" color="#2200ef" d="M563.3 106l3.8 9l1.2 -1.4l-3.7 -9z"/>
<path class="m" d="M563.3 106l1.3 -1.4M564.6 104.6l3.7 9"/>
<path class="q" color="#2200fa" d="M567.1 115l5.3 8.4l1.2 -1.4l-5.3 -8.4z"/>
<path class="m" d="M572.4 123.4l1.2 -1.4M568.3 113.6l5.3 8.4"/>
<path class="q" color="#2200fd" d="M572.4 123.4l2.3 3.2l1.2 -1.5l-2.3 -3.1z"/>
<path class="m" d="M572.4 123.4l1.2 -1.4M573.6 122l2.3 3.1"/>
<path class="q" color="#2200ff" d="M574.7 126.6l6.6 4.3l6.8 4.3l2.1 1l9.1 4l9 3.9l0.2 0.1l9.3 3.9l9.5 3.7l1 -1.6l-9.4 -3.7l-9.3 -3.8l-0.2 -0.1l-9 -3.9l-9 -4l-2.2 -1l-6.8 -4.2l-6.5 -4.4z"/>
<path class="m" d="M581.3 130.9l1.1 -1.4M590.2 136.2l1.2 -1.5M599.3 140.2l1.1 -1.5M608.5 144.2l1.1 -1.5M617.8 148.1l1.1 -1.6M627.3 151.8l1 -1.6M575.9 125.1l6.5 4.4l6.8 4.2l2.2 1l9 4l9 3.9l0.2 0.1l9.3 3.8l9.4 3.7"/>
<path class="q" color="#3d00ff" d="M489.2 104.7l7.7 2.6l7.8 2.7l7.9 2.2l7.9 2.2l4 1.1l1.3 -1.3l-3.9 -1.1l-8 -2.2l-7.9 -2.2l-7.8 -2.6l-7.6 -2.6z"/>
<path class="m" d="M489.2 104.7l1.4 -1.2M496.9 107.3l1.3 -1.2M504.7 110l1.3 -1.3M512.6 112.2l1.3 -1.3M520.5 114.4l1.4 -1.3"/>
<path class="q" color="#3900ef" d="M524.5 115.5l4 -0.8l5.3 -1l1.3 -1.4l-5.3 1.1l-4 0.8z"/>
<path class="m" d="M528.5 114.7l1.3 -1.3"/>
<path class="q" color="#3508a7" d="M533.8 113.7l2.4 -7.9l7.4 -24l2 -6.5l1.4 -1.3l-2 6.5l-7.5 24l-2.4 7.8z"/>
<path class="m" d="M536.2 105.8l1.3 -1.3M543.6 81.8l1.4 -1.3"/>
<path class="q" color="#3d00c7" d="M556 78.6l1.6 12.1l1.3 -1.4l-1.6 -12.1z"/>
<path class="q" color="#3d00d7" d="M557.6 90.7l3.4 14.1l1.3 -1.4l-3.4 -14.1z"/>
<path class="q" color="#3d00ee" d="M561 104.8l1.1 2.6l1.2 -1.4l-1 -2.6z"/>
<path class="m" d="M562.1 107.4l1.2 -1.4"/>
<path class="q" color="#3d00ef" d="M562.1 107.4l3.7 9l1.3 -1.4l-3.8 -9z"/>
<path class="m" d="M562.1 107.4l1.2 -1.4"/>
<path class="q" color="#3d00fa" d="M565.8 116.4l5.3 8.4l1.3 -1.4l-5.3 -8.4z"/>
<path class="m" d="M571.1 124.8l1.3 -1.4"/>
<path class="q" color="#3d00fd" d="M571.1 124.8l2.4 3.2l1.2 -1.4l-2.3 -3.2z"/>
<path class="m" d="M571.1 124.8l1.3 -1.4"/>
<path class="q" color="#3d00ff" d="M573.5 128l6.6 4.4l6.8 4.3l2.2 1l9.1 4l9 4l0.2 0.1l9.3 3.8l9.5 3.8l1.1 -1.6l-9.5 -3.7l-9.3 -3.9l-0.2 -0.1l-9 -3.9l-9.1 -4l-2.1 -1l-6.8 -4.3l-6.6 -4.3z"/>
<path class="m" d="M580.1 132.4l1.2 -1.5M589.1 137.7l1.1 -1.5M598.2 141.7l1.1 -1.5M607.4 145.8l1.1 -1.6M616.7 149.6l1.1 -1.5M626.2 153.4l1.1 -1.6"/>
<path class="q" color="#5700ff" d="M487.8 106l7.7 2.6l7.8 2.7l7.9 2.2l8 2.3l4 1.1l1.3 -1.4l-4 -1.1l-7.9 -2.2l-7.9 -2.2l-7.8 -2.7l-7.7 -2.6z"/>
<path class="m" d="M487.8 106l1.4 -1.3M495.5 108.6l1.4 -1.3M503.3 111.3l1.4 -1.3M511.2 113.5l1.4 -1.3M519.2 115.8l1.3 -1.4"/>
<path class="q" color="#5200ef" d="M523.2 116.9l4 -0.8l5.3 -1.1l1.3 -1.3l-5.3 1l-4 0.8z"/>
<path class="m" d="M527.2 116.1l1.3 -1.4"/>
<path class="q" color="#4c08a7" d="M532.5 115l2.4 -7.8l7.4 -24.1l2 -6.5l1.3 -1.3l-2 6.5l-7.4 24l-2.4 7.9z"/>
<path class="m" d="M534.9 107.2l1.3 -1.4M542.3 83.1l1.3 -1.3"/>
<path class="q" color="#5700c7" d="M554.7 79.9l1.6 12.2l1.3 -1.4l-1.6 -12.1z"/>
<path class="q" color="#5700d7" d="M556.3 92.1l3.5 14.1l1.2 -1.4l-3.4 -14.1z"/>
<path class="q" color="#5700ee" d="M559.8 106.2l1 2.5l1.3 -1.3l-1.1 -2.6z"/>
<path class="m" d="M560.8 108.7l1.3 -1.3"/>
<path class="q" color="#5700ef" d="M560.8 108.7l3.8 9.1l1.2 -1.4l-3.7 -9z"/>
<path class="m" d="M560.8 108.7l1.3 -1.3"/>
<path class="q" color="#5700fa" d="M564.6 117.8l5.3 8.4l1.2 -1.4l-5.3 -8.4z"/>
<path class="m" d="M569.9 126.2l1.2 -1.4"/>
<path class="q" color="#5700fd" d="M569.9 126.2l2.4 3.3l1.2 -1.5l-2.4 -3.2z"/>
<path class="m" d="M569.9 126.2l1.2 -1.4"/>
<path class="q" color="#5700ff" d="M572.3 129.5l6.6 4.3l6.8 4.4l2.2 1l9.1 4l9.1 4l0.2 0.1l9.4 3.9l9.5 3.8l1 -1.6l-9.5 -3.8l-9.3 -3.8l-0.2 -0.1l-9 -4l-9.1 -4l-2.2 -1l-6.8 -4.3l-6.6 -4.4z"/>
<path class="m" d="M578.9 133.8l1.2 -1.4M587.9 139.2l1.2 -1.5M597 143.2l1.2 -1.5M606.3 147.3l1.1 -1.5M615.7 151.2l1 -1.6M625.2 155l1 -1.6"/>
<path class="q" color="#7200ff" d="M486.4 107.3l7.8 2.6l7.8 2.7l7.9 2.2l8 2.3l4 1.1l1.3 -1.3l-4 -1.1l-8 -2.3l-7.9 -2.2l-7.8 -2.7l-7.7 -2.6z"/>
<path class="m" d="M486.4 107.3l1.4 -1.3M494.2 109.9l1.3 -1.3M502 112.6l1.3 -1.3M509.9 114.8l1.3 -1.3M517.9 117.1l1.3 -1.3M486.4 107.3l7.8 2.6l7.8 2.7l7.9 2.2l8 2.3l4 1.1"/>
<path class="q" color="#6b00ef" d="M521.9 118.2l4 -0.8l5.3 -1l1.3 -1.4l-5.3 1.1l-4 0.8z"/>
<path class="m" d="M525.9 117.4l1.3 -1.3M521.9 118.2l4 -0.8l5.3 -1"/>
<path class="q" color="#6308a7" d="M531.2 116.4l2.4 -7.8l7.3 -24.1l2 -6.5l1.4 -1.4l-2 6.5l-7.4 24.1l-2.4 7.8z"/>
<path class="m" d="M533.6 108.6l1.3 -1.4M540.9 84.5l1.4 -1.4M531.2 116.4l2.4 -7.8l7.3 -24.1l2 -6.5"/>
<path class="q" color="#7200c7" d="M553.3 81.3l1.7 12.1l1.3 -1.3l-1.6 -12.2z"/>
<path class="m" d="M553.3 81.3l1.7 12.1"/>
<path class="q" color="#7200d7" d="M555 93.4l3.5 14.2l1.3 -1.4l-3.5 -14.1z"/>
<path class="m" d="M555 93.4l3.5 14.2"/>
<path class="q" color="#7200ee" d="M558.5 107.6l1 2.5l1.3 -1.4l-1 -2.5z"/>
<path class="m" d="M559.5 110.1l1.3 -1.4M558.5 107.6l1 2.5"/>
<path class="q" color="#7200ef" d="M559.5 110.1l3.8 9.1l1.3 -1.4l-3.8 -9.1z"/>
<path class="m" d="M559.5 110.1l1.3 -1.4M559.5 110.1l3.8 9.1"/>
<path class="q" color="#7200fa" d="M563.3 119.2l5.4 8.4l1.2 -1.4l-5.3 -8.4z"/>
<path class="m" d="M568.7 127.6l1.2 -1.4M563.3 119.2l5.4 8.4"/>
<path class="q" color="#7200fc" d="M568.7 127.6l2.4 3.3l1.2 -1.4l-2.4 -3.3z"/>
<path class="m" d="M568.7 127.6l1.2 -1.4M568.7 127.6l2.4 3.3"/>
<path class="q" color="#7200ff" d="M571.1 130.9l6.6 4.4l6.8 4.4l2.2 1l9.2 4.1l9 4l0.3 0.1l9.4 3.8l9.5 3.9l1.1 -1.6l-9.5 -3.8l-9.4 -3.9l-0.2 -0.1l-9.1 -4l-9.1 -4l-2.2 -1l-6.8 -4.4l-6.6 -4.3z"/>
<path class="m" d="M577.7 135.3l1.2 -1.5M586.7 140.7l1.2 -1.5M595.9 144.8l1.1 -1.6M605.2 148.9l1.1 -1.6M614.6 152.7l1.1 -1.5M624.1 156.6l1.1 -1.6M571.1 130.9l6.6 4.4l6.8 4.4l2.2 1l9.2 4.1l9 4l0.3 0.1l9.4 3.8l9.5 3.9"/>
<path class="q" color="#8d00ff" d="M485 108.6l7.8 2.6l7.8 2.7l7.9 2.3l8.1 2.3l3.9 1.1l1.4 -1.4l-4 -1.1l-8 -2.3l-7.9 -2.2l-7.8 -2.7l-7.8 -2.6z"/>
<path class="m" d="M485 108.6l1.4 -1.3M492.8 111.2l1.4 -1.3M500.6 113.9l1.4 -1.3M508.5 116.2l1.4 -1.4M516.6 118.5l1.3 -1.4M486.4 107.3l7.8 2.6l7.8 2.7l7.9 2.2l8 2.3l4 1.1"/>
<path class="q" color="#8400ef" d="M520.5 119.6l4.1 -0.8l5.3 -1l1.3 -1.4l-5.3 1l-4 0.8z"/>
<path class="m" d="M524.6 118.8l1.3 -1.4M521.9 118.2l4 -0.8l5.3 -1"/>
<path class="q" color="#7b08a7" d="M529.9 117.8l2.3 -7.8l7.4 -24.1l2 -6.6l1.3 -1.3l-2 6.5l-7.3 24.1l-2.4 7.8z"/>
<path class="m" d="M532.2 110l1.4 -1.4M539.6 85.9l1.3 -1.4M531.2 116.4l2.4 -7.8l7.3 -24.1l2 -6.5"/>
<path class="q" color="#8d00c7" d="M552 82.7l1.6 12.1l1.4 -1.4l-1.7 -12.1z"/>
<path class="m" d="M553.3 81.3l1.7 12.1"/>
<path class="q" color="#8d00d7" d="M553.6 94.8l3.6 14.2l1.3 -1.4l-3.5 -14.2z"/>
<path class="m" d="M555 93.4l3.5 14.2"/>
<path class="q" color="#8d00ee" d="M557.2 109l1 2.5l1.3 -1.4l-1 -2.5z"/>
<path class="m" d="M558.2 111.5l1.3 -1.4M558.5 107.6l1 2.5"/>
<path class="q" color="#8d00ef" d="M558.2 111.5l3.9 9.2l1.2 -1.5l-3.8 -9.1z"/>
<path class="m" d="M558.2 111.5l1.3 -1.4M559.5 110.1l3.8 9.1"/>
<path class="q" color="#8d00fa" d="M562.1 120.7l5.4 8.3l1.2 -1.4l-5.4 -8.4z"/>
<path class="m" d="M567.5 129l1.2 -1.4M563.3 119.2l5.4 8.4"/>
<path class="q" color="#8d00fc" d="M567.5 129l2.4 3.4l1.2 -1.5l-2.4 -3.3z"/>
<path class="m" d="M567.5 129l1.2 -1.4M568.7 127.6l2.4 3.3"/>
<path class="q" color="#8d00ff" d="M569.9 132.4l6.6 4.4l6.9 4.4l2.1 1l9.2 4.1l9.1 4l0.2 0.1l9.5 3.9l9.5 3.9l1.1 -1.6l-9.5 -3.9l-9.4 -3.8l-0.3 -0.1l-9 -4l-9.2 -4.1l-2.2 -1l-6.8 -4.4l-6.6 -4.4z"/>
<path class="m" d="M576.5 136.8l1.2 -1.5M585.5 142.2l1.2 -1.5M594.7 146.3l1.2 -1.5M604 150.4l1.2 -1.5M613.5 154.3l1.1 -1.6M623 158.2l1.1 -1.6M571.1 130.9l6.6 4.4l6.8 4.4l2.2 1l9.2 4.1l9 4l0.3 0.1l9.4 3.8l9.5 3.9"/>
<path class="q" color="#a800ff" d="M483.6 109.9l7.8 2.7l7.9 2.7l7.9 2.2l8 2.3l4 1.2l1.3 -1.4l-3.9 -1.1l-8.1 -2.3l-7.9 -2.3l-7.8 -2.7l-7.8 -2.6z"/>
<path class="m" d="M483.6 109.9l1.4 -1.3M491.4 112.6l1.4 -1.4M499.3 115.3l1.3 -1.4M507.2 117.5l1.3 -1.3M515.2 119.8l1.4 -1.3"/>
<path class="q" color="#9d00ef" d="M519.2 121l4.1 -0.8l5.2 -1l1.4 -1.4l-5.3 1l-4.1 0.8z"/>
<path class="m" d="M523.3 120.2l1.3 -1.4"/>
<path class="q" color="#9208a7" d="M528.5 119.2l2.4 -7.9l7.3 -24.1l2 -6.5l1.4 -1.4l-2 6.6l-7.4 24.1l-2.3 7.8z"/>
<path class="m" d="M530.9 111.3l1.3 -1.3M538.2 87.2l1.4 -1.3"/>
<path class="q" color="#a800c7" d="M550.6 84.1l1.7 12.1l1.3 -1.4l-1.6 -12.1z"/>
<path class="q" color="#a800d7" d="M552.3 96.2l3.6 14.2l1.3 -1.4l-3.6 -14.2z"/>
<path class="q" color="#a800ee" d="M555.9 110.4l1.1 2.6l1.2 -1.5l-1 -2.5z"/>
<path class="m" d="M557 113l1.2 -1.5"/>
<path class="q" color="#a800ef" d="M557 113l3.8 9.1l1.3 -1.4l-3.9 -9.2z"/>
<path class="m" d="M557 113l1.2 -1.5"/>
<path class="q" color="#a800fa" d="M560.8 122.1l5.4 8.4l1.3 -1.5l-5.4 -8.3z"/>
<path class="m" d="M566.2 130.5l1.3 -1.5"/>
<path class="q" color="#a800fc" d="M566.2 130.5l2.4 3.4l1.3 -1.5l-2.4 -3.4z"/>
<path class="m" d="M566.2 130.5l1.3 -1.5"/>
<path class="q" color="#a800ff" d="M568.6 133.9l6.7 4.4l6.9 4.4l2.2 1l9.2 4.1l9.1 4.1l0.2 0.1l9.4 3.9l9.6 3.9l1.1 -1.6l-9.5 -3.9l-9.5 -3.9l-0.2 -0.1l-9.1 -4l-9.2 -4.1l-2.1 -1l-6.9 -4.4l-6.6 -4.4z"/>
<path class="m" d="M575.3 138.3l1.2 -1.5M584.4 143.7l1.1 -1.5M593.6 147.8l1.1 -1.5M602.9 152l1.1 -1.6M612.3 155.9l1.2 -1.6M621.9 159.8l1.1 -1.6"/>
<path class="q" color="#c200ff" d="M482.2 111.2l7.8 2.7l7.9 2.7l7.9 2.3l8.1 2.3l4 1.2l1.3 -1.4l-4 -1.2l-8 -2.3l-7.9 -2.2l-7.9 -2.7l-7.8 -2.7z"/>
<path class="m" d="M482.2 111.2l1.4 -1.3M490 113.9l1.4 -1.3M497.9 116.6l1.4 -1.3M505.8 118.9l1.4 -1.4M513.9 121.2l1.3 -1.4"/>
<path class="q" color="#b600ef" d="M517.9 122.4l4 -0.8l5.3 -1l1.3 -1.4l-5.2 1l-4.1 0.8z"/>
<path class="m" d="M521.9 121.6l1.4 -1.4"/>
<path class="q" color="#aa08a7" d="M527.2 120.6l2.4 -7.9l7.2 -24.1l2 -6.5l1.4 -1.4l-2 6.5l-7.3 24.1l-2.4 7.9z"/>
<path class="m" d="M529.6 112.7l1.3 -1.4M536.8 88.6l1.4 -1.4"/>
<path class="q" color="#c200c7" d="M549.3 85.4l1.7 12.2l1.3 -1.4l-1.7 -12.1z"/>
<path class="q" color="#c200d7" d="M551 97.6l3.6 14.2l1.3 -1.4l-3.6 -14.2z"/>
<path class="q" color="#c200ee" d="M554.6 111.8l1.1 2.6l1.3 -1.4l-1.1 -2.6z"/>
<path class="m" d="M555.7 114.4l1.3 -1.4"/>
<path class="q" color="#c200ef" d="M555.7 114.4l3.8 9.1l1.3 -1.4l-3.8 -9.1z"/>
<path class="m" d="M555.7 114.4l1.3 -1.4"/>
<path class="q" color="#c200fa" d="M559.5 123.5l5.5 8.4l1.2 -1.4l-5.4 -8.4z"/>
<path class="m" d="M565 131.9l1.2 -1.4"/>
<path class="q" color="#c200fc" d="M565 131.9l2.4 3.4l1.2 -1.4l-2.4 -3.4z"/>
<path class="m" d="M565 131.9l1.2 -1.4"/>
<path class="q" color="#c200ff" d="M567.4 135.3l6.7 4.5l6.9 4.4l2.2 1l9.2 4.2l9.1 4.1l0.2 0.1l9.5 3.9l9.6 4l1.1 -1.7l-9.6 -3.9l-9.4 -3.9l-0.2 -0.1l-9.1 -4.1l-9.2 -4.1l-2.2 -1l-6.9 -4.4l-6.7 -4.4z"/>
<path class="m" d="M574.1 139.8l1.2 -1.5M583.2 145.2l1.2 -1.5M592.4 149.4l1.2 -1.6M601.7 153.6l1.2 -1.6M611.2 157.5l1.1 -1.6M620.8 161.5l1.1 -1.7"/>
<path class="q" color="#dd00ff" d="M480.8 112.5l7.8 2.7l7.9 2.8l7.9 2.3l8.1 2.3l4 1.2l1.4 -1.4l-4 -1.2l-8.1 -2.3l-7.9 -2.3l-7.9 -2.7l-7.8 -2.7z"/>
<path class="m" d="M480.8 112.5l1.4 -1.3M488.6 115.2l1.4 -1.3M496.5 118l1.4 -1.4M504.4 120.3l1.4 -1.4M512.5 122.6l1.4 -1.4M480.8 112.5l7.8 2.7l7.9 2.8l7.9 2.3l8.1 2.3l4 1.2"/>
<path class="q" color="#cf00ef" d="M516.5 123.8l4.1 -0.8l5.3 -1l1.3 -1.4l-5.3 1l-4 0.8z"/>
<path class="m" d="M520.6 123l1.3 -1.4M516.5 123.8l4.1 -0.8l5.3 -1"/>
<path class="q" color="#c108a7" d="M525.9 122l2.3 -7.9l7.2 -24.1l2 -6.6l1.4 -1.3l-2 6.5l-7.2 24.1l-2.4 7.9z"/>
<path class="m" d="M528.2 114.1l1.4 -1.4M535.4 90l1.4 -1.4M525.9 122l2.3 -7.9l7.2 -24.1l2 -6.6"/>
<path class="q" color="#dd00c7" d="M547.9 86.9l1.7 12.1l1.4 -1.4l-1.7 -12.2z"/>
<path class="m" d="M547.9 86.9l1.7 12.1"/>
<path class="q" color="#dd00d7" d="M549.6 99l3.7 14.2l1.3 -1.4l-3.6 -14.2z"/>
<path class="m" d="M549.6 99l3.7 14.2"/>
<path class="q" color="#dd00ee" d="M553.3 113.2l1.1 2.6l1.3 -1.4l-1.1 -2.6z"/>
<path class="m" d="M554.4 115.8l1.3 -1.4M553.3 113.2l1.1 2.6"/>
<path class="q" color="#dd00ef" d="M554.4 115.8l3.8 9.2l1.3 -1.5l-3.8 -9.1z"/>
<path class="m" d="M554.4 115.8l1.3 -1.4M554.4 115.8l3.8 9.2"/>
<path class="q" color="#dd00fa" d="M558.2 125l5.5 8.4l1.3 -1.5l-5.5 -8.4z"/>
<path class="m" d="M563.7 133.4l1.3 -1.5M558.2 125l5.5 8.4"/>
<path class="q" color="#dd00fc" d="M563.7 133.4l2.4 3.4l1.3 -1.5l-2.4 -3.4z"/>
<path class="m" d="M563.7 133.4l1.3 -1.5M563.7 133.4l2.4 3.4"/>
<path class="q" color="#dd00ff" d="M566.1 136.8l6.7 4.5l7 4.5l2.2 1l9.2 4.2l9.2 4.1l0.2 0.1l9.5 4l9.6 3.9l1.1 -1.6l-9.6 -4l-9.5 -3.9l-0.2 -0.1l-9.1 -4.1l-9.2 -4.2l-2.2 -1l-6.9 -4.4l-6.7 -4.5z"/>
<path class="m" d="M572.8 141.3l1.3 -1.5M582 146.8l1.2 -1.6M591.2 151l1.2 -1.6M600.6 155.2l1.1 -1.6M610.1 159.2l1.1 -1.7M619.7 163.1l1.1 -1.6M566.1 136.8l6.7 4.5l7 4.5l2.2 1l9.2 4.2l9.2 4.1l0.2 0.1l9.5 4l9.6 3.9"/>
<path class="q" color="#ee00ff" d="M479.4 113.8l7.8 2.8l7.9 2.7l8 2.3l8.1 2.4l4 1.2l1.3 -1.4l-4 -1.2l-8.1 -2.3l-7.9 -2.3l-7.9 -2.8l-7.8 -2.7z"/>
<path class="m" d="M479.4 113.8l1.4 -1.3M487.2 116.6l1.4 -1.4M495.1 119.3l1.4 -1.3M503.1 121.6l1.3 -1.3M511.2 124l1.3 -1.4M480.8 112.5l7.8 2.7l7.9 2.8l7.9 2.3l8.1 2.3l4 1.2"/>
<path class="q" color="#e000ef" d="M515.2 125.2l4 -0.8l5.3 -1l1.4 -1.4l-5.3 1l-4.1 0.8z"/>
<path class="m" d="M519.2 124.4l1.4 -1.4M516.5 123.8l4.1 -0.8l5.3 -1"/>
<path class="q" color="#d008a7" d="M524.5 123.4l2.4 -7.8l7.1 -24.2l2 -6.6l1.4 -1.4l-2 6.6l-7.2 24.1l-2.3 7.9z"/>
<path class="m" d="M526.9 115.6l1.3 -1.5M534 91.4l1.4 -1.4M525.9 122l2.3 -7.9l7.2 -24.1l2 -6.6"/>
<path class="q" color="#ee00c7" d="M546.5 88.3l1.8 12.2l1.3 -1.5l-1.7 -12.1z"/>
<path class="m" d="M547.9 86.9l1.7 12.1"/>
<path class="q" color="#ee00d7" d="M548.3 100.5l3.6 14.2l1.4 -1.5l-3.7 -14.2z"/>
<path class="m" d="M549.6 99l3.7 14.2"/>
<path class="q" color="#ee00ee" d="M551.9 114.7l1.1 2.6l1.4 -1.5l-1.1 -2.6z"/>
<path class="m" d="M553 117.3l1.4 -1.5M553.3 113.2l1.1 2.6"/>
<path class="q" color="#ee00ef" d="M553 117.3l4 9.2l1.2 -1.5l-3.8 -9.2z"/>
<path class="m" d="M553 117.3l1.4 -1.5M554.4 115.8l3.8 9.2"/>
<path class="q" color="#ee00fa" d="M557 126.5l5.4 8.4l1.3 -1.5l-5.5 -8.4z"/>
<path class="m" d="M562.4 134.9l1.3 -1.5M558.2 125l5.5 8.4"/>
<path class="q" color="#ee00fc" d="M562.4 134.9l2.5 3.5l1.2 -1.6l-2.4 -3.4z"/>
<path class="m" d="M562.4 134.9l1.3 -1.5M563.7 133.4l2.4 3.4"/>
<path class="q" color="#ee00ff" d="M564.9 138.4l6.7 4.4l6.9 4.5l2.3 1l9.2 4.3l9.2 4.1l0.2 0.1l9.6 4l9.6 4l1.1 -1.7l-9.6 -3.9l-9.5 -4l-0.2 -0.1l-9.2 -4.1l-9.2 -4.2l-2.2 -1l-7 -4.5l-6.7 -4.5z"/>
<path class="m" d="M571.6 142.8l1.2 -1.5M580.8 148.3l1.2 -1.5M590 152.6l1.2 -1.6M599.4 156.8l1.2 -1.6M609 160.8l1.1 -1.6M618.6 164.8l1.1 -1.7M566.1 136.8l6.7 4.5l7 4.5l2.2 1l9.2 4.2l9.2 4.1l0.2 0.1l9.5 4l9.6 3.9"/>
<path class="q" color="#f600ff" d="M478 115.2l7.8 2.7l7.9 2.8l8 2.3l8.1 2.4l4 1.2l1.4 -1.4l-4 -1.2l-8.1 -2.4l-8 -2.3l-7.9 -2.7l-7.8 -2.8z"/>
<path class="m" d="M478 115.2l1.4 -1.4M485.8 117.9l1.4 -1.3M493.7 120.7l1.4 -1.4M501.7 123l1.4 -1.4M509.8 125.4l1.4 -1.4"/>
<path class="q" color="#e700ef" d="M513.8 126.6l4.1 -0.8l5.3 -1l1.3 -1.4l-5.3 1l-4 0.8z"/>
<path class="m" d="M517.9 125.8l1.3 -1.4"/>
<path class="q" color="#d708a7" d="M523.2 124.8l2.3 -7.8l7.1 -24.2l2 -6.6l1.4 -1.4l-2 6.6l-7.1 24.2l-2.4 7.8z"/>
<path class="m" d="M525.5 117l1.4 -1.4M532.6 92.8l1.4 -1.4"/>
<path class="q" color="#f600c7" d="M545.1 89.7l1.8 12.2l1.4 -1.4l-1.8 -12.2z"/>
<path class="q" color="#f600d7" d="M546.9 101.9l3.7 14.2l1.3 -1.4l-3.6 -14.2z"/>
<path class="q" color="#f600ee" d="M550.6 116.1l1.1 2.6l1.3 -1.4l-1.1 -2.6z"/>
<path class="m" d="M551.7 118.7l1.3 -1.4"/>
<path class="q" color="#f600ef" d="M551.7 118.7l4 9.2l1.3 -1.4l-4 -9.2z"/>
<path class="m" d="M551.7 118.7l1.3 -1.4"/>
<path class="q" color="#f600fa" d="M555.7 127.9l5.5 8.4l1.2 -1.4l-5.4 -8.4z"/>
<path class="m" d="M561.2 136.3l1.2 -1.4"/>
<path class="q" color="#f600fc" d="M561.2 136.3l2.4 3.6l1.3 -1.5l-2.5 -3.5z"/>
<path class="m" d="M561.2 136.3l1.2 -1.4"/>
<path class="q" color="#f600ff" d="M563.6 139.9l6.7 4.4l7 4.6l2.2 1l9.3 4.2l9.2 4.2l0.3 0.1l9.5 4l9.7 4.1l1.1 -1.7l-9.6 -4l-9.6 -4l-0.2 -0.1l-9.2 -4.1l-9.2 -4.3l-2.3 -1l-6.9 -4.5l-6.7 -4.4z"/>
<path class="m" d="M570.3 144.3l1.3 -1.5M579.5 149.9l1.3 -1.6M588.8 154.1l1.2 -1.5M598.3 158.4l1.1 -1.6M607.8 162.4l1.2 -1.6M617.5 166.5l1.1 -1.7"/>
<path class="q" color="#fe00ff" d="M476.5 116.5l7.8 2.8l8 2.8l8 2.3l8.1 2.4l4 1.2l1.4 -1.4l-4 -1.2l-8.1 -2.4l-8 -2.3l-7.9 -2.8l-7.8 -2.7z"/>
<path class="m" d="M476.5 116.5l1.5 -1.3M484.3 119.3l1.5 -1.4M492.3 122.1l1.4 -1.4M500.3 124.4l1.4 -1.4M508.4 126.8l1.4 -1.4"/>
<path class="q" color="#ee00ef" d="M512.4 128l4.1 -0.7l5.3 -1l1.4 -1.5l-5.3 1l-4.1 0.8z"/>
<path class="m" d="M516.5 127.3l1.4 -1.5"/>
<path class="q" color="#dd08a7" d="M521.8 126.3l2.3 -7.9l7.1 -24.2l2 -6.6l1.4 -1.4l-2 6.6l-7.1 24.2l-2.3 7.8z"/>
<path class="m" d="M524.1 118.4l1.4 -1.4M531.2 94.2l1.4 -1.4"/>
<path class="q" color="#fe00c7" d="M543.7 91.1l1.8 12.2l1.4 -1.4l-1.8 -12.2z"/>
<path class="q" color="#fe00d7" d="M545.5 103.3l3.8 14.3l1.3 -1.5l-3.7 -14.2z"/>
<path class="q" color="#fe00ee" d="M549.3 117.6l1.1 2.6l1.3 -1.5l-1.1 -2.6z"/>
<path class="m" d="M550.4 120.2l1.3 -1.5"/>
<path class="q" color="#fe00ef" d="M550.4 120.2l3.9 9.2l1.4 -1.5l-4 -9.2z"/>
<path class="m" d="M550.4 120.2l1.3 -1.5"/>
<path class="q" color="#fe00fa" d="M554.3 129.4l5.6 8.4l1.3 -1.5l-5.5 -8.4z"/>
<path class="m" d="M559.9 137.8l1.3 -1.5"/>
<path class="q" color="#fe00fb" d="M559.9 137.8l2.4 3.6l1.3 -1.5l-2.4 -3.6z"/>
<path class="m" d="M559.9 137.8l1.3 -1.5"/>
<path class="q" color="#fe00ff" d="M562.3 141.4l6.8 4.5l7 4.6l2.2 1l9.3 4.2l9.3 4.2l0.2 0.1l9.6 4.1l9.7 4l1.1 -1.6l-9.7 -4.1l-9.5 -4l-0.3 -0.1l-9.2 -4.2l-9.3 -4.2l-2.2 -1l-7 -4.6l-6.7 -4.4z"/>
<path class="m" d="M569.1 145.9l1.2 -1.6M578.3 151.5l1.2 -1.6M587.6 155.7l1.2 -1.6M597.1 160l1.2 -1.6M606.7 164.1l1.1 -1.7M616.4 168.1l1.1 -1.6"/>
<path class="q" color="#ff00f9" d="M475.1 117.9l7.8 2.7l8 2.8l8 2.4l8.1 2.5l4 1.1l1.4 -1.4l-4 -1.2l-8.1 -2.4l-8 -2.3l-8 -2.8l-7.8 -2.8z"/>
<path class="m" d="M475.1 117.9l1.4 -1.4M482.9 120.6l1.4 -1.3M490.9 123.4l1.4 -1.3M498.9 125.8l1.4 -1.4M507 128.3l1.4 -1.5M475.1 117.9l7.8 2.7l8 2.8l8 2.4l8.1 2.5l4 1.1"/>
<path class="q" color="#ef00e9" d="M511 129.4l4.1 -0.7l5.3 -1l1.4 -1.4l-5.3 1l-4.1 0.7z"/>
<path class="m" d="M515.1 128.7l1.4 -1.4M511 129.4l4.1 -0.7l5.3 -1"/>
<path class="q" color="#de08a3" d="M520.4 127.7l2.3 -7.8l7.1 -24.3l1.9 -6.5l1.5 -1.5l-2 6.6l-7.1 24.2l-2.3 7.9z"/>
<path class="m" d="M522.7 119.9l1.4 -1.5M529.8 95.6l1.4 -1.4M520.4 127.7l2.3 -7.8l7.1 -24.3l1.9 -6.5"/>
<path class="q" color="#ff00c2" d="M542.3 92.6l1.9 12.2l1.3 -1.5l-1.8 -12.2z"/>
<path class="m" d="M542.3 92.6l1.9 12.2"/>
<path class="q" color="#ff00d2" d="M544.2 104.8l3.7 14.2l1.4 -1.4l-3.8 -14.3z"/>
<path class="m" d="M544.2 104.8l3.7 14.2"/>
<path class="q" color="#ff00e8" d="M547.9 119l1.1 2.6l1.4 -1.4l-1.1 -2.6z"/>
<path class="m" d="M549 121.6l1.4 -1.4M547.9 119l1.1 2.6"/>
<path class="q" color="#ff00e9" d="M549 121.6l4 9.3l1.3 -1.5l-3.9 -9.2z"/>
<path class="m" d="M549 121.6l1.4 -1.4M549 121.6l4 9.3"/>
<path class="q" color="#ff00f4" d="M553 130.9l5.6 8.4l1.3 -1.5l-5.6 -8.4z"/>
<path class="m" d="M558.6 139.3l1.3 -1.5M553 130.9l5.6 8.4"/>
<path class="q" color="#ff00f5" d="M558.6 139.3l2.5 3.6l1.2 -1.5l-2.4 -3.6z"/>
<path class="m" d="M558.6 139.3l1.3 -1.5M558.6 139.3l2.5 3.6"/>
<path class="q" color="#ff00f9" d="M561.1 142.9l6.7 4.5l7 4.7l2.3 1l9.3 4.3l9.3 4.2l0.2 0.1l9.6 4l9.7 4.1l1.2 -1.7l-9.7 -4l-9.6 -4.1l-0.2 -0.1l-9.3 -4.2l-9.3 -4.2l-2.2 -1l-7 -4.6l-6.8 -4.5z"/>
<path class="m" d="M567.8 147.4l1.3 -1.5M577.1 153.1l1.2 -1.6M586.4 157.4l1.2 -1.7M595.9 161.7l1.2 -1.7M605.5 165.7l1.2 -1.6M615.2 169.8l1.2 -1.7M561.1 142.9l6.7 4.5l7 4.7l2.3 1l9.3 4.3l9.3 4.2l0.2 0.1l9.6 4l9.7 4.1"/>
<path class="q" color="#ff00f1" d="M473.6 119.2l7.9 2.8l7.9 2.8l8 2.4l8.2 2.5l4 1.2l1.4 -1.5l-4 -1.1l-8.1 -2.5l-8 -2.4l-8 -2.8l-7.8 -2.7z"/>
<path class="m" d="M473.6 119.2l1.5 -1.3M481.5 122l1.4 -1.4M489.4 124.8l1.5 -1.4M497.4 127.2l1.5 -1.4M505.6 129.7l1.4 -1.4M475.1 117.9l7.8 2.7l8 2.8l8 2.4l8.1 2.5l4 1.1"/>
<path class="q" color="#ef00e2" d="M509.6 130.9l4.1 -0.8l5.3 -0.9l1.4 -1.5l-5.3 1l-4.1 0.7z"/>
<path class="m" d="M513.7 130.1l1.4 -1.4M511 129.4l4.1 -0.7l5.3 -1"/>
<path class="q" color="#de089e" d="M519 129.2l2.3 -7.9l7.1 -24.2l1.9 -6.6l1.4 -1.4l-1.9 6.5l-7.1 24.3l-2.3 7.8z"/>
<path class="m" d="M521.3 121.3l1.4 -1.4M528.4 97.1l1.4 -1.5M520.4 127.7l2.3 -7.8l7.1 -24.3l1.9 -6.5"/>
<path class="q" color="#ff00bc" d="M540.9 94l1.9 12.3l1.4 -1.5l-1.9 -12.2z"/>
<path class="m" d="M542.3 92.6l1.9 12.2"/>
<path class="q" color="#ff00cb" d="M542.8 106.3l3.8 14.2l1.3 -1.5l-3.7 -14.2z"/>
<path class="m" d="M544.2 104.8l3.7 14.2"/>
<path class="q" color="#ff00e1" d="M546.6 120.5l1.1 2.6l4 9.3l1.3 -1.5l-4 -9.3l-1.1 -2.6z"/>
<path class="m" d="M547.7 123.1l1.3 -1.5M547.9 119l1.1 2.6l4 9.3"/>
<path class="q" color="#ff00ed" d="M551.7 132.4l5.6 8.4l2.5 3.7l1.3 -1.6l-2.5 -3.6l-5.6 -8.4z"/>
<path class="m" d="M557.3 140.8l1.3 -1.5M553 130.9l5.6 8.4l2.5 3.6"/>
<path class="q" color="#ff00f1" d="M559.8 144.5l6.7 4.5l7.1 4.6l2.2 1.1l9.4 4.3l9.3 4.2l0.2 0.1l9.6 4.1l9.8 4.1l1.1 -1.7l-9.7 -4.1l-9.6 -4l-0.2 -0.1l-9.3 -4.2l-9.3 -4.3l-2.3 -1l-7 -4.7l-6.7 -4.5z"/>
<path class="m" d="M566.5 149l1.3 -1.6M575.8 154.7l1.3 -1.6M585.2 159l1.2 -1.6M594.7 163.3l1.2 -1.6M604.3 167.4l1.2 -1.7M614.1 171.5l1.1 -1.7M561.1 142.9l6.7 4.5l7 4.7l2.3 1l9.3 4.3l9.3 4.2l0.2 0.1l9.6 4l9.7 4.1"/>
<path class="q" color="#ff00e9" d="M472.1 120.6l7.9 2.8l8 2.8l8 2.5l8.2 2.4l4 1.2l1.4 -1.4l-4 -1.2l-8.2 -2.5l-8 -2.4l-7.9 -2.8l-7.9 -2.8z"/>
<path class="m" d="M472.1 120.6l1.5 -1.4M480 123.4l1.5 -1.4M488 126.2l1.4 -1.4M496 128.7l1.4 -1.5M504.2 131.1l1.4 -1.4"/>
<path class="q" color="#ef00db" d="M508.2 132.3l4.1 -0.7l5.3 -0.9l1.4 -1.5l-5.3 0.9l-4.1 0.8z"/>
<path class="m" d="M512.3 131.6l1.4 -1.5"/>
<path class="q" color="#de0899" d="M517.6 130.7l2.3 -7.9l7 -24.3l1.9 -6.6l1.5 -1.4l-1.9 6.6l-7.1 24.2l-2.3 7.9z"/>
<path class="m" d="M519.9 122.8l1.4 -1.5M526.9 98.5l1.5 -1.4"/>
<path class="q" color="#ff00b6" d="M539.5 95.5l1.9 12.2l1.4 -1.4l-1.9 -12.3z"/>
<path class="q" color="#ff00c5" d="M541.4 107.7l3.8 14.3l1.4 -1.5l-3.8 -14.2z"/>
<path class="q" color="#ff00da" d="M545.2 122l1.1 2.6l4.1 9.3l1.3 -1.5l-4 -9.3l-1.1 -2.6z"/>
<path class="m" d="M546.3 124.6l1.4 -1.5"/>
<path class="q" color="#ff00e5" d="M550.4 133.9l5.6 8.5l1.3 -1.6l-5.6 -8.4z"/>
<path class="m" d="M556 142.4l1.3 -1.6"/>
<path class="q" color="#ff00e6" d="M556 142.4l2.5 3.6l1.3 -1.5l-2.5 -3.7z"/>
<path class="m" d="M556 142.4l1.3 -1.6"/>
<path class="q" color="#ff00e9" d="M558.5 146l6.8 4.6l7 4.7l2.3 1l9.4 4.3l9.3 4.3l0.2 0.1l9.7 4.1l9.7 4.2l1.2 -1.8l-9.8 -4.1l-9.6 -4.1l-0.2 -0.1l-9.3 -4.2l-9.4 -4.3l-2.2 -1.1l-7.1 -4.6l-6.7 -4.5z"/>
<path class="m" d="M565.3 150.6l1.2 -1.6M574.6 156.3l1.2 -1.6M584 160.6l1.2 -1.6M593.5 165l1.2 -1.7M603.2 169.1l1.1 -1.7M612.9 173.3l1.2 -1.8"/>
<path class="q" color="#ff00e2" d="M470.6 122l7.9 2.8l8 2.9l8.1 2.4l8.2 2.5l4 1.2l1.4 -1.5l-4 -1.2l-8.2 -2.4l-8 -2.5l-8 -2.8l-7.9 -2.8z"/>
<path class="m" d="M470.6 122l1.5 -1.4M478.5 124.8l1.5 -1.4M486.5 127.7l1.5 -1.5M494.6 130.1l1.4 -1.4M502.8 132.6l1.4 -1.5"/>
<path class="q" color="#ef00d4" d="M506.8 133.8l4.1 -0.7l5.3 -1l1.4 -1.4l-5.3 0.9l-4.1 0.7z"/>
<path class="m" d="M510.9 133.1l1.4 -1.5"/>
<path class="q" color="#de0894" d="M516.2 132.1l2.3 -7.8l7 -24.3l1.8 -6.6l1.5 -1.5l-1.9 6.6l-7 24.3l-2.3 7.9z"/>
<path class="m" d="M518.5 124.3l1.4 -1.5M525.5 100l1.4 -1.5"/>
<path class="q" color="#ff00b0" d="M538 97l1.9 12.2l1.5 -1.5l-1.9 -12.2z"/>
<path class="q" color="#ff00be" d="M539.9 109.2l3.9 14.3l1.4 -1.5l-3.8 -14.3z"/>
<path class="q" color="#ff00d3" d="M543.8 123.5l1.1 2.6l4.1 9.4l1.4 -1.6l-4.1 -9.3l-1.1 -2.6z"/>
<path class="m" d="M544.9 126.1l1.4 -1.5"/>
<path class="q" color="#ff00de" d="M549 135.5l5.6 8.4l2.5 3.7l1.4 -1.6l-2.5 -3.6l-5.6 -8.5z"/>
<path class="m" d="M554.6 143.9l1.4 -1.5"/>
<path class="q" color="#ff00e2" d="M557.1 147.6l6.9 4.6l7.1 4.7l2.2 1l9.4 4.4l9.4 4.3l0.2 0.1l9.7 4.1l9.8 4.2l1.1 -1.7l-9.7 -4.2l-9.7 -4.1l-0.2 -0.1l-9.3 -4.3l-9.4 -4.3l-2.3 -1l-7 -4.7l-6.8 -4.6z"/>
<path class="m" d="M564 152.2l1.3 -1.6M573.3 157.9l1.3 -1.6M582.7 162.3l1.3 -1.7M592.3 166.7l1.2 -1.7M602 170.8l1.2 -1.7M611.8 175l1.1 -1.7"/>
<path class="q" color="#ff00da" d="M469.2 123.3l7.9 2.9l8 2.9l8 2.4l8.2 2.5l4.1 1.3l1.4 -1.5l-4 -1.2l-8.2 -2.5l-8.1 -2.4l-8 -2.9l-7.9 -2.8z"/>
<path class="m" d="M469.2 123.3l1.4 -1.3M477.1 126.2l1.4 -1.4M485.1 129.1l1.4 -1.4M493.1 131.5l1.5 -1.4M501.3 134l1.5 -1.4M469.2 123.3l7.9 2.9l8 2.9l8 2.4l8.2 2.5l4.1 1.3"/>
<path class="q" color="#ef00cc" d="M505.4 135.3l4.1 -0.7l5.3 -1l1.4 -1.5l-5.3 1l-4.1 0.7z"/>
<path class="m" d="M509.5 134.6l1.4 -1.5M505.4 135.3l4.1 -0.7l5.3 -1"/>
<path class="q" color="#de088f" d="M514.8 133.6l2.3 -7.9l6.9 -24.3l1.9 -6.6l1.4 -1.4l-1.8 6.6l-7 24.3l-2.3 7.8z"/>
<path class="m" d="M517.1 125.7l1.4 -1.4M524 101.4l1.5 -1.4M514.8 133.6l2.3 -7.9l6.9 -24.3l1.9 -6.6"/>
<path class="q" color="#ff00aa" d="M536.6 98.4l1.9 12.3l1.4 -1.5l-1.9 -12.2z"/>
<path class="m" d="M536.6 98.4l1.9 12.3"/>
<path class="q" color="#ff00b8" d="M538.5 110.7l3.9 14.3l1.4 -1.5l-3.9 -14.3z"/>
<path class="m" d="M538.5 110.7l3.9 14.3"/>
<path class="q" color="#ff00cc" d="M542.4 125l1.2 2.6l4 9.4l1.4 -1.5l-4.1 -9.4l-1.1 -2.6z"/>
<path class="m" d="M543.6 127.6l1.3 -1.5M542.4 125l1.2 2.6l4 9.4"/>
<path class="q" color="#ff00d6" d="M547.6 137l5.7 8.5l2.5 3.7l1.3 -1.6l-2.5 -3.7l-5.6 -8.4z"/>
<path class="m" d="M553.3 145.5l1.3 -1.6M547.6 137l5.7 8.5l2.5 3.7"/>
<path class="q" color="#ff00da" d="M555.8 149.2l6.9 4.6l7.1 4.7l2.2 1l9.5 4.4l9.3 4.4l0.3 0.1l9.7 4.1l9.8 4.2l1.2 -1.7l-9.8 -4.2l-9.7 -4.1l-0.2 -0.1l-9.4 -4.3l-9.4 -4.4l-2.2 -1l-7.1 -4.7l-6.9 -4.6z"/>
<path class="m" d="M562.7 153.8l1.3 -1.6M572 159.5l1.3 -1.6M581.5 163.9l1.2 -1.6M591.1 168.4l1.2 -1.7M600.8 172.5l1.2 -1.7M610.6 176.7l1.2 -1.7M555.8 149.2l6.9 4.6l7.1 4.7l2.2 1l9.5 4.4l9.3 4.4l0.3 0.1l9.7 4.1l9.8 4.2"/>
<path d="M525.9 94.8l10.7 3.6l75.6 -77.3l-9.2 -2.4z" fill="#d2d2d2" stroke="#333" stroke-width="0.55" stroke-linejoin="round"/>
</g>
<path d="M612.2 181.5L615.3 126.6" stroke="#9a9a9a" stroke-width="0.50" fill="none" stroke-opacity="0.75"/>
<path d="M615.3 126.6L456.9 72.9" stroke="#9a9a9a" stroke-width="0.50" fill="none" stroke-opacity="0.75"/>
<path d="M615.3 126.6L681.7 36.3" stroke="#9a9a9a" stroke-width="0.50" fill="none" stroke-opacity="0.75"/>
<path d="M467.4 126.1l1.6 -1.5M473.7 128.5l0.9 -0.8M480.1 130.9l0.9 -0.8M486.6 133.4l0.9 -0.8M493.1 135.9l0.8 -0.9M499.8 138.5l1.5 -1.6M506.5 141.0l0.8 -0.9M513.2 143.6l0.8 -0.9M520.1 146.2l0.8 -0.9M527.0 148.9l0.8 -0.9M534.1 151.6l1.4 -1.7M541.2 154.3l0.8 -0.9M548.3 157.1l0.8 -0.9M555.6 159.8l0.8 -0.9M563.0 162.7l0.7 -0.9M570.4 165.5l1.3 -1.7M578.0 168.4l0.7 -1.0M585.6 171.3l0.7 -1.0M593.3 174.3l0.7 -1.0M601.1 177.3l0.7 -1.0M609.0 180.3l1.2 -1.8M613.7 179.3l-2.1 -0.8M617.4 173.7l-1.1 -0.4M621.0 168.2l-1.1 -0.4M624.5 162.9l-1.1 -0.4M627.9 157.7l-1.1 -0.4M631.3 152.6l-2.1 -0.7M634.6 147.6l-1.1 -0.4M637.8 142.7l-1.1 -0.4M640.9 137.9l-1.1 -0.4M644.0 133.3l-1.1 -0.4M647.0 128.7l-2.1 -0.7M650.0 124.2l-1.1 -0.4M652.9 119.8l-1.1 -0.4M655.7 115.5l-1.1 -0.4M658.5 111.3l-1.1 -0.4M661.2 107.1l-2.1 -0.7M663.9 103.1l-1.1 -0.4M666.5 99.1l-1.1 -0.4M669.1 95.2l-1.1 -0.3M671.6 91.3l-1.1 -0.3M674.1 87.6l-2.1 -0.6M464.7 124.2l2.1 0.8M464.1 120.2l1.1 0.4M463.5 116.3l1.1 0.4M462.9 112.2l1.1 0.4M462.3 108.2l2.1 0.8M461.6 104.1l1.1 0.4M461.0 99.9l1.1 0.4M460.4 95.7l1.1 0.4M459.7 91.4l2.1 0.7M459.0 87.1l1.1 0.4M458.4 82.8l1.1 0.4M457.7 78.4l1.1 0.4M457.0 73.9l2.1 0.7" stroke="#6a6a6a" stroke-width="0.5" fill="none"/>
<g font-family='"Liberation Sans", Arial, sans-serif' font-size="7.5" fill="#2e2e2e" text-anchor="middle">
<text x="458.8" y="135.5">−10</text>
<text x="493.9" y="148.3">−5</text>
<text x="529.6" y="161.2">0</text>
<text x="566.3" y="175.2">5</text>
<text x="604.1" y="190.6">10</text>
<text x="622.6" y="185.2">−10</text>
<text x="638.0" y="158.7">−5</text>
<text x="651.0" y="134.5">0</text>
<text x="665.8" y="112.8">5</text>
<text x="681.1" y="92.5">10</text>
<text x="449.2" y="77.8">0.6</text>
<text x="451.4" y="94.0">0.4</text>
<text x="454.3" y="109.5">0.2</text>
<text x="456.5" y="124.9">0.0</text>
</g>
<g font-family='"Liberation Sans", Arial, sans-serif' fill="#7a7a7a" text-anchor="middle">
<text x="521.2" y="175.4" font-size="12.5" font-style="italic">x</text>
<text x="662.4" y="141.6" font-size="12.5" font-style="italic">t</text>
<text x="428.3" y="97.3" font-size="11.5">| <tspan font-style="italic">v</tspan><tspan font-size="8.5" dy="2">26</tspan><tspan dy="-2"> |</tspan></text>
</g>
</svg>
</body></html>
